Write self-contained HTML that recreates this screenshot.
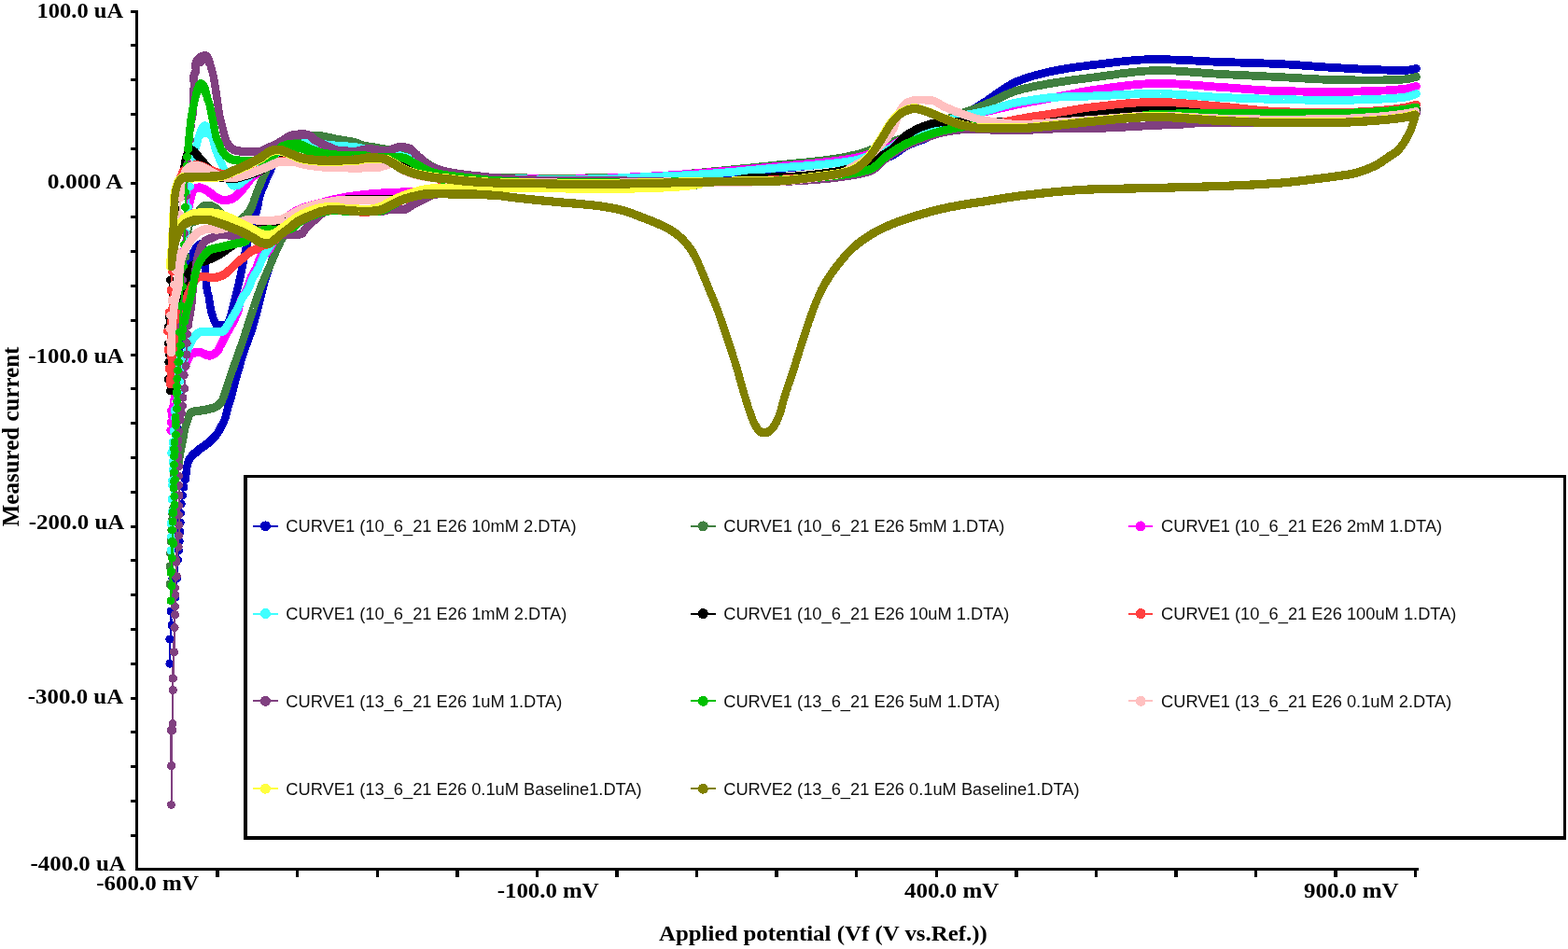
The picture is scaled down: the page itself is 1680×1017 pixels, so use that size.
<!DOCTYPE html>
<html lang="en">
<head>
<meta charset="utf-8">
<title>Cyclic voltammetry overlay</title>
<style>
html,body{margin:0;padding:0;background:#fff;}
body{width:1680px;height:1017px;overflow:hidden;}
svg{display:block;}
.ax{font-family:"Liberation Serif","DejaVu Serif",serif;font-weight:bold;font-size:23.1px;fill:#000;}
.lg{font-family:"Liberation Sans","DejaVu Sans",sans-serif;font-size:18.3px;fill:#111;}
.band{fill:none;stroke-linejoin:round;stroke-linecap:round;}
.thin{fill:none;stroke-width:2;stroke-linejoin:round;}
</style>
</head>
<body>
<svg width="1680" height="1017" viewBox="0 0 1680 1017">
<rect x="0" y="0" width="1680" height="1017" fill="#ffffff"/>

<g shape-rendering="crispEdges">
<g stroke="#0000C0" fill="#0000C0">
<polyline class="band" stroke-width="8.8" points="750,197.5 748.5,197.7 747,198 745.5,198.2 744.1,198.4 742.6,198.6 741.1,198.8 739.6,199 738.1,199.2 736.6,199.3 735.1,199.5 733.6,199.6 732.1,199.7 730.6,199.9 729.1,200 727.6,200.1 726.1,200.2 724.6,200.3 723.1,200.4 721.6,200.5 720.2,200.6 718.7,200.7 717.2,200.8 715.7,200.8 714.2,200.9 712.7,201 711.2,201.1 709.7,201.1 708.2,201.2 706.7,201.3 705.2,201.3 703.7,201.4 702.2,201.4 700.7,201.5 699.2,201.5 697.7,201.6 696.2,201.6 694.7,201.7 693.2,201.7 691.7,201.8 690.2,201.8 688.7,201.8 687.2,201.9 685.7,201.9 684.2,202 682.7,202 681.1,202 679.6,202.1 678.1,202.1 676.6,202.1 675.1,202.2 673.6,202.2 672.1,202.2 670.6,202.3 669.1,202.3 667.6,202.3 666.1,202.3 664.6,202.4 663.1,202.4 661.6,202.4 660.1,202.4 658.6,202.4 657.1,202.4 655.6,202.4 654.1,202.4 652.6,202.4 651.1,202.4 649.6,202.4 648.1,202.4 646.6,202.4 645.1,202.4 643.6,202.4 642.1,202.4 640.6,202.4 639.1,202.3 637.6,202.3 636.1,202.3 634.6,202.3 633.1,202.3 631.6,202.3 630.1,202.3 628.6,202.3 627.1,202.3 625.6,202.2 624.1,202.2 622.6,202.2 621.1,202.2 619.6,202.2 618.1,202.2 616.6,202.2 615.1,202.1 613.6,202.1 612.1,202.1 610.6,202.1 609.1,202.1 607.6,202.1 606.1,202.1 604.6,202 603.1,202 601.6,202 600.1,202 598.6,202 597.1,202 595.6,202 594.1,201.9 592.6,201.9 591.1,201.9 589.6,201.9 588.1,201.9 586.6,201.9 585.1,201.9 583.6,201.8 582.1,201.8 580.6,201.8 579.1,201.8 577.6,201.8 576.1,201.7 574.6,201.7 573.1,201.7 571.6,201.7 570.1,201.7 568.6,201.7 567.1,201.6 565.6,201.6 564.1,201.6 562.6,201.6 561.1,201.6 559.6,201.5 558.1,201.5 556.6,201.5 555.1,201.5 553.6,201.5 552.1,201.4 550.6,201.4 549.1,201.4 547.6,201.4 546.1,201.3 544.6,201.3 543,201.3 541.5,201.3 540,201.2 538.5,201.2 537,201.2 535.5,201.2 534,201.1 532.5,201.1 531,201.1 529.5,201.1 528,201 526.5,201 525,201 523.5,201 522,201 520.5,201 519,201"/>
<polyline class="band" stroke-width="9.2" points="519,201 517.5,201 516,201 514.5,201 513,201 511.5,201 510,201 508.5,201 507,201 505.5,201 504,201 502.5,201 501,201 499.5,201 498,201 496.5,201 495,201 493.5,201 492,201 490.5,201 489,201 487.5,201 486,201.1 484.5,201.1 483,201.1 481.5,201.2 480,201.2 478.5,201.2 477,201.3 475.5,201.3 474,201.4 472.5,201.4 471,201.5 469.5,201.5 468,201.7 466.5,201.9 465.1,202.2 463.6,202.7 462.2,203.2 460.8,203.7 459.4,204.2 458,204.8 456.6,205.4 455.3,206.1 453.9,206.7 452.5,207.3 451.2,207.9 449.8,208.5 448.4,209 447,209.6 445.5,210 444.1,210.4 442.6,210.8 441.2,211.2 439.7,211.5 438.3,211.9 436.8,212.2 435.4,212.6 433.9,213 432.5,213.5 431.1,214 429.7,214.6 428.3,215.2 427,215.8 425.6,216.5 424.3,217.1 422.9,217.8 421.6,218.5 420.2,219.1 418.9,219.8 417.5,220.5 416.2,221.2 414.9,221.9 413.6,222.6 412.2,223.3 410.8,223.9 409.4,224.4 408,224.8 406.5,225.2 405.1,225.6 403.6,225.9 402.1,226.1 400.6,226.2 399.1,226.3 397.6,226.4 396.1,226.5 394.6,226.5 393.1,226.6 391.6,226.6 390.1,226.6 388.6,226.6 387.1,226.6 385.6,226.5 384.1,226.5 382.6,226.4 381.1,226.3 379.6,226.2 378.1,226 376.6,225.9 375.1,225.8 373.7,225.7 372.2,225.5 370.7,225.4 369.2,225.3 367.7,225.2 366.2,225 364.7,224.9 363.2,224.8 361.7,224.6 360.2,224.6 358.7,224.5 357.2,224.5 355.7,224.6 354.2,224.8 352.7,224.9 351.2,225.2 349.8,225.5 348.3,225.8 346.8,226.1 345.4,226.5 343.9,226.8 342.5,227.3 341,227.7 339.6,228.3 338.2,228.8 336.8,229.4 335.5,230 334.1,230.6 332.7,231.1 331.3,231.7 329.9,232.3 328.5,232.9 327.1,233.4 325.8,234.1 324.4,234.7 323.1,235.3 321.7,236 320.4,236.8 319.1,237.5 317.9,238.3 316.6,239.2 315.4,240.1 314.2,241 313.1,241.9 311.9,242.9 310.7,243.8 309.6,244.8"/>
<polyline class="band" stroke-width="8.8" points="309.6,244.8 308.5,245.9 307.5,247 306.5,248.1 305.5,249.3 304.7,250.5 303.9,251.7 303.1,253 302.4,254.3 301.7,255.6 301,257 300.3,258.4"/>
<polyline class="band" stroke-width="8.4" points="300.3,258.4 299.7,259.7 299,261.1 298.4,262.4 297.7,263.8 297.1,265.2 296.5,266.5 295.8,267.9 295.2,269.3 294.6,270.6 294.1,272 293.5,273.4 292.9,274.8 292.4,276.2 291.8,277.6 291.3,279 290.8,280.4 290.3,281.8 289.8,283.3 289.3,284.7 288.8,286.1 288.3,287.5 287.8,288.9 287.3,290.3 286.8,291.8 286.3,293.2 285.9,294.6 285.4,296 284.9,297.5 284.4,298.9 284,300.3 283.5,301.7 283.1,303.2 282.7,304.6 282.3,306.1 282,307.5 281.6,309 281.2,310.4 280.9,311.9 280.6,313.4 280.2,314.8 279.9,316.3 279.5,317.8 279.2,319.2 278.9,320.7 278.5,322.1 278.2,323.6 277.8,325.1 277.4,326.5 277,328 276.6,329.4 276.3,330.9 275.9,332.3 275.5,333.8 275.1,335.2 274.7,336.7 274.3,338.1 273.9,339.6 273.5,341 273.1,342.4 272.7,343.9 272.3,345.3 271.9,346.8 271.4,348.2 271,349.7 270.6,351.1 270.1,352.5 269.7,354 269.2,355.4 268.8,356.8 268.3,358.2 267.7,359.6 267.2,361.1 266.7,362.5 266.2,363.9 265.6,365.3 265.1,366.7 264.6,368.1 264.1,369.5 263.6,370.9 263,372.3 262.5,373.7 262,375.1 261.5,376.6 261,378 260.5,379.4 260.1,380.8 259.6,382.2 259.2,383.7 258.8,385.1 258.4,386.6 258,388 257.6,389.5 257.2,390.9 256.8,392.4 256.4,393.8 256,395.3 255.5,396.7 255.1,398.1 254.7,399.6 254.2,401 253.8,402.4 253.3,403.9 252.9,405.3 252.5,406.8 252.1,408.2 251.7,409.7 251.3,411.1 251,412.6 250.7,414 250.3,415.5 250,417 249.7,418.4 249.3,419.9 249,421.4 248.6,422.8 248.2,424.3 247.8,425.7 247.3,427.1 246.8,428.5 246.3,430 245.9,431.4 245.4,432.8 244.9,434.2 244.5,435.7 244.1,437.1 243.7,438.6 243.4,440 243,441.5 242.6,442.9 242.3,444.4 241.9,445.9 241.5,447.3 241,448.7 240.5,450.1 239.9,451.5 239.2,452.9 238.6,454.2"/>
<polyline class="band" stroke-width="8.8" points="238.6,454.2 237.9,455.6 237.2,456.9 236.6,458.2 235.8,459.6 235.1,460.9 234.3,462.2 233.5,463.5 232.7,464.7 231.8,465.9 230.9,467.1 229.9,468.2 228.9,469.3 227.8,470.4 226.7,471.4 225.6,472.4 224.5,473.4"/>
<polyline class="band" stroke-width="9.2" points="224.5,473.4 223.4,474.4 222.2,475.4 221.1,476.3 219.9,477.2 218.6,478.1 217.4,479 216.1,479.8 214.9,480.7 213.7,481.6 212.5,482.5 211.3,483.4 210.2,484.4 209.1,485.4 207.9,486.4 206.7,487.5"/>
<polyline class="band" stroke-width="8.8" points="206.7,487.5 205.6,488.5 204.6,489.7 203.7,490.8 202.9,492 202.3,493.3"/>
<polyline class="band" stroke-width="8.4" points="202.3,493.3 201.8,494.7 201.3,496.2 200.9,497.6 200.5,499.1 200.3,500.6 200.1,502.1 200,503.6 199.8,505.1 199.6,506.6 199.4,508.1 199.2,509.6 199,511 198.7,512.5 198.5,514"/>
<polyline class="thin" points="198.5,514 197,522 195.5,531 194.3,540 193.6,550 193.2,560 193,570 192.3,580 191.5,590 190.5,600 189.5,620 188,640 183,655 184,670 181.9,685 181.9,711.2"/>
<g stroke="none"><circle cx="198.5" cy="514" r="4.5"/><circle cx="197" cy="522" r="4.5"/><circle cx="195.5" cy="531" r="4.5"/><circle cx="194.3" cy="540" r="4.5"/><circle cx="193.6" cy="550" r="4.5"/><circle cx="193.2" cy="560" r="4.5"/><circle cx="193" cy="570" r="4.5"/><circle cx="192.3" cy="580" r="4.5"/><circle cx="191.5" cy="590" r="4.5"/><circle cx="190.5" cy="600" r="4.5"/><circle cx="189.5" cy="620" r="4.5"/><circle cx="188" cy="640" r="4.5"/><circle cx="183" cy="655" r="4.5"/><circle cx="184" cy="670" r="4.5"/><circle cx="181.9" cy="685" r="4.5"/><circle cx="181.9" cy="711.2" r="4.5"/></g>
<polyline class="thin" points="181.9,711.2 182.6,685 183.6,655 184.8,620 186,570 188,520 190.4,459 192.5,420 195,370 198,330 200.5,302 203,284"/>
<g stroke="none"><circle cx="181.9" cy="711.2" r="4.5"/><circle cx="182.6" cy="685" r="4.5"/><circle cx="183.6" cy="655" r="4.5"/><circle cx="184.8" cy="620" r="4.5"/><circle cx="186" cy="570" r="4.5"/><circle cx="188" cy="520" r="4.5"/><circle cx="190.4" cy="459" r="4.5"/><circle cx="192.5" cy="420" r="4.5"/><circle cx="195" cy="370" r="4.5"/><circle cx="198" cy="330" r="4.5"/><circle cx="200.5" cy="302" r="4.5"/><circle cx="203" cy="284" r="4.5"/></g>
<polyline class="band" stroke-width="8.4" points="203,284 203.3,282.5 203.6,281 204,279.6 204.4,278.1 204.9,276.7 205.3,275.3 205.9,273.9 206.5,272.5 207.1,271.1"/>
<polyline class="band" stroke-width="8.8" points="207.1,271.1 207.8,269.8 208.5,268.5 209.3,267.2 210.1,265.9 211,264.6 211.9,263.6 213.1,262.5"/>
<polyline class="band" stroke-width="9.2" points="213.1,262.5 214.4,261.8 215.6,262.5"/>
<polyline class="band" stroke-width="8.8" points="215.6,262.5 216.5,263.9"/>
<polyline class="band" stroke-width="8.4" points="216.5,263.9 216.9,265.2 217.2,266.7 217.5,268.2 217.7,269.7 217.9,271.3 218.1,272.8 218.3,274.3 218.5,275.7 218.7,277.2 218.9,278.7 219,280.2 219.2,281.7 219.3,283.2 219.5,284.7 219.6,286.2 219.7,287.7 219.8,289.2 220,290.7 220.1,292.2 220.2,293.7 220.3,295.2 220.4,296.7 220.5,298.2 220.6,299.7 220.8,301.2 220.9,302.7 221,304.2 221.2,305.7 221.3,307.2 221.5,308.7 221.7,310.1 221.9,311.6 222.3,313.1 222.7,314.5 223.2,315.9 223.6,317.4 223.9,318.9 224.1,320.3 224.3,321.8 224.5,323.3 224.7,324.8 224.9,326.3 225.1,327.8 225.4,329.3 225.7,330.7 226,332.2 226.3,333.7 226.7,335.1 227.1,336.6 227.6,338 228,339.5 228.5,340.9 229.1,342.3 229.7,343.7 230.3,345.2"/>
<polyline class="band" stroke-width="8.8" points="230.3,345.2 231.1,346.5 232,347.5"/>
<polyline class="band" stroke-width="9.2" points="232,347.5 233.2,348.1 234.7,348.6 236.3,349 237.8,349 239.4,348.8 241,348.4 242.4,347.9 243.3,347.4 244.1,346.6"/>
<polyline class="band" stroke-width="8.8" points="244.1,346.6 244.8,345.5 245.4,344.2"/>
<polyline class="band" stroke-width="8.4" points="245.4,344.2 245.9,342.7 246.4,341.1 246.9,339.5 247.4,337.8 247.8,336.1 248.2,334.5 248.6,333 249,331.6 249.4,330.1 249.8,328.7 250.1,327.2 250.4,325.8 250.8,324.3 251.1,322.8 251.4,321.4 251.8,319.9 252.1,318.4 252.5,317 252.8,315.5 253.2,314.1 253.6,312.6 254,311.1 254.3,309.7 254.7,308.2 255.1,306.8 255.4,305.3 255.8,303.9 256.1,302.4 256.5,300.9 256.8,299.5 257.1,298 257.5,296.6 257.8,295.1 258.1,293.6 258.4,292.2 258.7,290.7 259,289.2 259.3,287.7 259.6,286.3 259.9,284.8 260.2,283.3 260.5,281.9 260.8,280.4 261.1,278.9 261.4,277.4 261.6,276 261.9,274.5 262.2,273 262.5,271.5 262.8,270.1 263.1,268.6 263.4,267.1 263.7,265.7 264,264.2 264.4,262.7 264.7,261.3 265.1,259.8 265.5,258.4 265.9,256.9 266.4,255.5 266.8,254.1 267.2,252.6 267.6,251.2 268.1,249.7 268.5,248.3 269,246.9 269.4,245.4 269.9,244 270.4,242.6 270.8,241.2 271.3,239.7 271.7,238.3 272.1,236.8 272.5,235.4 272.9,233.9 273.3,232.5 273.7,231 274.1,229.6 274.4,228.1 274.8,226.7 275.2,225.2 275.6,223.8 275.9,222.3 276.2,220.9 276.5,219.4 276.8,217.9 277.1,216.4 277.3,214.9 277.6,213.5 277.9,212 278.3,210.5 278.7,209.1 279.1,207.7 279.6,206.3 280.1,204.9 280.7,203.5 281.3,202.1 281.9,200.7 282.5,199.3 283.1,197.9 283.7,196.6 284.3,195.2 284.8,193.8 285.4,192.4 286,191 286.6,189.6 287.2,188.2 287.8,186.9 288.4,185.5 289,184.1 289.7,182.8 290.3,181.4 290.9,180.1 291.6,178.7 292.3,177.3"/>
<polyline class="band" stroke-width="8.8" points="292.3,177.3 292.9,176 293.6,174.7 294.3,173.3 295.1,172 295.8,170.8 296.6,169.5 297.4,168.2 298.3,167 299.2,165.7 300.1,164.5 301,163.3 302,162.1 303,161 304,160 305.1,159 306.2,158"/>
<polyline class="band" stroke-width="9.2" points="306.2,158 307.4,157 308.6,156 309.9,155.1 311.2,154.3 312.5,153.6 313.8,153.1 315.2,152.6 316.6,152.1 318,151.7 319.5,151.3 321,150.9 322.5,150.7 324,150.5 325.5,150.5 327,150.5 328.5,150.5 330,150.6 331.5,150.6 333,150.7 334.5,150.7 336,150.8 337.5,150.9 339,151 340.5,151 342,151.1 343.5,151.3 345,151.4 346.5,151.6 348,151.9 349.4,152.1 350.9,152.4 352.4,152.6 353.9,152.9 355.3,153.2 356.8,153.5 358.3,153.8 359.8,154.1 361.3,154.4 362.7,154.7 364.2,155 365.7,155.3 367.2,155.6 368.7,155.8 370.1,156 371.6,156.2 373.1,156.4 374.6,156.6 376.1,156.8 377.6,157 379.1,157.2 380.6,157.3 382.1,157.5 383.6,157.7 385.1,157.8 386.6,158 388.1,158.2 389.5,158.3 391,158.5 392.5,158.7 394,158.8 395.5,159 397,159.2 398.5,159.3 400,159.5 401.5,159.7 403,159.9 404.4,160.1 405.9,160.4 407.4,160.6 408.9,160.8 410.4,161.1 411.8,161.3 413.3,161.6 414.8,161.9 416.2,162.2 417.7,162.5 419.2,162.8 420.7,163.1 422.1,163.4 423.6,163.8 425.1,164.1 426.5,164.5 428,164.9 429.5,165.3 430.9,165.7 432.4,166.1 433.8,166.5 435.3,166.9 436.7,167.3 438.2,167.8 439.6,168.2 441,168.7 442.4,169.1 443.8,169.6 445.2,170.1 446.6,170.6 448,171.2 449.4,171.8 450.7,172.4 452.1,173.1 453.4,173.8 454.7,174.5 456.1,175.3 457.4,176 458.7,176.7 460.1,177.5 461.4,178.2 462.7,178.9 464.1,179.6 465.4,180.2 466.8,180.8 468.2,181.4 469.6,181.9 471,182.3 472.4,182.8 473.8,183.2 475.3,183.6 476.7,184.1 478.1,184.5 479.6,184.9 481.1,185.2 482.5,185.6 484,186 485.5,186.3 487,186.6 488.4,186.9 489.9,187.2 491.4,187.5 492.9,187.7 494.4,187.9 495.8,188.1 497.3,188.3 498.8,188.5 500.3,188.6 501.8,188.8 503.3,189 504.7,189.1 506.2,189.3 507.7,189.4 509.2,189.6 510.7,189.7 512.2,189.8 513.7,190 515.2,190.1 516.7,190.2 518.2,190.3 519.7,190.4 521.2,190.5"/>
<polyline class="band" stroke-width="8.8" points="521.2,190.5 522.7,190.6 524.2,190.7 525.7,190.8 527.3,190.8 528.8,190.9 530.3,190.9 531.8,191 533.2,191 534.7,191.1 536.2,191.1 537.7,191.1 539.2,191.2 540.7,191.2 542.2,191.3 543.7,191.3 545.2,191.3 546.7,191.4 548.2,191.4 549.7,191.4 551.2,191.5 552.7,191.5 554.2,191.5 555.7,191.5 557.2,191.6 558.8,191.6 560.3,191.6 561.8,191.7 563.3,191.7 564.8,191.7 566.3,191.7 567.8,191.8 569.3,191.8 570.8,191.8 572.3,191.8 573.8,191.8 575.3,191.9 576.8,191.9 578.3,191.9 579.8,191.9 581.3,191.9 582.8,191.9 584.3,191.9 585.8,191.9 587.3,192 588.8,192 590.3,192 591.8,192 593.3,192 594.8,192 596.3,192 597.8,192 599.3,192 600.8,192 602.3,192 603.8,192 605.3,192 606.8,192 608.3,192 609.8,192 611.3,192 612.8,191.9 614.3,191.9 615.8,191.9 617.3,191.9 618.8,191.9 620.3,191.9 621.8,191.9 623.3,191.8 624.8,191.8 626.3,191.8 627.8,191.8 629.3,191.7 630.8,191.7 632.3,191.7 633.8,191.7 635.3,191.6 636.8,191.6 638.3,191.6 639.8,191.5 641.3,191.5 642.8,191.5 644.3,191.4 645.8,191.4 647.3,191.4 648.8,191.3 650.3,191.3 651.8,191.3 653.3,191.2 654.8,191.2 656.3,191.2 657.8,191.1 659.3,191.1 660.8,191 662.3,191 663.8,191 665.3,190.9 666.8,190.9 668.3,190.8 669.8,190.8 671.3,190.7 672.8,190.7 674.3,190.7 675.8,190.6 677.3,190.6 678.8,190.5 680.3,190.5 681.8,190.4 683.3,190.4 684.8,190.3 686.3,190.3 687.8,190.2 689.3,190.2 690.8,190.2 692.3,190.1 693.8,190.1 695.3,190 696.8,190 698.3,189.9 699.8,189.9 701.3,189.8 702.8,189.8 704.3,189.7 705.8,189.7 707.3,189.6 708.8,189.5 710.3,189.5 711.8,189.4 713.3,189.3 714.8,189.3 716.3,189.2 717.8,189.1 719.3,189.1 720.8,189 722.3,188.9 723.8,188.8 725.3,188.8 726.8,188.7 728.3,188.6 729.8,188.5 731.3,188.4 732.8,188.4 734.3,188.3 735.8,188.2 737.3,188.1 738.8,188 740.3,187.9 741.8,187.8 743.3,187.8 744.8,187.7 746.3,187.6 747.8,187.5 749.3,187.4 750.8,187.3 752.3,187.2 753.8,187.1 755.3,187 756.8,187 758.3,186.9 759.8,186.8 761.3,186.7 762.8,186.6 764.3,186.5 765.8,186.4 767.3,186.3 768.8,186.2 770.3,186.1 771.8,186 773.3,185.9 774.8,185.7 776.3,185.6 777.8,185.5 779.3,185.4 780.8,185.3 782.3,185.2 783.8,185.1 785.3,185 786.8,184.8 788.3,184.7 789.8,184.6 791.2,184.5 792.7,184.4 794.2,184.2 795.7,184.1 797.2,184 798.7,183.9 800.2,183.8 801.7,183.6 803.2,183.5 804.7,183.4 806.2,183.3 807.7,183.1 809.2,183 810.7,182.9 812.2,182.7 813.7,182.6 815.2,182.5 816.7,182.3 818.2,182.2 819.7,182.1 821.2,182 822.7,181.8 824.2,181.7 825.7,181.6 827.1,181.4 828.6,181.3 830.1,181.2 831.6,181 833.1,180.9 834.6,180.8 836.1,180.6 837.6,180.5 839.1,180.4 840.6,180.2 842.1,180.1 843.6,179.9 845.1,179.8 846.6,179.6 848.1,179.5 849.6,179.4 851.1,179.2 852.6,179.1 854,178.9 855.5,178.8 857,178.6 858.5,178.5 860,178.3 861.5,178.2 863,178 864.5,177.9 866,177.7 867.5,177.6 869,177.4 870.5,177.2 872,177.1 873.5,176.9 875,176.8 876.4,176.6 877.9,176.5 879.4,176.3 880.9,176.2 882.4,176 883.9,175.8 885.4,175.7 886.9,175.5 888.4,175.4 889.9,175.2 891.4,175.1 892.9,174.9 894.4,174.8 895.9,174.6 897.4,174.4 898.8,174.3 900.3,174.1 901.8,174 903.3,173.8 904.8,173.7 906.3,173.5 907.8,173.3 909.3,173.2 910.8,173 912.3,172.9 913.8,172.7 915.3,172.5 916.8,172.4 918.2,172.2 919.7,172 921.2,171.9 922.7,171.7 924.2,171.5 925.8,171.4 927.3,171.2 928.8,171.1 930.3,171 931.9,170.8 933.4,170.7 934.9,170.5 936.4,170.4 938,170.2 939.5,170 941,169.8 942.4,169.7 943.9,169.5 945.4,169.2 946.8,169 948.3,168.8 949.7,168.5 951.1,168.2 952.5,167.9 953.8,167.5 955.1,166.9 956.5,166.3 957.7,165.6 959,164.8 960.3,163.9 961.5,163 962.8,162.1 964,161.2 965.3,160.3 966.6,159.3 967.8,158.5 969.1,157.6 970.4,156.8 971.7,156.1 973.1,155.5 974.5,154.9 975.8,154.3 977.2,153.8 978.7,153.2 980.1,152.7 981.5,152.2 982.9,151.7 984.3,151.2 985.8,150.7 987.2,150.1 988.6,149.6 989.9,149 991.3,148.4 992.6,147.7 993.9,147 995.2,146.3 996.5,145.5 997.7,144.7 999,143.9 1000.2,143 1001.5,142.2 1002.7,141.3 1003.9,140.4 1005.2,139.5 1006.4,138.7 1007.7,137.8 1008.9,137 1010.2,136.1 1011.4,135.3 1012.7,134.6 1014,133.8 1015.3,133 1016.6,132.3 1017.9,131.6 1019.2,130.8 1020.5,130.1 1021.9,129.4 1023.2,128.7 1024.5,128 1025.8,127.2 1027.1,126.5 1028.5,125.8 1029.8,125.1 1031.1,124.3 1032.4,123.6 1033.7,122.9 1035,122.1 1036.3,121.3 1037.6,120.6 1038.8,119.8 1040.1,119 1041.4,118.2 1042.7,117.4 1043.9,116.6 1045.2,115.8 1046.4,114.9 1047.7,114.1 1049,113.3 1050.2,112.5 1051.5,111.7 1052.8,110.9 1054,110.1 1055.3,109.3 1056.6,108.4 1057.8,107.6 1059.1,106.7 1060.3,105.8 1061.6,105 1062.8,104.1 1064.1,103.2 1065.3,102.3 1066.5,101.4 1067.8,100.5 1069,99.7 1070.3,98.8 1071.5,97.9 1072.8,97.1 1074.1,96.2 1075.3,95.4 1076.6,94.6 1077.8,93.7 1079.1,93 1080.4,92.2 1081.7,91.4 1083,90.7 1084.3,90 1085.6,89.3 1086.9,88.6 1088.2,88 1089.6,87.4 1090.9,86.8 1092.3,86.3 1093.6,85.8 1095,85.3 1096.4,84.8 1097.8,84.3 1099.2,83.8 1100.6,83.3 1102,82.9 1103.5,82.4 1104.9,82 1106.3,81.6 1107.8,81.1 1109.2,80.7 1110.7,80.3 1112.2,79.9 1113.6,79.5 1115.1,79.1 1116.6,78.8 1118.1,78.4 1119.5,78.1 1121,77.7 1122.5,77.4 1124,77.1 1125.5,76.7 1126.9,76.4 1128.4,76.1 1129.9,75.8 1131.3,75.5 1132.8,75.2 1134.3,75 1135.8,74.7 1137.2,74.4 1138.7,74.2 1140.2,73.9 1141.7,73.7 1143.1,73.4 1144.6,73.2 1146.1,72.9 1147.6,72.7 1149.1,72.5 1150.6,72.3 1152.1,72.1 1153.5,71.8 1155,71.6 1156.5,71.4 1158,71.2 1159.5,71 1161,70.9 1162.5,70.7 1164,70.5 1165.5,70.3 1167,70.1 1168.5,69.9 1169.9,69.8 1171.4,69.6 1172.9,69.4 1174.4,69.2 1175.9,69 1177.4,68.9 1178.9,68.7 1180.4,68.5 1181.9,68.3 1183.4,68.1 1184.9,67.9 1186.3,67.7 1187.8,67.6 1189.3,67.4 1190.8,67.2 1192.3,67 1193.8,66.8 1195.3,66.7 1196.8,66.5 1198.3,66.3 1199.8,66.1 1201.3,66 1202.8,65.8 1204.3,65.6 1205.8,65.5 1207.3,65.3 1208.8,65.2 1210.3,65 1211.8,64.9 1213.3,64.8 1214.8,64.6 1216.3,64.5 1217.8,64.4 1219.2,64.3 1220.7,64.2 1222.2,64.1 1223.7,64 1225.2,63.9 1226.7,63.9 1228.2,63.8 1229.7,63.7 1231.2,63.7 1232.7,63.7 1234.2,63.6 1235.7,63.6 1237.2,63.6 1238.7,63.6 1240.2,63.6 1241.7,63.6 1243.2,63.6 1244.7,63.7 1246.2,63.7 1247.7,63.7 1249.2,63.7 1250.7,63.8 1252.2,63.8 1253.7,63.9 1255.2,63.9 1256.7,64 1258.2,64 1259.7,64.1 1261.2,64.1 1262.7,64.2 1264.2,64.3 1265.7,64.3 1267.2,64.4 1268.7,64.5 1270.2,64.5 1271.7,64.6 1273.2,64.7 1274.7,64.8 1276.2,64.8 1277.7,64.9 1279.2,65 1280.7,65.1 1282.2,65.2 1283.7,65.2 1285.2,65.3 1286.7,65.4 1288.2,65.5 1289.7,65.6 1291.2,65.6 1292.7,65.7 1294.2,65.8 1295.7,65.9 1297.2,65.9 1298.7,66 1300.2,66.1 1301.7,66.1 1303.2,66.2 1304.7,66.3 1306.2,66.3 1307.7,66.4 1309.2,66.4 1310.7,66.5 1312.2,66.5 1313.7,66.6 1315.2,66.6 1316.7,66.7 1318.2,66.7 1319.7,66.8 1321.2,66.8 1322.7,66.9 1324.2,66.9 1325.7,67 1327.2,67 1328.7,67.1 1330.2,67.1 1331.7,67.2 1333.2,67.2 1334.7,67.2 1336.2,67.3 1337.7,67.3 1339.2,67.4 1340.7,67.4 1342.2,67.5 1343.7,67.5 1345.2,67.6 1346.7,67.6 1348.2,67.7 1349.7,67.7 1351.2,67.8 1352.7,67.8 1354.2,67.9 1355.7,67.9 1357.2,68 1358.7,68 1360.2,68.1 1361.7,68.1 1363.2,68.2 1364.7,68.3 1366.2,68.3 1367.7,68.4 1369.2,68.5 1370.7,68.5 1372.2,68.6 1373.7,68.7 1375.2,68.8 1376.7,68.9 1378.2,68.9 1379.7,69 1381.2,69.1 1382.7,69.2 1384.2,69.3 1385.7,69.4 1387.2,69.5 1388.7,69.6 1390.2,69.7 1391.7,69.8 1393.2,70 1394.7,70.1 1396.2,70.2 1397.7,70.3 1399.2,70.4 1400.7,70.5 1402.2,70.6 1403.7,70.7 1405.2,70.8 1406.7,71 1408.2,71.1 1409.7,71.2 1411.2,71.3 1412.7,71.4 1414.1,71.5 1415.6,71.6 1417.1,71.7 1418.6,71.8 1420.1,71.9 1421.6,72 1423.1,72.1 1424.6,72.2 1426.1,72.3 1427.6,72.4 1429.1,72.5 1430.6,72.5 1432.1,72.6 1433.6,72.7 1435.1,72.8 1436.6,72.9 1438.1,73 1439.6,73.1 1441.1,73.1 1442.6,73.2 1444.1,73.3 1445.6,73.4 1447.1,73.5 1448.6,73.5 1450.1,73.6 1451.6,73.7 1453.1,73.8 1454.6,73.9 1456.1,73.9 1457.6,74 1459.1,74.1 1460.6,74.1 1462.1,74.2 1463.6,74.3 1465.1,74.3 1466.6,74.4 1468.1,74.4 1469.6,74.5 1471.1,74.5 1472.6,74.6 1474.1,74.6 1475.6,74.7 1477.1,74.8 1478.6,74.8 1480.1,74.9 1481.6,74.9 1483.1,75 1484.6,75 1486.1,75.1 1487.6,75.1 1489.1,75.2 1490.6,75.2 1492.1,75.2 1493.6,75.3 1495.1,75.3 1496.6,75.3 1498.1,75.4 1499.6,75.4 1501.1,75.4 1502.6,75.4 1504.1,75.4 1505.6,75.4 1507.1,75.2 1508.6,75.1 1510.1,74.9 1511.6,74.6 1513.1,74.4 1514.5,74.1 1516,73.8 1517.5,73.5"/>
</g>
<g stroke="#408040" fill="#408040">
<polyline class="band" stroke-width="8.8" points="750,197.5 748.5,197.7 747,198 745.6,198.2 744.1,198.4 742.6,198.6 741.1,198.8 739.6,199 738.1,199.2 736.6,199.3 735.1,199.5 733.6,199.6 732.1,199.7 730.7,199.9 729.2,200 727.7,200.1 726.2,200.2 724.7,200.3 723.2,200.4 721.7,200.5 720.2,200.6 718.7,200.7 717.2,200.8 715.7,200.8 714.2,200.9 712.7,201 711.2,201.1 709.7,201.1 708.2,201.2 706.7,201.3 705.2,201.3 703.7,201.4 702.2,201.4 700.7,201.5 699.2,201.5 697.7,201.6 696.2,201.6 694.7,201.7 693.2,201.7 691.7,201.8 690.2,201.8 688.7,201.8 687.2,201.9 685.7,201.9 684.2,202 682.7,202 681.2,202 679.7,202.1 678.2,202.1 676.7,202.1 675.2,202.2 673.7,202.2 672.2,202.2 670.7,202.3 669.2,202.3 667.7,202.3 666.2,202.3 664.7,202.4 663.2,202.4 661.7,202.4 660.2,202.4 658.7,202.4 657.2,202.4 655.7,202.4 654.2,202.4 652.7,202.4 651.2,202.4 649.7,202.4 648.2,202.4 646.7,202.4 645.2,202.4 643.7,202.4 642.2,202.4 640.7,202.4 639.2,202.3 637.7,202.3 636.2,202.3 634.7,202.3 633.2,202.3 631.7,202.3 630.2,202.3 628.7,202.3 627.2,202.3 625.7,202.2 624.2,202.2 622.7,202.2 621.2,202.2 619.7,202.2 618.2,202.2 616.7,202.2 615.2,202.1 613.7,202.1 612.2,202.1 610.7,202.1 609.2,202.1 607.7,202.1 606.2,202.1 604.7,202 603.2,202 601.7,202 600.2,202 598.7,202 597.2,202 595.7,202 594.2,201.9 592.7,201.9 591.2,201.9 589.7,201.9 588.2,201.9 586.7,201.9 585.2,201.9 583.7,201.8 582.2,201.8 580.7,201.8 579.2,201.8 577.7,201.8 576.2,201.7 574.7,201.7 573.2,201.7 571.7,201.7 570.2,201.7 568.7,201.7 567.2,201.6 565.7,201.6 564.2,201.6 562.7,201.6 561.2,201.6 559.7,201.5 558.2,201.5 556.7,201.5 555.2,201.5 553.7,201.5 552.2,201.4 550.7,201.4 549.2,201.4 547.7,201.4 546.2,201.3 544.7,201.3 543.2,201.3 541.7,201.3 540.2,201.2 538.7,201.2 537.2,201.2 535.7,201.2 534.2,201.1 532.7,201.1 531.2,201.1 529.7,201.1 528.2,201 526.7,201 525.2,201 523.7,201 522.2,201 520.7,201 519.2,201"/>
<polyline class="band" stroke-width="9.2" points="519.2,201 517.7,201 516.2,201 514.7,201 513.2,201 511.7,201 510.2,201 508.7,201 507.2,201 505.7,201 504.2,201 502.7,201 501.2,201 499.7,201 498.2,201 496.7,201 495.2,201 493.7,201 492.2,201 490.7,201 489.2,201 487.7,201 486.2,201.1 484.7,201.1 483.2,201.1 481.7,201.1 480.2,201.2 478.7,201.2 477.2,201.3 475.7,201.3 474.2,201.4 472.7,201.4 471.2,201.4 469.7,201.5 468.2,201.7 466.7,201.9 465.3,202.2 463.8,202.6 462.4,203.1 461,203.6 459.6,204.2 458.2,204.7 456.9,205.3 455.5,206 454.1,206.6 452.8,207.2 451.4,207.8 450,208.4 448.6,209 447.2,209.5 445.8,209.9 444.3,210.4 442.9,210.7 441.4,211.1 440,211.5 438.5,211.8 437.1,212.2 435.6,212.6 434.2,213 432.7,213.4 431.3,213.9 429.9,214.5 428.5,215.1 427.2,215.7 425.8,216.4 424.5,217 423.1,217.7 421.8,218.3 420.4,219 419.1,219.7 417.8,220.3 416.4,221 415.1,221.8 413.8,222.5 412.4,223.1 411.1,223.8 409.7,224.3 408.3,224.8 406.8,225.2 405.4,225.5 403.9,225.8 402.4,226.1 400.9,226.2 399.4,226.3 397.9,226.4 396.4,226.5 394.9,226.5 393.4,226.5 391.9,226.6 390.4,226.6 388.9,226.6 387.4,226.6 385.9,226.5 384.4,226.5 382.9,226.4 381.4,226.3 379.9,226.2 378.4,226.1 376.9,225.9 375.4,225.8 374,225.7 372.5,225.6 371,225.5 369.5,225.3 368,225.2 366.5,225.1 365,224.9 363.5,224.8 362,224.7 360.5,224.6 359,224.5 357.5,224.5 356,224.6 354.5,224.7 353,224.9 351.5,225.2 350.1,225.4 348.6,225.7 347.1,226.1 345.7,226.4 344.2,226.8 342.8,227.2 341.3,227.6 339.9,228.1 338.5,228.7 337.1,229.3 335.8,229.8 334.4,230.4 333,231 331.6,231.6 330.2,232.1 328.8,232.7 327.5,233.3 326.1,233.9 324.7,234.5 323.4,235.2 322,235.9 320.7,236.6 319.4,237.4 318.2,238.2 316.9,239 315.7,239.9 314.5,240.8 313.3,241.7 312.1,242.6 311,243.6 309.9,244.6"/>
<polyline class="band" stroke-width="8.8" points="309.9,244.6 308.8,245.7 307.8,246.8 306.8,247.9 305.9,249.1 305.1,250.4 304.3,251.6 303.5,252.9 302.8,254.2 302.1,255.6 301.5,256.9"/>
<polyline class="band" stroke-width="8.4" points="301.5,256.9 300.8,258.3 300.2,259.7 299.6,261 298.9,262.4 298.3,263.7 297.7,265.1 297,266.5 296.4,267.8 295.8,269.2 295.2,270.6 294.6,272 294,273.3 293.4,274.7 292.9,276.1 292.3,277.5 291.7,278.9 291.1,280.2 290.5,281.6 289.9,283 289.3,284.4 288.7,285.8 288.1,287.1 287.5,288.5 286.9,289.9 286.3,291.3 285.7,292.6 285.1,294 284.5,295.4 283.9,296.7 283.3,298.1 282.7,299.5 282.1,300.9 281.5,302.3 281,303.6 280.4,305 279.9,306.4 279.4,307.8 278.8,309.3 278.3,310.7 277.8,312.1 277.3,313.5 276.8,314.9 276.3,316.3 275.8,317.7 275.3,319.2 274.9,320.6 274.4,322 273.9,323.4 273.4,324.8 272.9,326.2 272.4,327.7 271.9,329.1 271.5,330.5 271,331.9 270.5,333.4 270,334.8 269.6,336.2 269.1,337.6 268.6,339.1 268.2,340.5 267.7,341.9 267.2,343.3 266.8,344.8 266.3,346.2 265.9,347.6 265.4,349 264.9,350.5 264.5,351.9 264,353.3 263.5,354.8 263.1,356.2 262.6,357.6 262.1,359 261.7,360.5 261.2,361.9 260.7,363.3 260.3,364.7 259.8,366.1 259.3,367.6 258.8,369 258.3,370.4 257.8,371.8 257.3,373.2 256.8,374.7 256.3,376.1 255.8,377.5 255.3,378.9 254.8,380.3 254.3,381.7 253.8,383.1 253.3,384.6 252.8,386 252.3,387.4 251.8,388.8 251.3,390.2 250.8,391.6 250.3,393 249.8,394.4 249.3,395.9 248.8,397.3 248.3,398.7 247.8,400.1 247.4,401.5 246.9,402.9 246.4,404.4 245.9,405.8 245.4,407.2 245,408.6 244.5,410.1 244.1,411.5 243.6,412.9 243.2,414.4 242.7,415.8 242.2,417.2 241.8,418.6 241.3,420.1 240.8,421.5 240.3,423 239.9,424.5 239.4,425.9 238.8,427.3 238.2,428.7 237.6,429.9"/>
<polyline class="band" stroke-width="8.8" points="237.6,429.9 236.8,431.2 235.9,432.3 234.8,433.4 233.6,434.4"/>
<polyline class="band" stroke-width="9.2" points="233.6,434.4 232.4,435.2 231.1,436 229.7,436.7 228.4,437.2 226.9,437.6 225.5,438 224,438.4 222.5,438.7 221.1,439 219.6,439.3 218.1,439.5 216.6,439.7 215.1,439.9 213.7,440.2 212.1,440.4 210.5,440.6 208.8,440.9 207.2,441.2 205.9,441.5 204.8,442 204,442.7"/>
<polyline class="band" stroke-width="8.8" points="204,442.7 203.3,443.9"/>
<polyline class="band" stroke-width="8.4" points="203.3,443.9 202.7,445.5 202.2,447.1 201.6,448.7 201.1,450.1 200.5,451.5 200,452.9 199.5,454.3 199.1,455.7 198.7,457.2 198.4,458.6 198.1,460.1 197.8,461.6 197.5,463.1 197.2,464.5 196.9,466 196.6,467.5 196.4,469 196.1,470.4 195.8,471.9 195.5,473.4 195.2,474.9 194.9,476.3 194.7,477.8 194.4,479.3 194.1,480.8 193.8,482.2 193.5,483.7 193.3,485.2 193,486.7 192.8,488.1 192.5,489.6 192.3,491.1 192.1,492.6 191.8,494.1 191.6,495.5 191.4,497 191.2,498.5 191,500"/>
<polyline class="thin" points="191,500 189.5,510 188,521 186.8,532 185.8,544 184.8,556 183.8,568 183,580 182.4,593 182,607 182,626"/>
<g stroke="none"><circle cx="191" cy="500" r="4.5"/><circle cx="189.5" cy="510" r="4.5"/><circle cx="188" cy="521" r="4.5"/><circle cx="186.8" cy="532" r="4.5"/><circle cx="185.8" cy="544" r="4.5"/><circle cx="184.8" cy="556" r="4.5"/><circle cx="183.8" cy="568" r="4.5"/><circle cx="183" cy="580" r="4.5"/><circle cx="182.4" cy="593" r="4.5"/><circle cx="182" cy="607" r="4.5"/><circle cx="182" cy="626" r="4.5"/></g>
<polyline class="thin" points="182,626 183,590 184.5,550 186,510 188,470 190,430 192,390 194,350 196.5,310 199,275 203,252 207,238"/>
<g stroke="none"><circle cx="182" cy="626" r="4.5"/><circle cx="183" cy="590" r="4.5"/><circle cx="184.5" cy="550" r="4.5"/><circle cx="186" cy="510" r="4.5"/><circle cx="188" cy="470" r="4.5"/><circle cx="190" cy="430" r="4.5"/><circle cx="192" cy="390" r="4.5"/><circle cx="194" cy="350" r="4.5"/><circle cx="196.5" cy="310" r="4.5"/><circle cx="199" cy="275" r="4.5"/><circle cx="203" cy="252" r="4.5"/><circle cx="207" cy="238" r="4.5"/></g>
<polyline class="band" stroke-width="8.4" points="207,238 207.6,236.6"/>
<polyline class="band" stroke-width="8.8" points="207.6,236.6 208.3,235.3 209,234 209.7,232.6 210.4,231.3 211.1,230 211.9,228.7 212.6,227.4 213.4,226 214.2,224.8 215.1,223.6 216.2,222.5"/>
<polyline class="band" stroke-width="9.2" points="216.2,222.5 217.4,221.6 218.7,220.9 220.1,220.5 221.6,220.2 223.1,220.3 224.6,220.5 226.1,220.8 227.5,221.2 228.8,221.8 230.1,222.6 231.4,223.5 232.6,224.4 233.8,225.4 234.9,226.4"/>
<polyline class="band" stroke-width="8.8" points="234.9,226.4 235.9,227.4 236.9,228.6 237.9,229.8 238.8,231 239.7,232.1 240.7,233.3 241.7,234.6 242.7,235.8 243.8,236.9"/>
<polyline class="band" stroke-width="9.2" points="243.8,236.9 245,237.5 246.3,237.8 247.8,238.1 249.4,238.3 250.9,238.5 252.4,238.5 253.8,238.2 255.1,237.6 256.4,236.7 257.7,235.8 259,234.8 260.2,233.9 261.3,232.9 262.4,231.9"/>
<polyline class="band" stroke-width="8.8" points="262.4,231.9 263.5,230.8 264.5,229.7 265.5,228.5 266.4,227.4 267.3,226.1 268.1,224.8 268.8,223.5 269.5,222.2"/>
<polyline class="band" stroke-width="8.4" points="269.5,222.2 270.1,220.8 270.6,219.5 271.1,218 271.6,216.6 272.1,215.2 272.5,213.7 273,212.3 273.5,210.9 274,209.5 274.5,208.1 275.1,206.7 275.6,205.3 276.2,203.9 276.7,202.5 277.3,201.1 277.9,199.7 278.5,198.3 279,196.9 279.6,195.5 280.2,194.1 280.8,192.8 281.4,191.4 281.9,190 282.5,188.6 283.1,187.2 283.8,185.9 284.4,184.5 285,183.1 285.6,181.8 286.3,180.4 286.9,179.1 287.6,177.7 288.2,176.3"/>
<polyline class="band" stroke-width="8.8" points="288.2,176.3 288.9,175 289.6,173.7 290.3,172.3 291,171 291.7,169.7 292.5,168.4 293.2,167.1 294,165.8 294.8,164.5 295.6,163.3 296.5,162 297.4,160.8 298.3,159.7 299.2,158.5 300.2,157.3 301.2,156.2 302.3,155.1 303.4,154.1"/>
<polyline class="band" stroke-width="9.2" points="303.4,154.1 304.5,153.1 305.7,152.2 306.9,151.4 308.2,150.6 309.5,149.9 310.9,149.2 312.3,148.6 313.7,148 315.1,147.5 316.5,147 317.9,146.5 319.4,146 320.8,145.6 322.3,145.3 323.8,145.1 325.3,145 326.8,145 328.3,145 329.8,145.1 331.3,145.1 332.8,145.1 334.3,145.2 335.8,145.2 337.3,145.3 338.8,145.4 340.3,145.5 341.8,145.6 343.3,145.7 344.8,146 346.2,146.3 347.7,146.6 349.2,146.9 350.7,147.2 352.1,147.5 353.6,147.7 355.1,148 356.5,148.4 358,148.7 359.5,149 361,149.3 362.4,149.5 363.9,149.8 365.4,150.1 366.9,150.3 368.4,150.6 369.9,150.8 371.4,151 372.8,151.3 374.3,151.5 375.8,151.8 377.3,152.1 378.7,152.4 380.2,152.7 381.6,153.2 383,153.8 384.4,154.4 385.8,155 387.2,155.5 388.6,155.9 390,156.3 391.5,156.5 393,156.8 394.5,157 396,157.3 397.4,157.5 398.9,157.7 400.4,157.9 401.9,158.2 403.4,158.4 404.9,158.7 406.3,159 407.8,159.2 409.3,159.5 410.8,159.7 412.3,160 413.8,160.2 415.2,160.4 416.7,160.7 418.2,160.9 419.7,161.1 421.2,161.4 422.7,161.6 424.2,161.8 425.6,162.1 427.1,162.4 428.6,162.7 430,163 431.5,163.4 432.9,163.7 434.4,164.2 435.8,164.6 437.3,165.1 438.7,165.6 440.1,166.1 441.5,166.6 442.9,167.2 444.3,167.7 445.7,168.3 447,168.9 448.3,169.6 449.7,170.3 451,171.1 452.3,171.8 453.6,172.7 454.8,173.5 456.1,174.3 457.4,175.2 458.7,176 460,176.8 461.2,177.6 462.5,178.4 463.8,179.2 465.1,179.9 466.5,180.6 467.8,181.2 469.2,181.7 470.6,182.2 472,182.7 473.4,183.1 474.8,183.6 476.2,184 477.7,184.4 479.1,184.8 480.6,185.2 482.1,185.6 483.5,186 485,186.3 486.5,186.6 488,186.9 489.5,187.2 491,187.5 492.4,187.7 493.9,187.9 495.4,188 496.9,188.2 498.4,188.4 499.9,188.5 501.3,188.7 502.8,188.8 504.3,188.9 505.8,189.1 507.3,189.2 508.8,189.3 510.3,189.5 511.8,189.6 513.3,189.7 514.8,189.8 516.3,189.9 517.8,190 519.3,190.1 520.8,190.1"/>
<polyline class="band" stroke-width="8.8" points="520.8,190.1 522.3,190.2 523.9,190.3 525.4,190.3 526.9,190.4 528.4,190.4 529.9,190.5 531.4,190.5 532.9,190.5 534.4,190.5 535.9,190.6 537.4,190.6 538.9,190.6 540.4,190.6 541.9,190.6 543.4,190.7 544.9,190.7 546.4,190.7 547.9,190.7 549.4,190.7 550.9,190.7 552.4,190.8 553.9,190.8 555.4,190.8 556.9,190.8 558.4,190.8 559.9,190.8 561.4,190.8 562.9,190.8 564.4,190.9 565.9,190.9 567.4,190.9 568.9,190.9 570.4,190.9 571.9,190.9 573.4,190.9 574.9,190.9 576.4,190.9 577.9,190.9 579.4,191 580.9,191 582.4,191 583.9,191 585.4,191 586.9,191 588.4,191 589.9,191 591.4,191 592.9,191 594.4,191 595.9,191 597.4,191 598.9,191 600.4,191 601.9,191 603.4,191 604.9,191 606.4,191 607.9,191 609.4,191 610.9,191 612.4,191 613.9,191 615.4,191 616.9,190.9 618.4,190.9 619.9,190.9 621.5,190.9 623,190.9 624.5,190.9 626,190.9 627.5,190.9 629,190.8 630.5,190.8 632,190.8 633.5,190.8 635,190.8 636.5,190.8 638,190.7 639.5,190.7 641,190.7 642.5,190.7 644,190.6 645.5,190.6 647,190.6 648.5,190.6 650,190.5 651.5,190.5 653,190.5 654.5,190.5 656,190.4 657.5,190.4 659,190.4 660.5,190.4 662,190.3 663.5,190.3 665,190.3 666.5,190.2 668,190.2 669.5,190.2 671,190.1 672.5,190.1 674,190.1 675.5,190 677,190 678.5,190 680,189.9 681.5,189.9 683,189.8 684.5,189.8 686,189.8 687.5,189.7 689,189.7 690.5,189.6 692,189.6 693.5,189.6 695,189.5 696.5,189.5 698,189.4 699.5,189.4 701,189.3 702.5,189.2 704,189.2 705.5,189.1 707,189 708.5,188.9 710,188.8 711.5,188.7 713,188.6 714.5,188.5 716,188.4 717.5,188.2 719,188.1 720.5,188 722,187.8 723.5,187.7 724.9,187.6 726.4,187.4 727.9,187.3 729.4,187.1 730.9,187 732.4,186.8 733.9,186.7 735.4,186.5 736.9,186.4 738.4,186.2 739.9,186.1 741.4,185.9 742.9,185.8 744.4,185.6 745.9,185.5 747.4,185.3 748.9,185.2 750.4,185 751.9,184.9 753.4,184.7 754.9,184.6 756.4,184.5 757.8,184.3 759.3,184.2 760.8,184.1 762.3,183.9 763.8,183.8 765.3,183.6 766.8,183.5 768.3,183.4 769.8,183.2 771.3,183.1 772.8,182.9 774.3,182.8 775.8,182.7 777.3,182.5 778.8,182.4 780.3,182.2 781.8,182.1 783.3,181.9 784.8,181.8 786.2,181.6 787.7,181.5 789.2,181.4 790.7,181.2 792.2,181.1 793.7,180.9 795.2,180.8 796.7,180.6 798.2,180.5 799.7,180.3 801.2,180.2 802.7,180 804.2,179.9 805.7,179.7 807.2,179.6 808.7,179.4 810.1,179.2 811.6,179.1 813.1,178.9 814.6,178.8 816.1,178.6 817.6,178.5 819.1,178.3 820.6,178.2 822.1,178 823.6,177.9 825.1,177.7 826.6,177.6 828.1,177.4 829.6,177.3 831.1,177.1 832.6,176.9 834,176.8 835.5,176.6 837,176.5 838.5,176.3 840,176.2 841.5,176 843,175.9 844.5,175.8 846,175.6 847.5,175.5 849,175.3 850.5,175.2 852,175 853.5,174.9 855,174.7 856.5,174.6 858,174.5 859.5,174.3 861,174.2 862.5,174 864,173.9 865.5,173.7 866.9,173.6 868.4,173.4 869.9,173.2 871.4,173.1 872.9,172.9 874.4,172.7 875.9,172.6 877.4,172.4 878.9,172.2 880.4,172 881.9,171.9 883.3,171.7 884.8,171.5 886.3,171.3 887.8,171.1 889.3,170.9 890.8,170.7 892.3,170.5 893.7,170.2 895.2,170 896.7,169.8 898.2,169.5 899.7,169.3 901.2,169 902.6,168.8 904.1,168.5 905.6,168.2 907.1,167.9 908.6,167.6 910,167.3 911.5,167 913,166.7 914.4,166.4 915.9,166 917.3,165.7 918.8,165.3 920.2,164.9 921.7,164.5 923.1,164.1 924.5,163.7 926,163.2 927.4,162.7 928.8,162.2 930.2,161.7 931.6,161.2 933,160.6 934.4,160.1 935.8,159.5 937.2,159 938.6,158.4 940,157.9 941.4,157.3 942.8,156.8 944.3,156.3 945.7,155.8 947.1,155.2 948.5,154.7 949.9,154.2 951.3,153.7 952.7,153.2 954.1,152.7 955.6,152.2 957,151.7 958.4,151.2 959.8,150.7 961.2,150.2 962.6,149.6 964,149.1 965.4,148.6 966.8,148 968.2,147.5 969.6,147 971,146.4 972.4,145.8 973.8,145.3 975.2,144.7 976.5,144.1 977.9,143.4 979.3,142.8 980.6,142.2 982,141.5 983.4,140.9 984.7,140.3 986.1,139.6 987.4,139 988.8,138.4 990.2,137.8 991.6,137.2 992.9,136.6 994.3,136 995.7,135.5 997.1,134.9 998.5,134.3 999.9,133.8 1001.3,133.2 1002.7,132.7 1004.1,132.1 1005.5,131.6 1006.9,131 1008.3,130.5 1009.7,129.9 1011.1,129.4 1012.5,128.8 1013.9,128.3 1015.3,127.7 1016.6,127.1 1018,126.6 1019.4,126 1020.8,125.4 1022.2,124.9 1023.6,124.3 1025,123.8 1026.4,123.2 1027.8,122.6 1029.2,122.1 1030.6,121.5 1032,121 1033.4,120.5 1034.8,119.9 1036.2,119.4 1037.6,118.9 1039,118.4 1040.4,117.9 1041.9,117.4 1043.3,116.9 1044.7,116.4 1046.1,115.8 1047.5,115.3 1048.9,114.8 1050.3,114.3 1051.7,113.7 1053.1,113.2 1054.5,112.6 1055.9,112 1057.2,111.4 1058.6,110.8 1060,110.1 1061.4,109.5 1062.7,108.9 1064.1,108.2 1065.5,107.5 1066.8,106.9 1068.2,106.2 1069.6,105.6 1070.9,104.9 1072.3,104.2 1073.6,103.6 1075,102.9 1076.4,102.3 1077.8,101.7 1079.1,101.1 1080.5,100.5 1081.9,99.9 1083.3,99.4 1084.7,98.8 1086.1,98.3 1087.5,97.8 1088.9,97.3 1090.3,96.9 1091.7,96.5 1093.1,96.1 1094.6,95.7 1096,95.3 1097.4,95 1098.9,94.6 1100.3,94.3 1101.8,94 1103.3,93.6 1104.7,93.3 1106.2,93 1107.7,92.7 1109.2,92.4 1110.6,92.1 1112.1,91.8 1113.6,91.6 1115.1,91.3 1116.6,91 1118.1,90.7 1119.5,90.5 1121,90.2 1122.5,90 1124,89.7 1125.5,89.5 1127,89.2 1128.5,89 1129.9,88.7 1131.4,88.5 1132.9,88.3 1134.4,88 1135.9,87.8 1137.4,87.5 1138.8,87.3 1140.3,87.1 1141.8,86.9 1143.3,86.7 1144.8,86.4 1146.3,86.2 1147.8,86 1149.2,85.8 1150.7,85.6 1152.2,85.4 1153.7,85.2 1155.2,85 1156.7,84.8 1158.2,84.6 1159.7,84.4 1161.2,84.2 1162.6,84.1 1164.1,83.9 1165.6,83.7 1167.1,83.5 1168.6,83.3 1170.1,83.1 1171.6,83 1173.1,82.8 1174.6,82.6 1176.1,82.4 1177.5,82.2 1179,82 1180.5,81.8 1182,81.5 1183.5,81.3 1185,81.1 1186.5,80.9 1188,80.7 1189.5,80.5 1191,80.3 1192.5,80.1 1194,79.9 1195.4,79.7 1196.9,79.4 1198.4,79.2 1199.9,79 1201.4,78.8 1202.9,78.6 1204.4,78.4 1205.9,78.3 1207.4,78.1 1208.9,77.9 1210.4,77.7 1211.9,77.5 1213.4,77.4 1214.9,77.2 1216.4,77.1 1217.8,76.9 1219.3,76.8 1220.8,76.6 1222.3,76.5 1223.8,76.4 1225.3,76.3 1226.8,76.1 1228.3,76 1229.8,76 1231.3,75.9 1232.8,75.8 1234.3,75.7 1235.8,75.7 1237.3,75.7 1238.8,75.6 1240.3,75.6 1241.8,75.6 1243.3,75.6 1244.8,75.6 1246.3,75.6 1247.8,75.7 1249.3,75.7 1250.8,75.7 1252.2,75.8 1253.7,75.8 1255.2,75.9 1256.7,75.9 1258.2,76 1259.7,76.1 1261.2,76.2 1262.7,76.3 1264.2,76.3 1265.7,76.4 1267.2,76.5 1268.7,76.6 1270.2,76.7 1271.7,76.8 1273.2,76.9 1274.7,77 1276.2,77.2 1277.7,77.3 1279.2,77.4 1280.7,77.5 1282.2,77.6 1283.7,77.7 1285.2,77.8 1286.7,77.9 1288.2,78.1 1289.7,78.2 1291.2,78.3 1292.7,78.4 1294.2,78.5 1295.7,78.6 1297.2,78.7 1298.7,78.8 1300.2,78.9 1301.7,79 1303.2,79.1 1304.7,79.2 1306.2,79.3 1307.7,79.4 1309.2,79.5 1310.7,79.5 1312.2,79.6 1313.7,79.7 1315.2,79.8 1316.7,79.9 1318.2,79.9 1319.7,80 1321.2,80.1 1322.7,80.2 1324.2,80.2 1325.7,80.3 1327.2,80.4 1328.7,80.5 1330.2,80.5 1331.7,80.6 1333.2,80.7 1334.7,80.8 1336.2,80.8 1337.7,80.9 1339.2,81 1340.7,81.1 1342.2,81.1 1343.7,81.2 1345.2,81.3 1346.7,81.4 1348.2,81.4 1349.7,81.5 1351.2,81.6 1352.7,81.6 1354.2,81.7 1355.7,81.8 1357.2,81.9 1358.7,81.9 1360.2,82 1361.7,82.1 1363.2,82.2 1364.7,82.2 1366.2,82.3 1367.7,82.4 1369.2,82.5 1370.7,82.5 1372.2,82.6 1373.7,82.7 1375.2,82.8 1376.7,82.9 1378.2,83 1379.7,83 1381.2,83.1 1382.7,83.2 1384.2,83.3 1385.7,83.4 1387.2,83.5 1388.7,83.6 1390.2,83.7 1391.7,83.7 1393.2,83.8 1394.7,83.9 1396.2,84 1397.7,84.1 1399.2,84.2 1400.7,84.3 1402.2,84.3 1403.7,84.4 1405.2,84.5 1406.7,84.6 1408.2,84.7 1409.7,84.7 1411.2,84.8 1412.7,84.9 1414.2,84.9 1415.7,85 1417.2,85.1 1418.7,85.1 1420.2,85.2 1421.7,85.2 1423.2,85.3 1424.7,85.3 1426.2,85.4 1427.7,85.4 1429.2,85.4 1430.7,85.5 1432.2,85.5 1433.7,85.5 1435.2,85.6 1436.7,85.6 1438.2,85.6 1439.7,85.6 1441.2,85.7 1442.7,85.7 1444.2,85.7 1445.7,85.8 1447.2,85.8 1448.7,85.8 1450.2,85.8 1451.7,85.9 1453.2,85.9 1454.7,85.9 1456.2,85.9 1457.7,85.9 1459.2,85.9 1460.7,86 1462.2,86 1463.7,86 1465.2,86 1466.7,86 1468.2,86 1469.7,86 1471.2,86 1472.7,86 1474.2,86 1475.7,86 1477.2,86 1478.7,85.9 1480.2,85.9 1481.8,85.9 1483.3,85.8 1484.8,85.8 1486.3,85.8 1487.8,85.7 1489.3,85.7 1490.8,85.6 1492.3,85.6 1493.8,85.5 1495.3,85.4 1496.8,85.4 1498.3,85.3 1499.8,85.2 1501.3,85.2 1502.7,85.1 1504.2,85 1505.7,84.9 1507.2,84.7 1508.7,84.4 1510.2,84.1 1511.6,83.8 1513.1,83.5 1514.6,83.1 1516,82.8 1517.5,82.4"/>
</g>
<g stroke="#FF00FF" fill="#FF00FF">
<polyline class="band" stroke-width="8.8" points="750,197.1 748.5,197.3 747,197.6 745.5,197.8 744.1,198 742.6,198.2 741.1,198.4 739.6,198.6 738.1,198.8 736.6,198.9 735.1,199.1 733.6,199.2 732.1,199.3 730.6,199.5 729.1,199.6 727.6,199.7 726.1,199.8 724.6,199.9 723.1,200 721.6,200.1 720.1,200.2 718.6,200.3 717.1,200.4 715.6,200.4 714.1,200.5 712.6,200.6 711.1,200.7 709.6,200.7 708.1,200.8 706.6,200.9 705.1,200.9 703.6,201 702.1,201 700.6,201.1 699.1,201.1 697.6,201.2 696.1,201.2 694.6,201.3 693.1,201.3 691.6,201.4 690.1,201.4 688.6,201.4 687.1,201.5 685.6,201.5 684.1,201.6 682.6,201.6 681.1,201.6 679.6,201.7 678.1,201.7 676.6,201.8 675.1,201.8 673.6,201.8 672.1,201.8 670.6,201.9 669.1,201.9 667.6,201.9 666.1,201.9 664.6,202 663.1,202 661.6,202 660.1,202 658.6,202 657.1,202 655.6,202 654.1,202 652.6,202 651.1,202 649.6,202 648.1,202 646.6,202 645.1,202 643.6,202 642.1,202 640.6,202 639.1,201.9 637.5,201.9 636,201.9 634.5,201.9 633,201.9 631.5,201.9 630,201.9 628.5,201.9 627,201.9 625.5,201.8 624,201.8 622.5,201.8 621,201.8 619.5,201.8 618,201.8 616.5,201.8 615,201.7 613.5,201.7 612,201.7 610.5,201.7 609,201.7 607.5,201.7 606,201.7 604.5,201.6 603,201.6 601.5,201.6 600,201.6 598.5,201.6 597,201.6 595.5,201.6 594,201.5 592.5,201.5 591,201.5 589.5,201.5 588,201.5 586.5,201.5 585,201.4 583.5,201.4 582,201.4 580.5,201.4 579,201.4 577.5,201.4 576,201.3 574.5,201.3 573,201.3 571.5,201.3 570,201.3 568.5,201.3 567,201.2 565.5,201.2 563.9,201.2 562.4,201.2 560.9,201.2 559.4,201.1 557.9,201.1 556.4,201.1 554.9,201.1 553.4,201.1 551.9,201 550.4,201 548.9,201 547.4,201 545.9,200.9 544.4,200.9 542.9,200.9 541.4,200.9 539.9,200.8 538.4,200.8 536.9,200.8 535.4,200.7 533.9,200.7 532.4,200.7 530.9,200.7 529.4,200.7 527.9,200.6 526.4,200.6 524.9,200.6 523.4,200.6 521.9,200.6 520.4,200.6 518.9,200.6"/>
<polyline class="band" stroke-width="9.2" points="518.9,200.6 517.4,200.6 515.9,200.6 514.4,200.6 512.9,200.6 511.4,200.6 509.9,200.6 508.4,200.6 506.9,200.6 505.4,200.6 503.9,200.6 502.4,200.6 500.9,200.6 499.4,200.6 497.9,200.6 496.4,200.6 494.9,200.6 493.4,200.6 491.9,200.6 490.3,200.6 488.8,200.6 487.3,200.6 485.8,200.7 484.3,200.7 482.8,200.7 481.3,200.8 479.8,200.8 478.4,200.9 476.9,201.1 475.4,201.4 473.9,201.7 472.5,202.1 471,202.5 469.5,203 468.1,203.4 466.6,203.8 465.2,204.2 463.7,204.5 462.2,204.8 460.7,204.9 459.3,205 457.8,205.1 456.3,205.2 454.8,205.2 453.3,205.3 451.8,205.3 450.2,205.4 448.7,205.4 447.2,205.4 445.7,205.5 444.2,205.5 442.7,205.6 441.2,205.7 439.7,205.7 438.2,205.8 436.7,205.8 435.2,205.9 433.7,205.9 432.2,206 430.7,206 429.2,206.1 427.7,206.2 426.2,206.2 424.7,206.3 423.2,206.4 421.7,206.4 420.2,206.5 418.7,206.6 417.2,206.6 415.7,206.7 414.2,206.8 412.7,206.9 411.2,207 409.7,207 408.2,207.1 406.7,207.2 405.2,207.3 403.7,207.4 402.2,207.5 400.7,207.6 399.2,207.8 397.7,207.9 396.2,208 394.7,208.2 393.2,208.3 391.8,208.5 390.3,208.6 388.8,208.8 387.3,209 385.8,209.2 384.3,209.3 382.8,209.5 381.3,209.7 379.8,209.9 378.3,210.1 376.8,210.4 375.3,210.6 373.9,210.8 372.4,211 370.9,211.3 369.4,211.5 367.9,211.7 366.5,212 365,212.3 363.5,212.6 362,212.9 360.6,213.3 359.1,213.6 357.6,213.9 356.2,214.3 354.7,214.6 353.3,215 351.8,215.3 350.4,215.7 348.9,216.1 347.5,216.5 346,216.9 344.6,217.3 343.1,217.7 341.6,218.1 340.2,218.4 338.7,218.8 337.2,219.2 335.8,219.6 334.3,220 332.8,220.4 331.4,220.8 329.9,221.2 328.5,221.7 327.1,222.1 325.7,222.6 324.3,223.1 322.9,223.6 321.5,224.2 320.2,224.8 318.8,225.4 317.5,226.1 316.1,226.8 314.8,227.6 313.5,228.4 312.2,229.3 311,230.1 309.8,231.1 308.7,232 307.6,233"/>
<polyline class="band" stroke-width="8.8" points="307.6,233 306.6,234.1 305.6,235.2 304.6,236.4 303.7,237.6 302.8,238.8 302,240.1 301.2,241.3 300.5,242.6 299.8,244 299.2,245.3"/>
<polyline class="band" stroke-width="8.4" points="299.2,245.3 298.5,246.7 297.9,248.1 297.3,249.5 296.6,250.8 296,252.2 295.4,253.6 294.8,254.9 294.2,256.3 293.6,257.7 292.9,259.1 292.3,260.4"/>
<polyline class="band" stroke-width="8.8" points="292.3,260.4 291.6,261.8 290.9,263.1 290.2,264.5 289.5,265.9 288.8,267.3 288,268.6 287.1,269.7 286.2,270.8 285.1,271.7"/>
<polyline class="band" stroke-width="9.2" points="285.1,271.7 283.7,272.4 282.2,273.1 280.8,273.8 279.8,274.6"/>
<polyline class="band" stroke-width="8.8" points="279.8,274.6 279,275.7 278.3,276.9 277.7,278.2"/>
<polyline class="band" stroke-width="8.4" points="277.7,278.2 277.2,279.7 276.7,281.2 276.2,282.7 275.7,284.2 275.2,285.7 274.6,287.1 273.9,288.4"/>
<polyline class="band" stroke-width="8.8" points="273.9,288.4 273.2,289.8 272.4,291.1 271.7,292.4 270.9,293.7 270.2,295 269.5,296.3 268.8,297.7"/>
<polyline class="band" stroke-width="8.4" points="268.8,297.7 268.2,299 267.7,300.4 267.2,301.8 266.7,303.3 266.2,304.7 265.7,306.1 265.3,307.6 264.7,309 264.2,310.4 263.6,311.7"/>
<polyline class="band" stroke-width="8.8" points="263.6,311.7 262.9,313.1 262.1,314.4 261.3,315.7 260.5,316.9 259.7,318.2 258.9,319.6 258.3,320.9"/>
<polyline class="band" stroke-width="8.4" points="258.3,320.9 257.7,322.2 257.3,323.7 256.9,325.1 256.6,326.6 256.4,328.1 256.1,329.6 255.8,331.1 255.5,332.5 255.1,333.9 254.6,335.4 254,336.7 253.4,338.1 252.8,339.5 252.1,340.8"/>
<polyline class="band" stroke-width="8.8" points="252.1,340.8 251.4,342.2 250.7,343.5 250.1,344.9 249.4,346.2 248.6,347.5 247.9,348.8 247.1,350.1 246.4,351.4 245.6,352.7 244.9,354 244.1,355.3 243.4,356.7 242.7,358 242,359.3 241.3,360.6 240.6,362 239.9,363.3 239.2,364.6 238.5,365.9 237.8,367.3 237.1,368.6 236.4,370"/>
<polyline class="band" stroke-width="8.4" points="236.4,370 235.7,371.5 235.1,372.9"/>
<polyline class="band" stroke-width="8.8" points="235.1,372.9 234.4,374.3 233.6,375.5 232.7,376.6 231.7,377.5"/>
<polyline class="band" stroke-width="9.2" points="231.7,377.5 230.5,378.5 229.2,379.4 227.8,380.1 226.3,380.7 224.9,381 223.5,380.9 222.1,380.6 220.7,380.1 219.2,379.4 217.8,378.8 216.3,378.2 214.8,377.8 213.4,377.6 211.9,377.6 210.2,377.8 208.6,378 207.2,378.2 206,378.5 204.9,379.1 204,380.2"/>
<polyline class="band" stroke-width="8.8" points="204,380.2 203.2,381.6 202.4,383.1 201.7,384.6 201,386.1 200.3,387.4 199.6,388.7 198.9,390"/>
<polyline class="band" stroke-width="8.4" points="198.9,390 198.3,391.4 197.7,392.8 197.1,394.2 196.5,395.6 196,397"/>
<polyline class="thin" points="196,397 193,406 190,416 187.5,426 185.5,436 184,445 183.2,452.7 182.8,461.3"/>
<g stroke="none"><circle cx="196" cy="397" r="4.5"/><circle cx="193" cy="406" r="4.5"/><circle cx="190" cy="416" r="4.5"/><circle cx="187.5" cy="426" r="4.5"/><circle cx="185.5" cy="436" r="4.5"/><circle cx="184" cy="445" r="4.5"/><circle cx="183.2" cy="452.7" r="4.5"/><circle cx="182.8" cy="461.3" r="4.5"/></g>
<polyline class="thin" points="182.8,461.3 183.3,440 183.8,410 185.8,375 188.3,340 191.3,305 194.8,270 198.8,240 202.3,222"/>
<g stroke="none"><circle cx="182.8" cy="461.3" r="4.5"/><circle cx="183.3" cy="440" r="4.5"/><circle cx="183.8" cy="410" r="4.5"/><circle cx="185.8" cy="375" r="4.5"/><circle cx="188.3" cy="340" r="4.5"/><circle cx="191.3" cy="305" r="4.5"/><circle cx="194.8" cy="270" r="4.5"/><circle cx="198.8" cy="240" r="4.5"/><circle cx="202.3" cy="222" r="4.5"/></g>
<polyline class="band" stroke-width="8.4" points="202.3,222 202.6,220.5 202.9,219.1 203.3,217.6 203.6,216.1 204,214.7 204.4,213.2 204.7,211.8 205.1,210.3 205.5,208.8 205.9,207.3 206.4,205.9 207,204.6"/>
<polyline class="band" stroke-width="8.8" points="207,204.6 207.8,203.2 208.8,202"/>
<polyline class="band" stroke-width="9.2" points="208.8,202 210,201.5 211.5,201.2 213,201 214.5,201.1 216,201.5 217.4,202.1 218.8,202.6 220.1,203.3 221.4,204.1 222.7,205 223.9,205.8 225.1,206.7 226.3,207.6 227.5,208.6 228.6,209.6 229.8,210.5 231.1,211.3 232.4,212 233.7,212.7 235.1,213.4 236.5,213.9 238,214.2 239.4,214.3 241,214.4 242.5,214.4 244,214.3 245.5,214 246.9,213.6 248.3,213.1 249.6,212.5 250.9,211.7 252.1,210.7 253.2,209.7 254.4,208.7 255.5,207.7"/>
<polyline class="band" stroke-width="8.8" points="255.5,207.7 256.6,206.6 257.6,205.6 258.7,204.5 259.7,203.4 260.7,202.2 261.6,201.1 262.5,199.9 263.5,198.7 264.4,197.5 265.3,196.3 266.2,195.1 267.1,193.9 268.1,192.7 269,191.6 270,190.4 271,189.4 272.1,188.4"/>
<polyline class="band" stroke-width="9.2" points="272.1,188.4 273.3,187.4 274.4,186.4 275.6,185.5 276.8,184.6 278.1,183.7 279.3,182.9 280.6,182.1 281.8,181.3 283.1,180.5 284.4,179.7 285.6,178.8 286.8,177.9 288,177 289.1,176 290.3,175 291.4,174.1 292.5,173.1 293.7,172.1 294.8,171.1 295.9,170.1 297,169.1"/>
<polyline class="band" stroke-width="8.8" points="297,169.1 298.1,168 299.2,166.9 300.3,165.9 301.4,164.8 302.5,163.8 303.6,162.8"/>
<polyline class="band" stroke-width="9.2" points="303.6,162.8 304.8,161.9 306,161 307.2,160.3 308.5,159.5 309.8,158.7 311.2,158 312.6,157.3 314,156.7 315.4,156.2 316.8,155.8 318.2,155.5 319.7,155.2 321.2,154.9 322.6,154.7 324.1,154.4 325.7,154.3 327.2,154.1 328.7,154 330.2,154 331.7,154 333.2,154 334.7,154 336.2,154 337.7,154 339.2,154 340.7,154 342.2,154.1 343.6,154.3 345.1,154.6 346.6,154.9 348.1,155.3 349.5,155.6 351,155.8 352.5,156 354,156.1 355.5,156.3 357,156.4 358.5,156.6 360,156.7 361.5,156.8 363,156.9 364.5,157.1 366,157.2 367.5,157.3 369,157.4 370.5,157.5 372,157.6 373.5,157.7 375,157.8 376.5,157.9 378,158 379.5,158.1 380.9,158.3 382.4,158.6 383.9,158.8 385.4,159.2 386.8,159.5 388.3,159.9 389.7,160.3 391.2,160.7 392.7,161 394.1,161.3 395.6,161.6 397.1,161.9 398.6,162.1 400,162.4 401.5,162.6 403,162.8 404.5,163 406,163.3 407.5,163.5 409,163.7 410.5,163.9 411.9,164.1 413.4,164.3 414.9,164.6 416.4,164.8 417.9,165.1 419.3,165.4 420.8,165.7 422.3,166 423.7,166.3 425.2,166.6 426.7,166.9 428.1,167.3 429.6,167.6 431.1,168 432.5,168.4 434,168.8 435.4,169.2 436.9,169.6 438.3,170 439.8,170.4 441.2,170.8 442.6,171.3 444.1,171.7 445.5,172.2 446.9,172.6 448.3,173.1 449.7,173.7 451.1,174.3 452.5,174.8 453.9,175.4 455.2,176 456.6,176.7 458,177.3 459.4,177.9 460.8,178.5 462.1,179.1 463.5,179.7 464.9,180.2 466.3,180.8 467.7,181.3 469.2,181.7 470.6,182.2 472,182.6 473.4,183 474.9,183.5 476.3,183.9 477.8,184.3 479.2,184.7 480.7,185.1 482.2,185.5 483.6,185.8 485.1,186.2 486.6,186.5 488,186.8 489.5,187.1 491,187.4 492.5,187.6 493.9,187.9 495.4,188.1 496.9,188.2 498.4,188.4 499.9,188.6 501.3,188.8 502.8,188.9 504.3,189.1 505.8,189.2 507.3,189.4 508.8,189.5 510.3,189.7 511.8,189.8 513.3,189.9 514.8,190.1 516.3,190.2 517.8,190.3 519.3,190.4 520.8,190.5"/>
<polyline class="band" stroke-width="8.8" points="520.8,190.5 522.3,190.6 523.8,190.7 525.3,190.7 526.8,190.8 528.3,190.9 529.8,190.9 531.3,191 532.8,191 534.3,191.1 535.8,191.1 537.3,191.1 538.8,191.2 540.3,191.2 541.8,191.2 543.3,191.3 544.8,191.3 546.3,191.4 547.8,191.4 549.3,191.4 550.8,191.5 552.3,191.5 553.8,191.5 555.3,191.5 556.8,191.6 558.3,191.6 559.8,191.6 561.3,191.7 562.8,191.7 564.3,191.7 565.8,191.7 567.3,191.7 568.8,191.8 570.3,191.8 571.9,191.8 573.4,191.8 574.9,191.8 576.4,191.9 577.9,191.9 579.4,191.9 580.9,191.9 582.4,191.9 583.9,191.9 585.4,191.9 586.9,192 588.4,192 589.9,192 591.4,192 592.9,192 594.4,192 595.9,192 597.4,192 598.9,192 600.4,192 601.9,192 603.4,192 604.9,192 606.4,192 607.9,192 609.4,192 610.9,191.9 612.4,191.9 613.9,191.9 615.4,191.9 616.9,191.9 618.4,191.8 619.9,191.8 621.4,191.8 622.9,191.8 624.4,191.7 625.9,191.7 627.4,191.7 628.9,191.6 630.4,191.6 631.9,191.5 633.4,191.5 634.9,191.5 636.4,191.4 637.9,191.4 639.4,191.3 640.9,191.3 642.4,191.2 643.9,191.2 645.4,191.1 646.9,191.1 648.4,191 649.9,191 651.4,190.9 652.9,190.8 654.4,190.8 655.9,190.7 657.4,190.7 658.9,190.6 660.4,190.5 661.9,190.5 663.4,190.4 664.9,190.4 666.4,190.3 667.9,190.2 669.4,190.2 670.9,190.1 672.4,190 673.9,190 675.4,189.9 676.9,189.8 678.4,189.8 679.9,189.7 681.4,189.6 682.9,189.6 684.4,189.5 685.9,189.4 687.4,189.4 688.9,189.3 690.4,189.2 691.9,189.2 693.4,189.1 694.9,189 696.4,189 697.9,188.9 699.4,188.8 700.9,188.8 702.4,188.7 703.9,188.6 705.4,188.5 706.9,188.5 708.4,188.4 709.9,188.3 711.4,188.2 712.9,188.1 714.4,188 715.9,187.9 717.4,187.8 718.9,187.7 720.4,187.6 721.9,187.5 723.4,187.4 724.9,187.3 726.4,187.2 727.9,187.1 729.4,187 730.9,186.9 732.4,186.8 733.9,186.7 735.4,186.6 736.9,186.4 738.4,186.3 739.9,186.2 741.4,186.1 742.9,186 744.4,185.9 745.9,185.8 747.4,185.7 748.9,185.5 750.4,185.4 751.9,185.3 753.3,185.2 754.8,185.1 756.3,185 757.8,184.9 759.3,184.7 760.8,184.6 762.3,184.5 763.8,184.4 765.3,184.3 766.8,184.2 768.3,184 769.8,183.9 771.3,183.8 772.8,183.7 774.3,183.6 775.8,183.4 777.3,183.3 778.8,183.2 780.3,183.1 781.8,182.9 783.3,182.8 784.8,182.7 786.3,182.5 787.8,182.4 789.3,182.3 790.8,182.1 792.3,182 793.7,181.9 795.2,181.8 796.7,181.6 798.2,181.5 799.7,181.4 801.2,181.2 802.7,181.1 804.2,181 805.7,180.8 807.2,180.7 808.7,180.6 810.2,180.4 811.7,180.3 813.2,180.2 814.7,180 816.2,179.9 817.7,179.8 819.2,179.6 820.7,179.5 822.2,179.4 823.7,179.2 825.2,179.1 826.6,179 828.1,178.8 829.6,178.7 831.1,178.6 832.6,178.4 834.1,178.3 835.6,178.2 837.1,178.1 838.6,177.9 840.1,177.8 841.6,177.7 843.1,177.6 844.6,177.4 846.1,177.3 847.6,177.2 849.1,177.1 850.6,176.9 852.1,176.8 853.6,176.7 855.1,176.6 856.6,176.4 858.1,176.3 859.6,176.2 861.1,176 862.6,175.9 864.1,175.8 865.5,175.6 867,175.5 868.5,175.3 870,175.2 871.5,175 873,174.9 874.5,174.7 876,174.6 877.5,174.4 879,174.3 880.5,174.1 882,174 883.5,173.8 885,173.6 886.5,173.5 888,173.3 889.5,173.1 891,173 892.5,172.8 893.9,172.6 895.4,172.4 896.9,172.2 898.4,172 899.9,171.9 901.4,171.6 902.9,171.4 904.4,171.2 905.8,171 907.3,170.8 908.8,170.5 910.3,170.3 911.7,170 913.2,169.8 914.7,169.5 916.2,169.2 917.6,168.9 919.1,168.5 920.5,168.2 922,167.8 923.5,167.4 924.9,167 926.4,166.6 927.8,166.2 929.3,165.8 930.7,165.4 932.1,165 933.6,164.5 935,164.1 936.5,163.7 937.9,163.2 939.3,162.8 940.8,162.3 942.2,161.8 943.6,161.3 945.1,160.8 946.5,160.3 947.9,159.7 949.2,159.2 950.6,158.6 952,158 953.3,157.4 954.6,156.7 955.9,156 957.2,155.2 958.5,154.4 959.8,153.6 961.1,152.8 962.3,152 963.6,151.1 964.8,150.3 966.1,149.5 967.4,148.7 968.7,147.9 970,147.1 971.3,146.4 972.6,145.7 973.9,145 975.3,144.4 976.6,143.7 978,143 979.3,142.4 980.7,141.8 982.1,141.2 983.5,140.6 984.8,140 986.2,139.4 987.6,138.8 989,138.2 990.4,137.6 991.8,137.1 993.2,136.5 994.6,136 996,135.5 997.4,134.9 998.8,134.4 1000.2,133.9 1001.6,133.4 1003,132.9 1004.5,132.4 1005.9,132 1007.3,131.5 1008.7,131 1010.2,130.6 1011.6,130.1 1013,129.7 1014.5,129.2 1015.9,128.8 1017.4,128.4 1018.8,128 1020.2,127.5 1021.7,127.1 1023.1,126.7 1024.6,126.3 1026,126 1027.5,125.6 1029,125.2 1030.4,124.9 1031.9,124.5 1033.3,124.2 1034.8,123.9 1036.3,123.6 1037.7,123.3 1039.2,123 1040.7,122.7 1042.2,122.5 1043.6,122.2 1045.1,121.9 1046.6,121.7 1048.1,121.4 1049.6,121.1 1051,120.8 1052.5,120.5 1054,120.2 1055.4,119.9 1056.9,119.6 1058.4,119.2 1059.8,118.9 1061.3,118.6 1062.8,118.2 1064.2,117.9 1065.7,117.6 1067.1,117.2 1068.6,116.9 1070.1,116.5 1071.5,116.2 1073,115.9 1074.5,115.5 1075.9,115.2 1077.4,114.8 1078.8,114.5 1080.3,114.2 1081.8,113.8 1083.2,113.5 1084.7,113.2 1086.2,112.8 1087.6,112.5 1089.1,112.2 1090.6,111.9 1092,111.6 1093.5,111.3 1095,111 1096.5,110.7 1097.9,110.4 1099.4,110.1 1100.9,109.8 1102.3,109.5 1103.8,109.3 1105.3,109 1106.8,108.7 1108.2,108.4 1109.7,108.2 1111.2,107.9 1112.7,107.6 1114.2,107.3 1115.6,107.1 1117.1,106.8 1118.6,106.5 1120.1,106.2 1121.5,106 1123,105.7 1124.5,105.4 1126,105.1 1127.4,104.9 1128.9,104.6 1130.4,104.3 1131.9,104 1133.3,103.7 1134.8,103.4 1136.3,103.1 1137.8,102.8 1139.2,102.5 1140.7,102.2 1142.2,101.9 1143.6,101.6 1145.1,101.3 1146.6,101 1148.1,100.7 1149.5,100.4 1151,100.1 1152.5,99.8 1153.9,99.5 1155.4,99.2 1156.9,98.9 1158.4,98.6 1159.8,98.3 1161.3,98.1 1162.8,97.8 1164.3,97.6 1165.7,97.3 1167.2,97.1 1168.7,96.9 1170.2,96.7 1171.7,96.5 1173.2,96.3 1174.7,96.1 1176.1,95.8 1177.6,95.6 1179.1,95.4 1180.6,95.2 1182.1,95 1183.6,94.8 1185.1,94.6 1186.6,94.4 1188,94.1 1189.5,93.9 1191,93.7 1192.5,93.5 1194,93.3 1195.5,93.1 1197,92.9 1198.5,92.7 1200,92.5 1201.5,92.3 1203,92.2 1204.5,92 1206,91.8 1207.5,91.6 1209,91.5 1210.5,91.3 1212,91.1 1213.5,91 1215,90.8 1216.4,90.7 1217.9,90.6 1219.4,90.4 1220.9,90.3 1222.4,90.2 1223.9,90.1 1225.4,90 1226.9,89.9 1228.4,89.8 1229.9,89.7 1231.4,89.6 1232.9,89.6 1234.4,89.5 1235.9,89.5 1237.4,89.4 1238.9,89.4 1240.4,89.4 1241.9,89.4 1243.4,89.4 1244.9,89.4 1246.4,89.4 1247.9,89.5 1249.4,89.5 1250.9,89.5 1252.4,89.6 1253.9,89.6 1255.4,89.7 1256.9,89.8 1258.4,89.8 1259.9,89.9 1261.4,90 1262.9,90.1 1264.4,90.1 1265.9,90.2 1267.4,90.3 1268.9,90.4 1270.4,90.5 1271.9,90.6 1273.4,90.8 1274.9,90.9 1276.4,91 1277.9,91.1 1279.4,91.2 1280.9,91.3 1282.4,91.4 1283.9,91.6 1285.4,91.7 1286.9,91.8 1288.3,91.9 1289.8,92.1 1291.3,92.2 1292.8,92.3 1294.3,92.4 1295.8,92.5 1297.3,92.6 1298.8,92.8 1300.3,92.9 1301.8,93 1303.3,93.1 1304.8,93.2 1306.3,93.3 1307.8,93.4 1309.3,93.5 1310.8,93.6 1312.3,93.7 1313.8,93.8 1315.3,93.9 1316.8,94 1318.3,94.1 1319.8,94.2 1321.3,94.4 1322.8,94.5 1324.3,94.6 1325.8,94.7 1327.3,94.8 1328.8,94.9 1330.3,95.1 1331.8,95.2 1333.3,95.3 1334.8,95.4 1336.3,95.5 1337.8,95.7 1339.3,95.8 1340.8,95.9 1342.3,96 1343.8,96.1 1345.3,96.2 1346.8,96.3 1348.3,96.4 1349.8,96.5 1351.3,96.6 1352.8,96.7 1354.3,96.8 1355.8,96.9 1357.3,97 1358.8,97 1360.3,97.1 1361.8,97.2 1363.3,97.2 1364.8,97.3 1366.3,97.3 1367.8,97.4 1369.3,97.4 1370.8,97.5 1372.3,97.5 1373.8,97.6 1375.3,97.6 1376.8,97.6 1378.3,97.7 1379.8,97.7 1381.3,97.7 1382.8,97.8 1384.3,97.8 1385.8,97.8 1387.3,97.9 1388.8,97.9 1390.3,97.9 1391.8,98 1393.3,98 1394.8,98 1396.3,98.1 1397.8,98.1 1399.3,98.1 1400.8,98.1 1402.3,98.2 1403.8,98.2 1405.3,98.2 1406.8,98.2 1408.3,98.3 1409.8,98.3 1411.3,98.3 1412.8,98.3 1414.3,98.3 1415.8,98.3 1417.3,98.4 1418.8,98.4 1420.3,98.4 1421.8,98.4 1423.3,98.4 1424.8,98.4 1426.3,98.4 1427.8,98.4 1429.3,98.4 1430.8,98.4 1432.3,98.4 1433.8,98.4 1435.3,98.4 1436.8,98.3 1438.3,98.3 1439.8,98.3 1441.3,98.3 1442.8,98.3 1444.3,98.2 1445.8,98.2 1447.3,98.2 1448.8,98.1 1450.3,98.1 1451.8,98 1453.3,98 1454.8,98 1456.3,97.9 1457.8,97.9 1459.3,97.8 1460.8,97.8 1462.3,97.7 1463.8,97.7 1465.3,97.7 1466.8,97.6 1468.3,97.6 1469.8,97.5 1471.3,97.5 1472.8,97.4 1474.3,97.3 1475.8,97.3 1477.3,97.2 1478.8,97.2 1480.3,97.1 1481.9,97 1483.4,97 1484.9,96.9 1486.4,96.8 1487.9,96.7 1489.4,96.6 1490.9,96.5 1492.4,96.4 1493.9,96.3 1495.4,96.2 1496.9,96.1 1498.3,95.9 1499.8,95.8 1501.3,95.7 1502.8,95.5 1504.3,95.4 1505.8,95.2 1507.2,94.9 1508.7,94.7 1510.2,94.3 1511.7,94 1513.1,93.6 1514.6,93.3 1516,92.9 1517.5,92.5"/>
</g>
<g stroke="#40FFFF" fill="#40FFFF">
<polyline class="band" stroke-width="8.4" points="216.2,144 216.6,142.3 217.3,140.8"/>
<polyline class="band" stroke-width="8.8" points="217.3,140.8 218.1,139.3 219.3,138"/>
<polyline class="band" stroke-width="9.2" points="219.3,138 220.5,138.9"/>
<polyline class="band" stroke-width="8.8" points="220.5,138.9 221.5,140.3 222.3,141.8"/>
<polyline class="band" stroke-width="8.4" points="222.3,141.8 222.8,143.5"/>
<polyline class="band" stroke-width="8.8" points="750,197.5 748.5,197.7 747,198 745.5,198.2 744.1,198.4 742.6,198.6 741.1,198.8 739.6,199 738.1,199.2 736.6,199.3 735.1,199.5 733.6,199.6 732.1,199.7 730.6,199.9 729.1,200 727.6,200.1 726.1,200.2 724.6,200.3 723.1,200.4 721.6,200.5 720.1,200.6 718.6,200.7 717.2,200.8 715.7,200.8 714.2,200.9 712.7,201 711.2,201.1 709.7,201.1 708.2,201.2 706.7,201.3 705.2,201.3 703.7,201.4 702.2,201.4 700.7,201.5 699.2,201.5 697.7,201.6 696.1,201.6 694.6,201.7 693.1,201.7 691.6,201.8 690.1,201.8 688.6,201.8 687.1,201.9 685.6,201.9 684.1,202 682.6,202 681.1,202 679.6,202.1 678.1,202.1 676.6,202.1 675.1,202.2 673.6,202.2 672.1,202.2 670.6,202.3 669.1,202.3 667.6,202.3 666.1,202.3 664.6,202.4 663.1,202.4 661.6,202.4 660.1,202.4 658.6,202.4 657.1,202.4 655.6,202.4 654.1,202.4 652.6,202.4 651.1,202.4 649.6,202.4 648.1,202.4 646.6,202.4 645.1,202.4 643.6,202.4 642.1,202.4 640.6,202.4 639.1,202.3 637.6,202.3 636.1,202.3 634.6,202.3 633.1,202.3 631.6,202.3 630.1,202.3 628.6,202.3 627.1,202.3 625.6,202.2 624.1,202.2 622.6,202.2 621.1,202.2 619.6,202.2 618.1,202.2 616.6,202.2 615.1,202.1 613.6,202.1 612.1,202.1 610.6,202.1 609.1,202.1 607.6,202.1 606.1,202.1 604.6,202 603.1,202 601.6,202 600.1,202 598.6,202 597.1,202 595.6,202 594.1,201.9 592.6,201.9 591.1,201.9 589.6,201.9 588.1,201.9 586.6,201.9 585.1,201.9 583.6,201.8 582.1,201.8 580.6,201.8 579.1,201.8 577.6,201.8 576.1,201.7 574.6,201.7 573.1,201.7 571.5,201.7 570,201.7 568.5,201.7 567,201.6 565.5,201.6 564,201.6 562.5,201.6 561,201.6 559.5,201.5 558,201.5 556.5,201.5 555,201.5 553.5,201.5 552,201.4 550.5,201.4 549,201.4 547.5,201.4 546,201.3 544.5,201.3 543,201.3 541.5,201.3 540,201.2 538.5,201.2 537,201.2 535.5,201.2 534,201.1 532.5,201.1 531,201.1 529.5,201.1 528,201 526.5,201 525,201 523.5,201 522,201 520.5,201 519,201"/>
<polyline class="band" stroke-width="9.2" points="519,201 517.5,201 516,201 514.5,201 513,201 511.5,201 510,201 508.5,201 507,201 505.5,201 504,201 502.5,201 501,201 499.5,201 498,201 496.5,201 495,201 493.5,201 492,201 490.5,201 489,201 487.5,201 486,201.1 484.5,201.1 483,201.1 481.5,201.2 480,201.2 478.5,201.2 477,201.3 475.5,201.3 474,201.4 472.5,201.4 471,201.5 469.5,201.5 468,201.7 466.5,201.9 465,202.3 463.6,202.7 462.2,203.2 460.8,203.7 459.4,204.2 458,204.8 456.6,205.5 455.2,206.1 453.9,206.7 452.5,207.3 451.1,207.9 449.8,208.5 448.4,209.1 446.9,209.6 445.5,210 444.1,210.4 442.6,210.8 441.2,211.2 439.7,211.5 438.2,211.9 436.8,212.2 435.3,212.6 433.9,213.1 432.5,213.5 431.1,214 429.7,214.6 428.3,215.2 426.9,215.8 425.6,216.5 424.2,217.2 422.9,217.8 421.5,218.4 420.2,219.1 418.8,219.8 417.5,220.5 416.2,221.2 414.8,221.9 413.5,222.6 412.2,223.3 410.8,223.9 409.4,224.4 408,224.9 406.5,225.3 405,225.6 403.6,225.9 402.1,226.1 400.6,226.3 399.1,226.4 397.6,226.4 396.1,226.5 394.6,226.5 393.1,226.6 391.6,226.6 390.1,226.6 388.6,226.6 387.1,226.6 385.6,226.5 384.1,226.5 382.6,226.4 381.1,226.3 379.6,226.2 378.1,226 376.6,225.9 375.1,225.8 373.6,225.7 372.1,225.5 370.6,225.4 369.1,225.3 367.6,225.2 366.1,225 364.6,224.9 363.1,224.7 361.6,224.6 360.1,224.6 358.6,224.6 357.1,224.6 355.6,224.6 354.2,224.7 352.7,225 351.2,225.2 349.7,225.5 348.2,225.8 346.8,226.1 345.3,226.5 343.9,226.8 342.4,227.3 341,227.8 339.6,228.3 338.2,228.8 336.8,229.4 335.4,230 334,230.6 332.6,231.1 331.3,231.7 329.9,232.3 328.5,232.9 327.1,233.5 325.7,234.1 324.4,234.7 323,235.4 321.7,236.1 320.4,236.8 319.1,237.6 317.8,238.4 316.6,239.2 315.4,240.1 314.2,241.1 313,242 311.9,242.9 310.7,243.9 309.5,244.8 308.3,245.7 307.1,246.6 305.9,247.5 304.7,248.4 303.5,249.3 302.3,250.2 301.1,251.1 299.9,252 298.7,253 297.5,253.9 296.4,254.8 295.2,255.8"/>
<polyline class="band" stroke-width="8.8" points="295.2,255.8 294.2,256.8 293.2,257.9 292.3,259.1 291.4,260.4 290.6,261.6 289.7,262.9 288.9,264.1 288.1,265.4 287.2,266.6 286.4,267.9 285.5,269.1 284.7,270.4 283.9,271.7 283.2,273 282.5,274.3 281.8,275.6"/>
<polyline class="band" stroke-width="8.4" points="281.8,275.6 281.2,277 280.6,278.4 280.1,279.8 279.5,281.2 279,282.6 278.4,284 277.8,285.4 277.2,286.7 276.5,288.1"/>
<polyline class="band" stroke-width="8.8" points="276.5,288.1 275.8,289.4 275,290.7 274.2,292 273.4,293.2 272.7,294.5 271.9,295.8 271.1,297.1 270.5,298.5"/>
<polyline class="band" stroke-width="8.4" points="270.5,298.5 269.9,299.8 269.3,301.2 268.8,302.6 268.3,304.1 267.8,305.5 267.2,306.9 266.7,308.3 266.1,309.7 265.4,311"/>
<polyline class="band" stroke-width="8.8" points="265.4,311 264.6,312.2 263.7,313.4 262.8,314.6 261.8,315.8 260.9,317 260.1,318.3 259.5,319.6 258.8,320.9"/>
<polyline class="band" stroke-width="8.4" points="258.8,320.9 258.2,322.3 257.6,323.7 257.1,325.1 256.5,326.5 255.9,327.9 255.3,329.3 254.6,330.6"/>
<polyline class="band" stroke-width="8.8" points="254.6,330.6 253.9,331.9 253.2,333.2 252.4,334.5 251.6,335.8 250.8,337.1 250,338.4 249.2,339.6 248.4,340.9 247.7,342.2 246.9,343.5 246.1,344.8 245.4,346.1 244.7,347.4 243.9,348.7 243,349.9 242.1,351.3 241.2,352.7 240.2,354.1 239.1,355.1"/>
<polyline class="band" stroke-width="9.2" points="239.1,355.1 238,355.5 236.7,355.6 235.4,355.6 233.9,355.7 232.3,355.7 230.7,355.8 229.1,355.8 227.5,355.8 226,355.8 224.5,355.8 223,355.7 221.4,355.6 219.9,355.4 218.4,355.3 217,355.2 215.6,355.3 214.2,355.8 212.8,356.6 211.5,357.6 210.4,358.6 209.3,359.6"/>
<polyline class="band" stroke-width="8.8" points="209.3,359.6 208.3,360.7 207.4,361.9 206.6,363.2 205.8,364.5 205,365.8 204.4,367.1 203.7,368.5"/>
<polyline class="band" stroke-width="8.4" points="203.7,368.5 203.1,369.9 202.6,371.3 202,372.7 201.5,374.1 200.9,375.5 200.4,376.9 199.9,378.3 199.4,379.7 198.9,381.1 198.4,382.6 198,384"/>
<polyline class="thin" points="198,384 196.5,392 195,400 193.5,408 192,418 190.5,428 189,438 187.5,448 186,462 185,474 183.8,485.5 185,495 185.4,503.5 184.5,515 184,535 184.5,548 183.5,562 183.5,575 183,590"/>
<g stroke="none"><circle cx="198" cy="384" r="4.5"/><circle cx="196.5" cy="392" r="4.5"/><circle cx="195" cy="400" r="4.5"/><circle cx="193.5" cy="408" r="4.5"/><circle cx="192" cy="418" r="4.5"/><circle cx="190.5" cy="428" r="4.5"/><circle cx="189" cy="438" r="4.5"/><circle cx="187.5" cy="448" r="4.5"/><circle cx="186" cy="462" r="4.5"/><circle cx="185" cy="474" r="4.5"/><circle cx="183.8" cy="485.5" r="4.5"/><circle cx="185" cy="495" r="4.5"/><circle cx="185.4" cy="503.5" r="4.5"/><circle cx="184.5" cy="515" r="4.5"/><circle cx="184" cy="535" r="4.5"/><circle cx="184.5" cy="548" r="4.5"/><circle cx="183.5" cy="562" r="4.5"/><circle cx="183.5" cy="575" r="4.5"/><circle cx="183" cy="590" r="4.5"/></g>
<polyline class="thin" points="183,590 183.5,560 184.5,520 185.5,480 187,440 189,400 191.5,360 194,320 196.5,285 199,250 201.5,222 203.5,200 205.5,182 207.5,168 210.1,156.9"/>
<g stroke="none"><circle cx="183" cy="590" r="4.5"/><circle cx="183.5" cy="560" r="4.5"/><circle cx="184.5" cy="520" r="4.5"/><circle cx="185.5" cy="480" r="4.5"/><circle cx="187" cy="440" r="4.5"/><circle cx="189" cy="400" r="4.5"/><circle cx="191.5" cy="360" r="4.5"/><circle cx="194" cy="320" r="4.5"/><circle cx="196.5" cy="285" r="4.5"/><circle cx="199" cy="250" r="4.5"/><circle cx="201.5" cy="222" r="4.5"/><circle cx="203.5" cy="200" r="4.5"/><circle cx="205.5" cy="182" r="4.5"/><circle cx="207.5" cy="168" r="4.5"/><circle cx="210.1" cy="156.9" r="4.5"/></g>
<polyline class="band" stroke-width="8.4" points="210.1,156.9 210.5,155.4 210.8,154 211.2,152.5 211.6,151.1 212.1,149.6 212.5,148.2 213,146.8 213.4,145.3 213.9,143.9 214.4,142.5 215,141.1 215.6,139.8"/>
<polyline class="band" stroke-width="8.8" points="215.6,139.8 216.4,138.3 217.2,136.7 218.2,135.4 219.2,134.8"/>
<polyline class="band" stroke-width="9.2" points="219.2,134.8 220.4,135.2 221.8,136.2"/>
<polyline class="band" stroke-width="8.8" points="221.8,136.2 222.8,137.3 223.5,138.6 224.2,140"/>
<polyline class="band" stroke-width="8.4" points="224.2,140 224.8,141.4 225.4,142.8 225.9,144.2 226.5,145.6 227.1,147 227.6,148.4 228.1,149.8 228.6,151.2 229,152.7 229.4,154.1 229.8,155.6 230.1,157 230.5,158.5 231,159.9 231.5,161.3 232,162.7 232.5,164.1 233.1,165.5 233.6,166.9 234.2,168.3 234.8,169.7 235.4,171.1 236,172.4 236.6,173.8 237.3,175.2 237.9,176.5 238.5,177.9 239.1,179.3 239.7,180.7 240.3,182 240.9,183.4 241.5,184.8 242.1,186.2 242.8,187.5 243.4,188.9 244,190.3 244.6,191.7 245.3,193"/>
<polyline class="band" stroke-width="8.8" points="245.3,193 246,194.3 246.9,195.5 247.8,196.9 248.9,198.2"/>
<polyline class="band" stroke-width="9.2" points="248.9,198.2 250.1,198.9 251.4,199 253,198.8 254.4,198.5 255.7,197.8 256.9,196.8 258.1,195.8 259.3,194.8 260.5,193.9 261.7,193 262.9,192.1 264.1,191.2 265.3,190.3 266.5,189.4 267.7,188.5 268.9,187.7 270.1,186.8 271.3,185.9 272.6,185 273.8,184.1 275,183.3 276.3,182.5 277.5,181.7 278.8,180.8 280.1,180 281.3,179.2 282.5,178.3 283.7,177.4 284.9,176.5 286.1,175.6 287.2,174.6 288.4,173.6 289.6,172.7 290.7,171.7 291.9,170.8 293.1,169.9 294.2,168.9 295.4,168 296.6,167.1 297.8,166.2 299,165.2 300.2,164.3 301.3,163.3 302.5,162.4 303.7,161.5 304.9,160.6 306.2,159.9 307.5,159.2 308.9,158.5 310.2,157.8 311.6,157.1 313,156.5 314.4,156 315.9,155.5 317.3,155.1 318.7,154.9 320.2,154.6 321.7,154.3 323.2,154.1 324.7,153.9 326.2,153.7 327.7,153.6 329.2,153.5 330.7,153.5 332.2,153.5 333.7,153.5 335.2,153.5 336.7,153.5 338.2,153.5 339.7,153.5 341.2,153.5 342.7,153.6 344.2,153.9 345.6,154.2 347.1,154.6 348.6,154.9 350.1,155.2 351.5,155.4 353,155.5 354.5,155.7 356,155.8 357.5,156 359,156.1 360.5,156.2 362,156.4 363.5,156.5 365,156.6 366.5,156.7 368,156.8 369.5,156.9 371,157 372.5,157.1 374,157.2 375.5,157.3 377,157.4 378.5,157.5 380,157.7 381.5,157.9 382.9,158.1 384.4,158.5 385.9,158.8 387.3,159.2 388.8,159.5 390.2,159.9 391.7,160.3 393.2,160.6 394.6,160.9 396.1,161.2 397.6,161.5 399.1,161.7 400.6,161.9 402,162.2 403.5,162.4 405,162.6 406.5,162.8 408,163 409.5,163.2 411,163.5 412.5,163.7 413.9,163.9 415.4,164.2 416.9,164.4 418.4,164.7 419.8,165 421.3,165.3 422.8,165.6 424.2,165.9 425.7,166.3 427.2,166.6 428.6,167 430.1,167.4 431.5,167.8 433,168.2 434.4,168.6 435.9,169 437.3,169.5 438.7,169.9 440.2,170.4 441.6,170.9 443,171.3 444.4,171.8 445.8,172.3 447.2,172.8 448.6,173.4 450,174 451.4,174.7 452.7,175.3 454.1,176 455.4,176.7 456.8,177.4 458.2,178.1 459.5,178.7 460.9,179.4 462.2,180 463.6,180.7 465,181.2 466.4,181.8 467.8,182.3 469.2,182.8 470.6,183.2 472,183.5 473.5,183.9 474.9,184.3 476.4,184.6 477.8,185 479.3,185.3 480.8,185.6 482.3,185.9 483.7,186.2 485.2,186.5 486.7,186.8 488.2,187 489.7,187.3 491.2,187.5 492.7,187.7 494.2,187.9 495.6,188.1 497.1,188.2 498.6,188.4 500.1,188.6 501.6,188.7 503.1,188.9 504.6,189.1 506.1,189.2 507.6,189.4 509.1,189.5 510.6,189.6 512.1,189.8 513.6,189.9 515.1,190 516.6,190.1 518.1,190.2 519.6,190.4 521.1,190.5"/>
<polyline class="band" stroke-width="8.8" points="521.1,190.5 522.6,190.5 524.1,190.6 525.6,190.7 527.1,190.8 528.6,190.9 530.1,190.9 531.6,191 533.1,191 534.6,191.1 536.1,191.1 537.6,191.2 539.1,191.2 540.6,191.3 542.1,191.3 543.6,191.4 545.1,191.4 546.6,191.5 548.1,191.5 549.6,191.5 551.1,191.6 552.6,191.6 554.1,191.7 555.6,191.7 557.1,191.7 558.6,191.8 560.1,191.8 561.6,191.8 563.1,191.8 564.6,191.9 566.1,191.9 567.6,191.9 569.1,191.9 570.6,192 572.1,192 573.6,192 575.1,192 576.6,192 578.1,192 579.6,192 581.1,192 582.6,192 584.1,192 585.6,192 587.1,192 588.6,192 590.1,192 591.6,192 593.1,192 594.6,192 596.1,192 597.6,192 599.1,192 600.6,192 602.1,192 603.6,192 605.1,192 606.6,192 608.1,192 609.6,192 611.1,192 612.6,192 614.1,192 615.6,192 617.1,192 618.6,192 620.1,192 621.6,192 623.1,192 624.6,192 626.1,191.9 627.6,191.9 629.1,191.9 630.6,191.9 632.1,191.8 633.6,191.8 635.1,191.8 636.6,191.7 638.1,191.7 639.6,191.7 641.2,191.6 642.7,191.6 644.2,191.5 645.7,191.5 647.2,191.4 648.7,191.4 650.2,191.3 651.7,191.3 653.2,191.2 654.7,191.2 656.2,191.1 657.7,191.1 659.2,191 660.7,191 662.2,190.9 663.7,190.8 665.2,190.8 666.7,190.7 668.2,190.7 669.7,190.6 671.2,190.5 672.7,190.5 674.2,190.4 675.7,190.3 677.2,190.3 678.7,190.2 680.2,190.2 681.7,190.1 683.2,190 684.7,190 686.2,189.9 687.7,189.8 689.2,189.8 690.7,189.7 692.2,189.7 693.7,189.6 695.2,189.5 696.7,189.5 698.2,189.4 699.7,189.4 701.2,189.3 702.7,189.2 704.2,189.2 705.7,189.1 707.2,189 708.7,189 710.2,188.9 711.7,188.8 713.2,188.8 714.7,188.7 716.2,188.6 717.7,188.6 719.2,188.5 720.7,188.4 722.2,188.4 723.7,188.3 725.2,188.2 726.7,188.1 728.2,188.1 729.7,188 731.2,187.9 732.7,187.8 734.2,187.8 735.7,187.7 737.2,187.6 738.7,187.5 740.2,187.4 741.7,187.3 743.2,187.3 744.7,187.2 746.2,187.1 747.7,187 749.2,186.9 750.7,186.8 752.2,186.7 753.7,186.6 755.2,186.6 756.7,186.5 758.2,186.4 759.7,186.3 761.1,186.2 762.6,186.1 764.1,185.9 765.6,185.8 767.1,185.7 768.6,185.6 770.1,185.5 771.6,185.4 773.1,185.3 774.6,185.1 776.1,185 777.6,184.9 779.1,184.8 780.6,184.6 782.1,184.5 783.6,184.4 785.1,184.2 786.6,184.1 788.1,184 789.6,183.8 791.1,183.7 792.6,183.5 794.1,183.4 795.6,183.3 797.1,183.1 798.5,183 800,182.8 801.5,182.7 803,182.6 804.5,182.4 806,182.3 807.5,182.1 809,182 810.5,181.9 812,181.7 813.5,181.6 815,181.5 816.5,181.3 818,181.2 819.5,181.1 821,180.9 822.5,180.8 824,180.7 825.5,180.5 827,180.4 828.5,180.3 830,180.2 831.5,180 833,179.9 834.5,179.8 835.9,179.7 837.4,179.6 838.9,179.5 840.4,179.4 841.9,179.3 843.4,179.2 844.9,179 846.4,178.9 847.9,178.8 849.4,178.7 850.9,178.6 852.4,178.5 853.9,178.4 855.4,178.3 856.9,178.2 858.4,178.1 859.9,178 861.4,177.9 862.9,177.8 864.4,177.6 865.9,177.5 867.4,177.4 868.9,177.3 870.4,177.1 871.9,177 873.4,176.9 874.9,176.7 876.4,176.6 877.9,176.5 879.4,176.3 880.9,176.2 882.4,176.1 883.9,175.9 885.4,175.8 886.9,175.6 888.4,175.5 889.9,175.4 891.4,175.2 892.9,175 894.4,174.9 895.9,174.7 897.4,174.5 898.8,174.4 900.3,174.2 901.8,174 903.3,173.8 904.8,173.6 906.3,173.4 907.8,173.2 909.2,172.9 910.7,172.7 912.2,172.5 913.6,172.2 915.1,171.9 916.6,171.6 918,171.2 919.5,170.8 920.9,170.4 922.4,170 923.8,169.6 925.2,169.1 926.7,168.7 928.1,168.2 929.6,167.8 931,167.3 932.4,166.9 933.9,166.4 935.3,166 936.8,165.5 938.2,165.1 939.7,164.6 941.1,164.2 942.5,163.7 944,163.2 945.4,162.7 946.8,162.2 948.2,161.7 949.6,161.1 950.9,160.5 952.2,159.9 953.5,159.2 954.8,158.5 956.1,157.7 957.3,156.8 958.5,155.9 959.7,155 960.9,154.1 962.1,153.1 963.3,152.2 964.5,151.2 965.7,150.3 966.9,149.4 968.1,148.5 969.4,147.6 970.6,146.8 971.9,146.1 973.2,145.3 974.5,144.7 975.9,144 977.2,143.3 978.6,142.7 979.9,142 981.3,141.4 982.7,140.8 984.1,140.2 985.5,139.6 986.9,139.1 988.3,138.5 989.7,137.9 991.1,137.4 992.4,136.8 993.8,136.3 995.2,135.8 996.7,135.2 998.1,134.7 999.5,134.2 1000.9,133.7 1002.3,133.2 1003.7,132.7 1005.2,132.2 1006.6,131.8 1008,131.3 1009.4,130.8 1010.9,130.4 1012.3,129.9 1013.7,129.4 1015.2,129 1016.6,128.5 1018,128.1 1019.4,127.6 1020.9,127.1 1022.3,126.7 1023.8,126.3 1025.2,125.8 1026.6,125.4 1028.1,125 1029.5,124.6 1031,124.2 1032.4,123.9 1033.9,123.6 1035.4,123.2 1036.8,122.9 1038.3,122.7 1039.8,122.4 1041.3,122.1 1042.7,121.8 1044.2,121.6 1045.7,121.3 1047.2,121 1048.6,120.7 1050.1,120.4 1051.6,120.1 1053,119.8 1054.5,119.4 1056,119 1057.4,118.7 1058.9,118.3 1060.3,117.9 1061.8,117.5 1063.2,117.1 1064.7,116.6 1066.1,116.2 1067.6,115.8 1069,115.3 1070.4,114.9 1071.9,114.5 1073.3,114.1 1074.8,113.6 1076.2,113.2 1077.7,112.8 1079.1,112.4 1080.6,112 1082,111.6 1083.5,111.2 1084.9,110.9 1086.4,110.5 1087.8,110.2 1089.3,109.9 1090.8,109.6 1092.2,109.4 1093.7,109.1 1095.2,108.8 1096.7,108.6 1098.1,108.3 1099.6,108.1 1101.1,107.9 1102.6,107.6 1104.1,107.4 1105.5,107.1 1107,106.9 1108.5,106.7 1110,106.5 1111.5,106.3 1113,106.1 1114.5,105.9 1116,105.7 1117.5,105.5 1119,105.3 1120.5,105.1 1122,105 1123.5,104.8 1125,104.7 1126.5,104.6 1128,104.5 1129.4,104.4 1130.9,104.3 1132.4,104.2 1133.9,104.1 1135.4,104 1136.9,104 1138.4,103.9 1139.9,103.8 1141.4,103.8 1142.9,103.7 1144.4,103.7 1145.9,103.6 1147.4,103.6 1148.9,103.6 1150.4,103.5 1151.9,103.5 1153.4,103.4 1154.9,103.4 1156.4,103.3 1157.9,103.3 1159.4,103.3 1160.9,103.2 1162.5,103.2 1164,103.1 1165.5,103.1 1167,103 1168.5,103 1170,102.9 1171.5,102.9 1173,102.8 1174.5,102.8 1176,102.7 1177.5,102.6 1179,102.6 1180.5,102.5 1182,102.4 1183.5,102.3 1185,102.3 1186.5,102.2 1188,102.1 1189.5,102.1 1191,102 1192.5,101.9 1194,101.8 1195.5,101.8 1197,101.7 1198.5,101.6 1200,101.5 1201.5,101.5 1203,101.4 1204.5,101.3 1206,101.3 1207.5,101.2 1209,101.1 1210.5,101.1 1212,101 1213.5,100.9 1215,100.9 1216.5,100.8 1218,100.8 1219.5,100.7 1221,100.7 1222.5,100.6 1224,100.6 1225.5,100.6 1227,100.5 1228.5,100.5 1230,100.5 1231.5,100.4 1233,100.4 1234.5,100.4 1236,100.4 1237.5,100.4 1239,100.4 1240.5,100.4 1242,100.4 1243.5,100.5 1245,100.5 1246.5,100.5 1248,100.6 1249.5,100.6 1251,100.7 1252.5,100.7 1254,100.8 1255.5,100.9 1257,101 1258.5,101 1260,101.1 1261.5,101.2 1263,101.3 1264.5,101.4 1266,101.5 1267.5,101.6 1269,101.7 1270.5,101.8 1272,102 1273.5,102.1 1275,102.2 1276.5,102.3 1277.9,102.4 1279.4,102.5 1280.9,102.6 1282.4,102.8 1283.9,102.9 1285.4,103 1286.9,103.1 1288.4,103.2 1289.9,103.3 1291.4,103.4 1292.9,103.5 1294.4,103.6 1295.9,103.7 1297.4,103.8 1298.9,103.9 1300.4,104 1301.9,104.1 1303.4,104.2 1304.9,104.3 1306.4,104.3 1307.9,104.4 1309.4,104.5 1310.9,104.5 1312.4,104.6 1313.9,104.6 1315.4,104.7 1316.9,104.8 1318.4,104.8 1319.9,104.9 1321.4,104.9 1322.9,105 1324.4,105.1 1325.9,105.1 1327.4,105.2 1328.9,105.2 1330.4,105.3 1331.9,105.3 1333.4,105.4 1334.9,105.4 1336.4,105.5 1337.9,105.5 1339.4,105.6 1340.9,105.6 1342.4,105.7 1343.9,105.7 1345.4,105.8 1346.9,105.8 1348.4,105.9 1349.9,105.9 1351.4,106 1352.9,106 1354.4,106.1 1356,106.1 1357.5,106.1 1359,106.2 1360.5,106.2 1362,106.3 1363.5,106.3 1365,106.3 1366.5,106.4 1368,106.4 1369.5,106.4 1371,106.5 1372.5,106.5 1374,106.5 1375.5,106.6 1377,106.6 1378.5,106.6 1380,106.7 1381.5,106.7 1383,106.7 1384.5,106.8 1386,106.8 1387.5,106.8 1389,106.9 1390.5,106.9 1392,106.9 1393.5,107 1395,107 1396.5,107 1398,107.1 1399.5,107.1 1401,107.1 1402.5,107.1 1404,107.2 1405.5,107.2 1407,107.2 1408.5,107.2 1410,107.3 1411.5,107.3 1413,107.3 1414.5,107.3 1416,107.3 1417.5,107.4 1419,107.4 1420.5,107.4 1422,107.4 1423.5,107.4 1425,107.4 1426.5,107.4 1428,107.4 1429.5,107.4 1431,107.4 1432.5,107.4 1434,107.4 1435.5,107.4 1437,107.3 1438.5,107.3 1440,107.3 1441.5,107.3 1443,107.2 1444.5,107.2 1446,107.2 1447.5,107.2 1449,107.1 1450.5,107.1 1452,107 1453.5,107 1455,107 1456.5,106.9 1458,106.9 1459.5,106.8 1461,106.8 1462.5,106.7 1464,106.7 1465.5,106.6 1467,106.6 1468.5,106.5 1470,106.5 1471.5,106.4 1473,106.4 1474.6,106.3 1476.1,106.3 1477.6,106.2 1479.1,106.2 1480.6,106.1 1482.1,106 1483.6,106 1485.1,105.9 1486.6,105.8 1488.1,105.7 1489.6,105.6 1491.1,105.5 1492.6,105.4 1494.1,105.3 1495.6,105.2 1497.1,105.1 1498.6,104.9 1500.1,104.8 1501.6,104.7 1503,104.5 1504.5,104.3 1506,104.1 1507.4,103.8 1508.9,103.4 1510.3,103 1511.8,102.6 1513.2,102.1 1514.6,101.6 1516.1,101.1 1517.5,100.6"/>
</g>
<g stroke="#000000" fill="#000000">
<polyline class="band" stroke-width="8.8" points="750,197.3 748.5,197.5 747,197.8 745.5,198 744.1,198.2 742.6,198.4 741.1,198.6 739.6,198.8 738.1,199 736.6,199.1 735.1,199.3 733.6,199.4 732.1,199.5 730.6,199.7 729.1,199.8 727.6,199.9 726.1,200 724.6,200.1 723.1,200.2 721.6,200.3 720.1,200.4 718.6,200.5 717.1,200.6 715.6,200.6 714.1,200.7 712.6,200.8 711.1,200.9 709.6,200.9 708.1,201 706.6,201.1 705.1,201.1 703.6,201.2 702.1,201.2 700.6,201.3 699.1,201.3 697.6,201.4 696.1,201.4 694.6,201.5 693.1,201.5 691.6,201.6 690.1,201.6 688.6,201.6 687.1,201.7 685.6,201.7 684.1,201.8 682.6,201.8 681.1,201.8 679.6,201.9 678.1,201.9 676.6,202 675.1,202 673.6,202 672.1,202 670.6,202.1 669.1,202.1 667.6,202.1 666.1,202.1 664.6,202.2 663.1,202.2 661.6,202.2 660.1,202.2 658.6,202.2 657.1,202.2 655.6,202.2 654.1,202.2 652.6,202.2 651.1,202.2 649.6,202.2 648.1,202.2 646.6,202.2 645.1,202.2 643.6,202.2 642.1,202.2 640.6,202.2 639.1,202.1 637.6,202.1 636,202.1 634.5,202.1 633,202.1 631.5,202.1 630,202.1 628.5,202.1 627,202.1 625.5,202 624,202 622.5,202 621,202 619.5,202 618,202 616.5,202 615,201.9 613.5,201.9 612,201.9 610.5,201.9 609,201.9 607.5,201.9 606,201.9 604.5,201.8 603,201.8 601.5,201.8 600,201.8 598.5,201.8 597,201.8 595.5,201.8 594,201.7 592.5,201.7 591,201.7 589.5,201.7 588,201.7 586.5,201.7 585,201.6 583.5,201.6 582,201.6 580.5,201.6 579,201.6 577.5,201.6 576,201.5 574.5,201.5 573,201.5 571.5,201.5 570,201.5 568.5,201.5 567,201.4 565.5,201.4 564,201.4 562.5,201.4 560.9,201.4 559.4,201.3 557.9,201.3 556.4,201.3 554.9,201.3 553.4,201.3 551.9,201.2 550.4,201.2 548.9,201.2 547.4,201.2 545.9,201.1 544.4,201.1 542.9,201.1 541.4,201.1 539.9,201 538.4,201 536.9,201 535.4,200.9 533.9,200.9 532.4,200.9 530.9,200.9 529.4,200.9 527.9,200.8 526.4,200.8 524.9,200.8 523.4,200.8 521.9,200.8 520.4,200.8 518.9,200.8"/>
<polyline class="band" stroke-width="9.2" points="518.9,200.8 517.4,200.8 515.9,200.8 514.4,200.8 512.9,200.8 511.4,200.8 509.9,200.8 508.4,200.8 506.9,200.8 505.4,200.8 503.9,200.8 502.4,200.8 500.9,200.8 499.4,200.8 497.9,200.8 496.4,200.8 494.9,200.8 493.4,200.8 491.9,200.8 490.4,200.8 488.9,200.8 487.4,200.9 485.9,201 484.4,201.1 482.9,201.2 481.4,201.4 479.9,201.6 478.4,201.8 476.9,202 475.4,202.2 473.9,202.4 472.4,202.6 470.9,202.9 469.5,203.1 468,203.4 466.5,203.7 465.1,204 463.6,204.4 462.2,204.9 460.7,205.3 459.3,205.7 457.9,206.2 456.4,206.6 455,207.1 453.5,207.5 452.1,207.9 450.6,208.3 449.2,208.7 447.7,209.1 446.3,209.5 444.8,209.9 443.4,210.3 441.9,210.7 440.4,211 439,211.4 437.5,211.7 436,212.1 434.6,212.4 433.1,212.6 431.6,212.8 430.1,213 428.6,213.1 427.2,213.3 425.7,213.4 424.2,213.5 422.7,213.6 421.2,213.7 419.7,213.8 418.1,213.9 416.6,213.9 415.1,214 413.6,214 412.1,214 410.6,214 409.1,214 407.6,213.9 406.1,213.9 404.6,213.9 403.1,213.8 401.6,213.8 400.1,213.8 398.6,213.8 397.1,213.8 395.6,213.8 394.1,213.8 392.6,213.8 391.1,213.8 389.6,213.8 388.1,213.8 386.6,213.8 385.1,213.8 383.6,213.8 382.1,213.8 380.6,213.8 379.1,213.8 377.6,213.8 376.1,213.8 374.6,213.8 373.1,213.9 371.6,214 370.1,214.2 368.6,214.4 367.2,214.7 365.7,215 364.2,215.3 362.7,215.6 361.2,215.8 359.7,216 358.2,216.2 356.7,216.4 355.2,216.6 353.7,216.7 352.2,216.9 350.7,217.1 349.3,217.3 347.8,217.5 346.3,217.7 344.8,217.9 343.4,218.2 341.9,218.5 340.4,218.8 338.9,219.2 337.5,219.6 336,219.9 334.5,220.4 333.1,220.8 331.6,221.2 330.2,221.7 328.7,222.2 327.3,222.7 325.9,223.2 324.5,223.8 323.1,224.3 321.8,224.9 320.4,225.5 319.1,226.1 317.9,226.9 316.6,227.7 315.4,228.6 314.1,229.5 312.9,230.4 311.6,231.2 310.4,232.1 309.1,232.8 307.7,233.5 306.4,234.2 305,234.8 303.6,235.4 302.2,236 300.8,236.5 299.4,237 298,237.4 296.5,237.8 295.1,238.1 293.6,238.4 292.1,238.7 290.6,239 289.1,239.4 287.7,239.8 286.3,240.2 284.9,240.8 283.6,241.4 282.2,242 280.8,242.7 279.5,243.4 278.2,244.2 276.9,244.9 275.6,245.7 274.3,246.4 273,247.2 271.8,248.1 270.5,248.9 269.3,249.8 268.1,250.7 266.9,251.6 265.7,252.5 264.4,253.3 263.2,254.2 262,255 260.7,255.8 259.4,256.6 258.1,257.4 256.9,258.2 255.6,259 254.3,259.8 253,260.6 251.8,261.4 250.5,262.2 249.3,263 248,263.9 246.7,264.7 245.5,265.5 244.3,266.4 243.1,267.3 241.8,268.1 240.6,269 239.3,269.8 238.1,270.7 236.8,271.5 235.6,272.3 234.3,273.1 233,273.9 231.7,274.7 230.4,275.4 229.1,276.1 227.7,276.7 226.3,277.2 224.9,277.8 223.5,278.3 222.1,278.9 220.7,279.4 219.2,279.8 217.8,280.3 216.3,280.7 214.8,281 213.3,281.3 211.8,281.7 210.4,282.2 209.2,282.7 208,283.5 206.8,284.6"/>
<polyline class="band" stroke-width="8.8" points="206.8,284.6 205.8,285.8 204.9,287 204,288.2 203.3,289.5 202.7,290.9"/>
<polyline class="band" stroke-width="8.4" points="202.7,290.9 202.1,292.3 201.5,293.7 200.9,295.1 200.3,296.5 199.8,297.9 199.3,299.3 198.8,300.7 198.3,302.1 197.8,303.5 197.3,304.9 196.8,306.4 196.4,307.8 195.9,309.2 195.4,310.7 195,312.1 194.5,313.5 194.1,314.9 193.6,316.4 193.2,317.8 192.7,319.3 192.3,320.7 191.9,322.1 191.4,323.6 191,325 190.5,326.4 190,327.9 189.6,329.3 189.1,330.7 188.6,332.1 188.1,333.5 187.6,334.9 187.1,336.4 186.6,337.8 186.1,339.2 185.5,340.6 185,342"/>
<polyline class="thin" points="185,342 182,346 180.3,350.2 180.6,368 180.8,388 180,406.4 182.4,418.8"/>
<g stroke="none"><circle cx="185" cy="342" r="4.5"/><circle cx="182" cy="346" r="4.5"/><circle cx="180.3" cy="350.2" r="4.5"/><circle cx="180.6" cy="368" r="4.5"/><circle cx="180.8" cy="388" r="4.5"/><circle cx="180" cy="406.4" r="4.5"/><circle cx="182.4" cy="418.8" r="4.5"/></g>
<polyline class="thin" points="182.4,418.8 181.5,380 181.5,340 182.5,300 185,260 189,225 193.5,200 196.5,188 197.5,182"/>
<g stroke="none"><circle cx="182.4" cy="418.8" r="4.5"/><circle cx="181.5" cy="380" r="4.5"/><circle cx="181.5" cy="340" r="4.5"/><circle cx="182.5" cy="300" r="4.5"/><circle cx="185" cy="260" r="4.5"/><circle cx="189" cy="225" r="4.5"/><circle cx="193.5" cy="200" r="4.5"/><circle cx="196.5" cy="188" r="4.5"/><circle cx="197.5" cy="182" r="4.5"/></g>
<polyline class="band" stroke-width="8.4" points="197.5,182 197.5,180.5 197.6,179 197.7,177.5 197.9,176 198.1,174.5 198.3,173 198.6,171.5 198.9,170.1 199.3,168.6 199.8,167.2 200.3,165.8 201,164.4"/>
<polyline class="band" stroke-width="8.8" points="201,164.4 201.8,163.2 202.9,162 204.1,161"/>
<polyline class="band" stroke-width="9.2" points="204.1,161 205.4,160.9 206.8,161.6 208,162.5 209.1,163.5"/>
<polyline class="band" stroke-width="8.8" points="209.1,163.5 210.1,164.7 211,165.9 212,167.1 213,168.2 213.9,169.4 214.9,170.5 215.9,171.7 216.8,172.8 217.8,173.9 218.8,175.1 219.8,176.2 220.7,177.4 221.7,178.5 222.7,179.6 223.7,180.7 224.8,181.8 225.8,183 226.8,184.1 227.8,185.2 228.9,186.2"/>
<polyline class="band" stroke-width="9.2" points="228.9,186.2 230.1,187.1 231.4,187.8 232.7,188.5 234.1,189.2 235.5,189.8 237,190.2 238.4,190.5 239.9,190.7 241.4,190.8 242.9,191 244.4,191.1 245.9,191.3 247.4,191.3 248.9,191.4 250.4,191.4 251.9,191.3 253.3,191.1 254.8,190.8 256.3,190.4 257.7,190 259.2,189.5 260.6,189.1 262.1,188.7 263.5,188.3 265,187.9 266.4,187.4 267.9,187 269.3,186.5 270.7,186 272.1,185.5 273.6,185 275,184.5 276.3,183.9 277.7,183.3 279,182.7 280.4,182 281.7,181.3 283,180.5 284.3,179.7 285.5,178.9 286.8,178.1 288,177.1 289.2,176.3 290.5,175.6 291.8,174.9 293.2,174.2 294.6,173.5 296.1,173 297.5,172.5 299,172.2 300.4,172 301.9,172 303.4,172 304.9,172.1 306.4,172.1 307.9,172.1 309.4,172.2 310.9,172.3 312.4,172.4 313.9,172.5 315.4,172.6 316.8,172.9 318.3,173.3 319.7,173.7 321.2,174.1 322.7,174.5 324.1,174.9 325.6,175.2 327.1,175.5 328.5,175.7 330,176 331.5,176.2 333,176.5 334.5,176.7 336,176.9 337.4,177.1 338.9,177.3 340.4,177.5 341.9,177.7 343.4,177.9 344.9,178.1 346.4,178.2 347.9,178.4 349.4,178.5 350.9,178.5 352.4,178.6 353.9,178.6 355.4,178.7 356.9,178.8 358.4,178.8 359.9,178.9 361.4,178.9 362.9,178.9 364.4,179 365.9,179 367.4,179.1 368.9,179.1 370.4,179.1 371.9,179.1 373.4,179.2 374.9,179.2 376.4,179.2 377.9,179.2 379.4,179.2 380.9,179.2 382.3,179.1 383.8,178.8 385.3,178.5 386.8,178.2 388.2,177.8 389.7,177.5 391.2,177.1 392.6,176.8 394.1,176.6 395.6,176.4 397.1,176.3 398.6,176.2 400.1,176.1 401.6,175.9 403.1,175.8 404.6,175.7 406.1,175.7 407.6,175.6 409.1,175.5 410.6,175.5 412.1,175.5 413.6,175.5 415.1,175.5 416.7,175.6 418.2,175.6 419.8,175.7 421.3,175.8 422.9,175.8 424.4,175.9 425.9,176.1 427.3,176.2 428.7,176.3 430.1,176.5 431.3,176.9 432.6,177.7 433.8,178.7 435,179.8 436.2,180.9 437.4,181.8 438.6,182.7 439.8,183.6 441.1,184.5 442.3,185.3 443.6,186 445,186.6 446.4,187 447.9,187.4 449.3,187.7 450.8,188 452.3,188.3 453.7,188.6 455.2,188.9 456.7,189.1 458.2,189.4 459.6,189.7 461.1,189.9 462.6,190.1 464.1,190.4 465.6,190.6 467.1,190.8 468.6,191 470,191.1 471.5,191.3 473,191.4 474.5,191.5 476,191.6 477.5,191.8 479,191.9 480.5,192.1 482,192.2 483.5,192.4 485,192.6 486.5,192.9 487.9,193.1 489.4,193.3 490.9,193.5 492.4,193.7 493.9,193.8 495.4,194 496.9,194.1 498.4,194.2 499.9,194.4 501.4,194.5 502.9,194.6 504.3,194.7 505.8,194.8 507.3,194.9 508.8,195 510.3,195.1 511.8,195.2 513.3,195.3 514.8,195.4 516.3,195.5 517.8,195.6 519.3,195.7 520.8,195.8"/>
<polyline class="band" stroke-width="8.8" points="520.8,195.8 522.3,195.8 523.8,195.9 525.3,196 526.8,196 528.3,196.1 529.8,196.1 531.3,196.2 532.8,196.2 534.3,196.2 535.8,196.3 537.3,196.3 538.8,196.3 540.3,196.4 541.8,196.4 543.3,196.4 544.8,196.4 546.3,196.5 547.8,196.5 549.3,196.5 550.8,196.5 552.3,196.5 553.8,196.6 555.3,196.6 556.8,196.6 558.3,196.6 559.8,196.7 561.3,196.7 562.8,196.7 564.3,196.7 565.8,196.8 567.3,196.8 568.8,196.8 570.3,196.8 571.8,196.9 573.3,196.9 574.8,196.9 576.3,196.9 577.8,197 579.3,197 580.8,197 582.3,197 583.8,197.1 585.3,197.1 586.8,197.1 588.3,197.1 589.8,197.2 591.3,197.2 592.8,197.2 594.3,197.2 595.8,197.2 597.3,197.3 598.8,197.3 600.3,197.3 601.8,197.3 603.3,197.4 604.8,197.4 606.3,197.4 607.8,197.4 609.3,197.4 610.8,197.4 612.3,197.5 613.8,197.5 615.3,197.5 616.8,197.5 618.3,197.5 619.8,197.5 621.3,197.5 622.8,197.6 624.3,197.6 625.8,197.6 627.3,197.6 628.8,197.6 630.3,197.6 631.8,197.6 633.3,197.6 634.8,197.6 636.3,197.6 637.8,197.6 639.3,197.6 640.8,197.6 642.3,197.6 643.8,197.6 645.3,197.6 646.8,197.5 648.3,197.5 649.8,197.5 651.3,197.5 652.8,197.5 654.3,197.5 655.8,197.4 657.3,197.4 658.8,197.4 660.3,197.4 661.8,197.3 663.3,197.3 664.8,197.3 666.3,197.2 667.8,197.2 669.3,197.2 670.8,197.1 672.3,197.1 673.8,197.1 675.3,197 676.8,197 678.3,197 679.8,196.9 681.3,196.9 682.8,196.9 684.3,196.8 685.8,196.8 687.3,196.8 688.8,196.7 690.3,196.7 691.8,196.7 693.3,196.7 694.8,196.6 696.3,196.6 697.8,196.6 699.3,196.5 700.8,196.5 702.3,196.5 703.8,196.4 705.3,196.4 706.8,196.4 708.3,196.3 709.8,196.3 711.3,196.3 712.8,196.2 714.3,196.2 715.8,196.1 717.3,196.1 718.8,196.1 720.3,196 721.8,196 723.3,196 724.8,195.9 726.3,195.9 727.8,195.8 729.3,195.8 730.8,195.8 732.3,195.7 733.8,195.7 735.3,195.6 736.8,195.6 738.3,195.6 739.8,195.5 741.3,195.5 742.8,195.5 744.3,195.4 745.8,195.4 747.3,195.4 748.8,195.3 750.3,195.3 751.8,195.3 753.3,195.2 754.8,195.2 756.3,195.2 757.8,195.2 759.3,195.1 760.8,195.1 762.3,195.1 763.8,195.1 765.3,195.1 766.8,195 768.3,195 769.8,195 771.3,195 772.8,195 774.3,195 775.8,194.9 777.3,194.9 778.8,194.9 780.3,194.9 781.8,194.8 783.2,194.6 784.7,194.4 786.2,194.1 787.7,193.7 789.1,193.3 790.6,192.9 792.1,192.5 793.5,192.2 795,191.8 796.5,191.5 797.9,191.2 799.4,191.1 800.9,190.9 802.4,190.8 803.9,190.7 805.4,190.7 806.8,190.6 808.3,190.5 809.8,190.4 811.3,190.4 812.8,190.3 814.3,190.2 815.8,190.2 817.3,190.1 818.8,190.1 820.3,190 821.8,190 823.3,190 824.8,189.9 826.3,189.9 827.8,189.8 829.4,189.8 830.9,189.8 832.4,189.7 833.9,189.7 835.4,189.6 836.9,189.6 838.4,189.5 839.9,189.5 841.4,189.4 842.9,189.4 844.4,189.3 845.9,189.2 847.4,189.1 848.9,189.1 850.4,189 851.9,188.9 853.4,188.8 854.9,188.7 856.4,188.6 857.8,188.5 859.3,188.3 860.9,188.2 862.4,188.1 863.9,187.9 865.4,187.8 866.9,187.7 868.4,187.5 869.9,187.3 871.4,187.2 872.9,187 874.4,186.8 875.8,186.7 877.3,186.5 878.8,186.3 880.3,186.1 881.8,185.9 883.3,185.7 884.8,185.5 886.3,185.3 887.8,185 889.2,184.8 890.7,184.6 892.2,184.4 893.7,184.1 895.1,183.9 896.6,183.6 898.1,183.4 899.5,183.1 901,182.8 902.4,182.5 903.9,182.2 905.3,181.8 906.8,181.4 908.2,181 909.7,180.6 911.1,180.2 912.5,179.7 914,179.2 915.4,178.7 916.8,178.2 918.3,177.7 919.7,177.2 921.1,176.7 922.5,176.1 923.9,175.6 925.3,175 926.7,174.5 928.1,174 929.5,173.4 930.9,172.9 932.3,172.3 933.7,171.7 935.1,171.1 936.5,170.5 937.9,169.9 939.2,169.3 940.6,168.6 942,168 943.3,167.3 944.7,166.6 946,165.9 947.3,165.2 948.6,164.5 949.9,163.7 951.1,163 952.4,162.2 953.6,161.3 954.7,160.4 955.9,159.5 957,158.5 958.1,157.4 959.1,156.4 960.2,155.3 961.3,154.2 962.3,153.1 963.4,152 964.5,150.9 965.6,149.8 966.6,148.7 967.8,147.7 968.9,146.7 970,145.8 971.2,144.9 972.4,144.1 973.7,143.3 974.9,142.5 976.2,141.8 977.5,141 978.8,140.3 980.2,139.5 981.5,138.8 982.9,138.1 984.3,137.5 985.6,136.9 987,136.3 988.4,135.7 989.8,135.2 991.2,134.7 992.6,134.2 994.1,133.7 995.5,133.3 996.9,132.9 998.4,132.5 999.9,132.2 1001.4,131.8 1002.8,131.6 1004.3,131.4 1005.8,131.2 1007.3,131 1008.8,130.8 1010.3,130.6 1011.7,130.5 1013.2,130.3 1014.7,130.2 1016.2,130.1 1017.7,130 1019.2,130 1020.7,130 1022.2,130 1023.7,130 1025.2,130.1 1026.7,130.1 1028.2,130.2 1029.7,130.2 1031.2,130.3 1032.7,130.3 1034.2,130.4 1035.7,130.5 1037.2,130.6 1038.7,130.6 1040.2,130.7 1041.7,130.8 1043.2,130.8 1044.7,130.9 1046.2,130.9 1047.7,131 1049.2,131 1050.7,131 1052.2,131 1053.7,131 1055.2,131 1056.7,131 1058.2,131 1059.7,130.9 1061.2,130.9 1062.7,130.9 1064.2,130.9 1065.7,130.8 1067.2,130.8 1068.7,130.8 1070.2,130.7 1071.7,130.7 1073.2,130.7 1074.7,130.6 1076.2,130.6 1077.7,130.5 1079.2,130.5 1080.7,130.4 1082.2,130.4 1083.7,130.3 1085.2,130.3 1086.7,130.2 1088.2,130.1 1089.7,130.1 1091.2,130 1092.7,130 1094.2,129.9 1095.7,129.8 1097.2,129.8 1098.7,129.7 1100.2,129.6 1101.7,129.5 1103.2,129.4 1104.7,129.3 1106.2,129.2 1107.7,129.1 1109.2,129 1110.7,128.9 1112.2,128.8 1113.7,128.6 1115.2,128.5 1116.7,128.4 1118.2,128.3 1119.7,128.1 1121.2,128 1122.6,127.9 1124.1,127.7 1125.6,127.6 1127.1,127.4 1128.6,127.3 1130.1,127.2 1131.6,127 1133.1,126.9 1134.6,126.8 1136.1,126.6 1137.6,126.5 1139.1,126.3 1140.6,126.2 1142.1,126 1143.6,125.9 1145.1,125.7 1146.6,125.5 1148,125.3 1149.5,125.1 1151,124.8 1152.4,124.5 1153.9,124.2 1155.4,123.7 1156.8,123.3 1158.2,122.8 1159.7,122.4 1161.1,121.9 1162.6,121.5 1164,121.1 1165.5,120.8 1166.9,120.5 1168.4,120.4 1169.9,120.2 1171.4,120 1172.8,119.9 1174.3,119.7 1175.8,119.5 1177.3,119.4 1178.8,119.2 1180.3,119.1 1181.7,118.9 1183.2,118.8 1184.7,118.7 1186.2,118.5 1187.7,118.4 1189.2,118.2 1190.7,118.1 1192.2,118 1193.7,117.9 1195.2,117.8 1196.7,117.6 1198.2,117.5 1199.7,117.4 1201.2,117.3 1202.7,117.2 1204.2,117.1 1205.7,117 1207.2,116.9 1208.7,116.9 1210.2,116.8 1211.7,116.7 1213.2,116.6 1214.7,116.5 1216.2,116.5 1217.7,116.4 1219.3,116.4 1220.8,116.3 1222.3,116.3 1223.8,116.2 1225.3,116.2 1226.8,116.1 1228.3,116.1 1229.8,116.1 1231.3,116 1232.8,116 1234.3,116 1235.8,116 1237.3,116 1238.8,116 1240.3,116 1241.8,116 1243.3,116 1244.8,116.1 1246.3,116.1 1247.8,116.1 1249.3,116.1 1250.8,116.2 1252.3,116.2 1253.8,116.3 1255.3,116.3 1256.8,116.4 1258.3,116.4 1259.8,116.5 1261.3,116.5 1262.8,116.6 1264.3,116.6 1265.8,116.7 1267.3,116.8 1268.8,116.9 1270.3,116.9 1271.8,117 1273.3,117.1 1274.8,117.2 1276.3,117.2 1277.8,117.3 1279.3,117.4 1280.8,117.5 1282.3,117.6 1283.8,117.7 1285.3,117.7 1286.8,117.8 1288.3,117.9 1289.8,118 1291.2,118.1 1292.7,118.2 1294.2,118.3 1295.7,118.4 1297.2,118.6 1298.7,118.7 1300.2,118.9 1301.7,119 1303.2,119.2 1304.7,119.3 1306.2,119.4 1307.7,119.5 1309.2,119.6 1310.7,119.6 1312.2,119.7 1313.7,119.8 1315.2,119.9 1316.7,119.9 1318.2,120 1319.7,120.1 1321.2,120.1 1322.7,120.2 1324.2,120.3 1325.7,120.3 1327.2,120.4 1328.7,120.4 1330.2,120.5 1331.7,120.6 1333.2,120.6 1334.7,120.7 1336.2,120.7 1337.7,120.8 1339.2,120.8 1340.7,120.9 1342.2,120.9 1343.7,121 1345.2,121 1346.7,121.1 1348.2,121.1 1349.7,121.1 1351.2,121.2 1352.7,121.2 1354.2,121.2 1355.7,121.3 1357.2,121.3 1358.7,121.3 1360.2,121.4 1361.7,121.4 1363.2,121.4 1364.7,121.5 1366.2,121.5 1367.7,121.5 1369.2,121.5 1370.7,121.5 1372.2,121.6 1373.7,121.6 1375.2,121.6 1376.7,121.6 1378.2,121.6 1379.7,121.7 1381.2,121.7 1382.7,121.7 1384.2,121.7 1385.7,121.7 1387.2,121.7 1388.7,121.8 1390.2,121.8 1391.7,121.8 1393.2,121.8 1394.7,121.8 1396.2,121.8 1397.7,121.8 1399.2,121.9 1400.7,121.9 1402.2,121.9 1403.7,121.9 1405.2,121.9 1406.7,121.9 1408.2,121.9 1409.7,121.9 1411.2,121.9 1412.7,122 1414.2,122 1415.7,122 1417.2,122 1418.7,122 1420.2,122 1421.7,122 1423.2,122 1424.7,122 1426.2,122 1427.7,122 1429.2,122 1430.7,122 1432.2,122 1433.7,122 1435.2,122 1436.7,121.9 1438.2,121.9 1439.7,121.9 1441.2,121.9 1442.7,121.8 1444.2,121.8 1445.7,121.7 1447.2,121.7 1448.7,121.7 1450.2,121.6 1451.7,121.6 1453.2,121.5 1454.7,121.4 1456.2,121.4 1457.7,121.3 1459.2,121.3 1460.7,121.2 1462.2,121.1 1463.7,121.1 1465.2,121 1466.7,120.9 1468.2,120.8 1469.7,120.7 1471.2,120.7 1472.7,120.6 1474.2,120.5 1475.6,120.4 1477.1,120.3 1478.6,120.2 1480.1,120.1 1481.6,120 1483.1,119.9 1484.6,119.8 1486.1,119.7 1487.6,119.6 1489.1,119.5 1490.6,119.4 1492.1,119.3 1493.6,119.2 1495.1,119.1 1496.6,119 1498.1,118.9 1499.6,118.8 1501.1,118.7 1502.6,118.6 1504.1,118.5 1505.6,118.4 1507.1,118.2 1508.6,118.1 1510.1,117.9 1511.5,117.7 1513,117.6 1514.5,117.4 1516,117.2 1517.5,117"/>
</g>
<g stroke="#FF4040" fill="#FF4040">
<polyline class="band" stroke-width="8.8" points="750,197.3 748.5,197.5 747,197.8 745.5,198 744.1,198.2 742.6,198.4 741.1,198.6 739.6,198.8 738.1,199 736.6,199.1 735.1,199.3 733.6,199.4 732.1,199.5 730.6,199.7 729.1,199.8 727.6,199.9 726.1,200 724.6,200.1 723.1,200.2 721.6,200.3 720.1,200.4 718.6,200.5 717.1,200.6 715.6,200.6 714.1,200.7 712.6,200.8 711.1,200.9 709.6,200.9 708.1,201 706.6,201.1 705.1,201.1 703.6,201.2 702.1,201.2 700.6,201.3 699.1,201.3 697.6,201.4 696.1,201.4 694.6,201.5 693.1,201.5 691.6,201.6 690.1,201.6 688.6,201.6 687.1,201.7 685.6,201.7 684.1,201.8 682.6,201.8 681.1,201.8 679.6,201.9 678.1,201.9 676.6,202 675,202 673.5,202 672,202 670.5,202.1 669,202.1 667.5,202.1 666,202.1 664.5,202.2 663,202.2 661.5,202.2 660,202.2 658.5,202.2 657,202.2 655.5,202.2 654,202.2 652.5,202.2 651,202.2 649.5,202.2 648,202.2 646.5,202.2 645,202.2 643.5,202.2 642,202.2 640.5,202.2 639,202.1 637.5,202.1 636,202.1 634.5,202.1 633,202.1 631.5,202.1 630,202.1 628.5,202.1 626.9,202.1 625.4,202 623.9,202 622.4,202 620.9,202 619.4,202 617.9,202 616.4,202 614.9,201.9 613.4,201.9 611.9,201.9 610.4,201.9 608.9,201.9 607.4,201.9 605.9,201.9 604.4,201.8 602.9,201.8 601.4,201.8 599.9,201.8 598.4,201.8 596.9,201.8 595.4,201.8 593.9,201.7 592.4,201.7 590.9,201.7 589.4,201.7 587.9,201.7 586.4,201.7 584.9,201.6 583.4,201.6 581.9,201.6 580.4,201.6 578.9,201.6 577.3,201.6 575.8,201.5 574.3,201.5 572.8,201.5 571.3,201.5 569.8,201.5 568.3,201.5 566.8,201.4 565.3,201.4 563.8,201.4 562.3,201.4 560.8,201.4 559.3,201.3 557.8,201.3 556.3,201.3 554.8,201.3 553.3,201.3 551.8,201.2 550.3,201.2 548.8,201.2 547.3,201.2 545.8,201.1 544.3,201.1 542.8,201.1 541.3,201.1 539.8,201 538.3,201 536.8,201 535.3,200.9 533.8,200.9 532.3,200.9 530.8,200.9 529.3,200.9 527.7,200.8 526.2,200.8 524.7,200.8 523.2,200.8 521.7,200.8 520.2,200.8 518.7,200.8"/>
<polyline class="band" stroke-width="9.2" points="518.7,200.8 517.2,200.8 515.7,200.8 514.2,200.8 512.7,200.8 511.2,200.8 509.7,200.8 508.2,200.8 506.7,200.8 505.2,200.8 503.7,200.8 502.2,200.8 500.7,200.8 499.2,200.8 497.7,200.8 496.2,200.8 494.7,200.8 493.2,200.8 491.7,200.8 490.2,200.8 488.7,200.8 487.1,200.8 485.6,200.8 484.1,200.7 482.6,200.7 481.1,200.7 479.5,200.6 478,200.6 476.5,200.5 475.1,200.5 473.6,200.5 472.2,200.5 470.8,200.8 469.4,201.3 468,201.9 466.6,202.6 465.3,203.4 463.9,204.2 462.5,204.9 461.1,205.6 459.7,206.1 458.3,206.5 456.9,206.9 455.4,207.3 453.9,207.7 452.5,208.1 451,208.5 449.6,208.9 448.2,209.4 446.8,209.9 445.3,210.4 443.9,210.9 442.5,211.3 441,211.6 439.5,212 438.1,212.3 436.6,212.7 435.2,213.1 433.7,213.5 432.3,214 430.9,214.5 429.5,215.1 428.1,215.7 426.8,216.3 425.4,217 424,217.6 422.7,218.2 421.3,218.9 420,219.6 418.7,220.3 417.3,221 416,221.7 414.7,222.4 413.3,223.1 412,223.7 410.6,224.3 409.2,224.9 407.8,225.3 406.3,225.7 404.8,226.1 403.4,226.3 401.9,226.5 400.4,226.7 398.9,226.7 397.4,226.8 395.9,226.9 394.4,226.9 392.9,227 391.4,227 389.9,227 388.4,227 386.8,227 385.3,226.9 383.8,226.8 382.3,226.8 380.8,226.7 379.3,226.5 377.8,226.4 376.4,226.3 374.9,226.2 373.4,226 371.9,225.9 370.4,225.8 368.9,225.7 367.4,225.5 365.9,225.4 364.4,225.3 362.9,225.1 361.4,225 359.9,224.9 358.4,224.9 356.9,225 355.4,225.1 353.9,225.2 352.4,225.4 350.9,225.6 349.4,225.9 347.9,226.3 346.5,226.6 345,227 343.6,227.4 342.1,227.8 340.7,228.2 339.3,228.8 337.9,229.3 336.5,229.9 335.1,230.5 333.7,231.1 332.3,231.6 331,232.2 329.6,232.8 328.2,233.4 326.8,234 325.4,234.6 324.1,235.3 322.7,235.9 321.4,236.6 320.1,237.4 318.8,238.2 317.5,239 316.3,239.8 315.1,240.7 313.9,241.7 312.8,242.6 311.6,243.6 310.4,244.5 309.2,245.4 308,246.3 306.8,247.2 305.6,248.1 304.4,249 303.2,250 302,250.9 300.8,251.8 299.7,252.7 298.5,253.7 297.4,254.7 296.2,255.7 295.1,256.7 294,257.6 292.8,258.5 291.5,259.3 290.2,260.1 288.9,260.9 287.5,261.5 286.1,262 284.6,262.3 283.2,262.7 281.7,263.1 280.3,263.6 279,264.2 277.7,265 276.5,265.9 275.2,266.8 273.9,267.4 272.4,267.9 271,268.4 269.6,269 268.3,269.6 267.1,270.5 266,271.5"/>
<polyline class="band" stroke-width="8.8" points="266,271.5 264.9,272.6 263.9,273.7 262.7,274.7"/>
<polyline class="band" stroke-width="9.2" points="262.7,274.7 261.6,275.7 260.4,276.6 259.2,277.5 257.9,278.4 256.8,279.3 255.6,280.3 254.5,281.2"/>
<polyline class="band" stroke-width="8.8" points="254.5,281.2 253.4,282.3 252.3,283.3 251.2,284.4 250.2,285.4 249.1,286.5 248,287.5 246.9,288.6 245.8,289.6"/>
<polyline class="band" stroke-width="9.2" points="245.8,289.6 244.6,290.5 243.5,291.5 242.3,292.5 241.1,293.4 239.9,294.3 238.6,295 237.2,295.6 235.8,296.2 234.4,296.6 232.9,297 231.4,297.1 229.9,297.2 228.4,297.2 226.9,297.3 225.4,297.3 223.9,297.2 222.4,296.8 221,296.4 219.5,296.2 218,296.3 216.4,296.4 214.8,296.6 213.4,296.9 212.2,297.3 211.1,298 210,299.1"/>
<polyline class="band" stroke-width="8.8" points="210,299.1 209,300.3 208.1,301.7 207.2,303.1 206.3,304.5 205.6,305.7 204.8,307 204.2,308.3 203.5,309.7"/>
<polyline class="band" stroke-width="8.4" points="203.5,309.7 202.9,311.1 202.3,312.5 201.7,313.9 201.1,315.3 200.6,316.7 200,318.1 199.4,319.5 198.8,320.8 198.2,322.2 197.6,323.6 197,325 196.4,326.4 195.9,327.8 195.3,329.2 194.8,330.6 194.2,332 193.7,333.4 193.3,334.8 192.8,336.2 192.3,337.7 191.9,339.1 191.4,340.6 191,342 190.6,343.4 190.1,344.9 189.8,346.4 189.4,347.8 189.1,349.3 188.7,350.7 188.5,352.2 188.2,353.7 188,355.2 187.7,356.6 187.5,358.1 187.3,359.6 187.1,361.1 186.9,362.6 186.7,364.1 186.6,365.6 186.4,367.1 186.2,368.6 186.1,370.1 185.9,371.6 185.8,373.1 185.7,374.6 185.6,376.1 185.4,377.6 185.3,379.1 185.2,380.6 185.1,382.1 184.9,383.6 184.8,385.1 184.7,386.6 184.5,388.1 184.3,389.6 184.1,391 183.9,392.5 183.7,394 183.5,395.5 183.3,397 183.1,398.5 183,400 182.9,401.5 182.8,403 182.7,404.5 182.6,406 182.5,407.5 182.5,409 182.4,410.5 182.4,412"/>
<polyline class="thin" points="182.4,412 181,395 180,375 179.7,355 181,335 183,311 184.5,291 186,270 188,240 190.5,212 193,192"/>
<g stroke="none"><circle cx="182.4" cy="412" r="4.5"/><circle cx="181" cy="395" r="4.5"/><circle cx="180" cy="375" r="4.5"/><circle cx="179.7" cy="355" r="4.5"/><circle cx="181" cy="335" r="4.5"/><circle cx="183" cy="311" r="4.5"/><circle cx="184.5" cy="291" r="4.5"/><circle cx="186" cy="270" r="4.5"/><circle cx="188" cy="240" r="4.5"/><circle cx="190.5" cy="212" r="4.5"/><circle cx="193" cy="192" r="4.5"/></g>
<polyline class="band" stroke-width="8.4" points="193,192 193.3,190.5 193.7,189 194.3,187.6 194.9,186.2 195.5,184.9"/>
<polyline class="band" stroke-width="8.8" points="195.5,184.9 196.3,183.7 197.3,182.5 198.4,181.4 199.5,180.5"/>
<polyline class="band" stroke-width="9.2" points="199.5,180.5 200.7,179.5 202,178.6 203.3,177.8 204.7,177.3 206.1,177.2 207.6,177.1 209.2,177 210.7,177 212.2,177.1 213.6,177.4 215.1,177.8 216.5,178.3 218,178.8 219.4,179.3 220.8,179.9 222.1,180.5 223.5,181.2 224.8,181.8 226.2,182.5 227.6,183 229,183.6 230.4,184.1 231.8,184.6 233.2,185 234.7,185.5 236.1,186 237.5,186.6 238.9,187.3 240.3,187.9 241.7,188.6 243.1,189.1 244.5,189.5 246,189.6 247.4,189.6 248.9,189.5 250.4,189.3 251.9,189.2 253.4,189 254.9,188.8 256.4,188.5 257.9,188.2 259.3,187.9 260.8,187.5 262.2,187 263.7,186.6 265.1,186.2 266.5,185.7 268,185.3 269.4,184.8 270.8,184.4 272.3,183.9 273.7,183.4 275.1,182.9 276.5,182.4 277.9,181.9 279.3,181.4 280.7,180.8 282.1,180.3 283.5,179.7 284.9,179.1 286.2,178.5 287.6,177.9 289,177.3 290.4,176.7 291.8,176 293.2,175.2 294.5,174.5 295.9,173.8 297.3,173.3 298.7,172.9 300.1,172.6 301.6,172.6 303.1,172.6 304.6,172.6 306.1,172.6 307.6,172.6 309.1,172.6 310.6,172.6 312.1,172.6 313.6,172.6 315.1,172.7 316.6,173 318,173.4 319.5,173.8 320.9,174.3 322.4,174.8 323.8,175.2 325.3,175.5 326.8,175.8 328.2,176.1 329.7,176.4 331.2,176.6 332.7,176.8 334.2,177.1 335.6,177.3 337.1,177.5 338.6,177.7 340.1,177.9 341.6,178.1 343.1,178.3 344.6,178.4 346.1,178.6 347.6,178.7 349.1,178.8 350.6,178.9 352.1,179 353.6,179 355.1,179 356.6,179.1 358.1,179.1 359.6,179.2 361.1,179.2 362.6,179.2 364.1,179.3 365.6,179.3 367.1,179.3 368.6,179.3 370.1,179.3 371.6,179.4 373.1,179.4 374.6,179.4 376.1,179.4 377.6,179.4 379.1,179.4 380.6,179.4 382.1,179.4 383.6,179.4 385.2,179.4 386.7,179.4 388.3,179.3 389.8,179.3 391.4,179.3 392.9,179.3 394.4,179.2 396,179.2 397.5,179.1 398.9,179.1 400.4,179 401.8,179 403.3,178.9 404.6,178.8 406,178.6 407.2,177.9 408.5,176.9 409.7,175.7"/>
<polyline class="band" stroke-width="8.8" points="409.7,175.7 410.9,174.5 412.1,173.4"/>
<polyline class="band" stroke-width="9.2" points="412.1,173.4 413.4,172.6 414.6,172.2 415.9,172.4 417.3,173.1 418.6,174 420,174.7 421.3,175.4 422.6,176.2 423.9,177 425.1,177.8 426.4,178.6 427.6,179.4 428.9,180.2 430.2,181 431.5,181.7 432.9,182.3 434.3,182.9 435.6,183.5 437,184.1 438.4,184.6 439.8,185.1 441.3,185.6 442.7,186.1 444.1,186.5 445.6,186.9 447,187.2 448.5,187.6 450,187.9 451.4,188.2 452.9,188.5 454.4,188.8 455.9,189.1 457.3,189.4 458.8,189.6 460.3,189.9 461.8,190.1 463.3,190.3 464.7,190.6 466.2,190.8 467.7,191 469.2,191.1 470.7,191.3 472.2,191.4 473.7,191.5 475.2,191.7 476.7,191.8 478.2,191.9 479.7,192.1 481.2,192.2 482.7,192.4 484.1,192.6 485.6,192.8 487.1,193.1 488.6,193.3 490.1,193.5 491.6,193.7 493.1,193.8 494.6,194 496.1,194.1 497.5,194.3 499,194.4 500.5,194.5 502,194.6 503.5,194.7 505,194.9 506.5,195 508,195.1 509.5,195.2 511,195.3 512.5,195.4 514,195.5 515.5,195.6 517,195.7 518.5,195.7 520,195.8"/>
<polyline class="band" stroke-width="8.8" points="520,195.8 521.5,195.9 523,196 524.5,196 526,196.1 527.5,196.1 529,196.2 530.5,196.2 532,196.3 533.5,196.3 535,196.4 536.5,196.4 538,196.4 539.5,196.5 541,196.5 542.5,196.5 544,196.5 545.5,196.6 547,196.6 548.5,196.6 550,196.6 551.5,196.6 553,196.7 554.5,196.7 556,196.7 557.5,196.7 559,196.7 560.5,196.8 562,196.8 563.5,196.8 565,196.8 566.5,196.9 568,196.9 569.5,196.9 571,196.9 572.5,197 574,197 575.5,197 577,197 578.5,197.1 580,197.1 581.5,197.1 583,197.1 584.5,197.2 586,197.2 587.5,197.2 589,197.2 590.5,197.3 592,197.3 593.5,197.3 595,197.3 596.5,197.4 598,197.4 599.5,197.4 601,197.4 602.5,197.4 604,197.5 605.5,197.5 607,197.5 608.5,197.5 610,197.5 611.5,197.6 613,197.6 614.5,197.6 616,197.6 617.5,197.6 619,197.6 620.5,197.6 622,197.6 623.5,197.7 625.1,197.7 626.6,197.7 628.1,197.7 629.6,197.7 631.1,197.7 632.6,197.7 634.1,197.7 635.6,197.7 637.1,197.7 638.6,197.7 640.1,197.7 641.6,197.7 643.1,197.7 644.6,197.7 646.1,197.7 647.6,197.6 649.1,197.6 650.6,197.6 652.1,197.6 653.6,197.6 655.1,197.5 656.6,197.5 658.1,197.5 659.6,197.5 661.1,197.4 662.6,197.4 664.1,197.4 665.6,197.4 667.1,197.3 668.6,197.3 670.1,197.3 671.6,197.2 673.1,197.2 674.6,197.2 676.1,197.1 677.6,197.1 679.1,197.1 680.6,197 682.1,197 683.6,197 685.1,196.9 686.6,196.9 688.1,196.9 689.6,196.8 691.1,196.8 692.6,196.8 694.1,196.7 695.6,196.7 697.1,196.7 698.6,196.6 700.1,196.6 701.6,196.6 703.1,196.6 704.6,196.5 706.1,196.5 707.6,196.4 709.1,196.4 710.6,196.4 712.1,196.3 713.6,196.3 715.1,196.3 716.6,196.2 718.1,196.2 719.6,196.1 721.1,196.1 722.6,196.1 724.1,196 725.6,196 727.1,196 728.6,195.9 730.1,195.9 731.6,195.8 733.1,195.8 734.6,195.8 736.1,195.7 737.6,195.7 739.1,195.7 740.6,195.6 742.1,195.6 743.6,195.5 745.1,195.5 746.6,195.5 748.1,195.5 749.6,195.4 751.1,195.4 752.6,195.4 754.1,195.3 755.6,195.3 757.1,195.3 758.6,195.3 760.1,195.2 761.6,195.2 763.1,195.2 764.6,195.2 766.1,195.2 767.6,195.1 769.1,195.1 770.6,195.1 772.1,195.1 773.6,195.1 775.1,195.1 776.6,195 778.1,195 779.6,195 781.1,195 782.6,195 784.1,195 785.6,195 787.1,194.9 788.6,194.9 790.1,194.9 791.6,194.9 793.1,194.9 794.6,194.9 796.1,194.9 797.6,194.8 799.1,194.8 800.6,194.8 802.1,194.8 803.6,194.8 805.1,194.8 806.6,194.7 808.1,194.7 809.6,194.7 811.1,194.6 812.6,194.3 814.1,193.9 815.5,193.6 817,193.4 818.5,193.3 820,193.1 821.5,193 822.9,192.9 824.4,192.8 825.9,192.6 827.4,192.5 828.9,192.4 830.4,192.3 831.9,192.3 833.4,192.2 834.9,192.1 836.4,192 837.9,191.9 839.4,191.9 840.9,191.8 842.4,191.7 843.9,191.7 845.4,191.6 846.9,191.5 848.4,191.5 849.9,191.4 851.4,191.4 852.9,191.3 854.4,191.3 855.9,191.2 857.4,191.1 858.9,191.1 860.4,191 862,191 863.5,190.9 865,190.8 866.5,190.8 868,190.7 869.5,190.6 871,190.6 872.5,190.5 874,190.4 875.5,190.3 877,190.2 878.5,190.1 880,190 881.5,189.9 883,189.8 884.5,189.7 886,189.6 887.5,189.5 889,189.3 890.4,189.2 891.9,189.1 893.4,189 894.9,188.8 896.4,188.7 897.9,188.6 899.4,188.4 900.9,188.3 902.4,188.1 903.9,188 905.4,187.8 906.9,187.6 908.4,187.5 909.9,187.3 911.4,187.1 912.8,186.9 914.3,186.7 915.9,186.5 917.4,186.2 918.9,186 920.4,185.8 921.9,185.5 923.4,185.2 924.9,184.9 926.4,184.6 927.8,184.2 929.3,183.8 930.6,183.4 932,183 933.3,182.5 934.5,181.9 935.7,181.2 936.9,180.4 938.1,179.5 939.3,178.5 940.4,177.5 941.5,176.5 942.7,175.4 943.8,174.3 944.9,173.2 946,172.1 947.2,171 948.3,169.9 949.5,168.9 950.7,168 951.9,167.1 953.1,166.2 954.4,165.4 955.6,164.6 956.9,163.7 958.1,162.9 959.4,162.1 960.7,161.3 962,160.5 963.3,159.7 964.6,159 965.9,158.2 967.2,157.5 968.5,156.8 969.8,156.1 971.2,155.4 972.5,154.8 973.8,154.1 975.2,153.5 976.6,152.9 978,152.3 979.3,151.7 980.7,151.2 982.1,150.6 983.5,150.1 984.9,149.5 986.4,149 987.8,148.5 989.2,148 990.6,147.5 992,147 993.4,146.5 994.9,146 996.3,145.6 997.7,145.1 999.1,144.6 1000.6,144.2 1002,143.7 1003.5,143.3 1004.9,142.9 1006.3,142.5 1007.8,142.1 1009.2,141.7 1010.7,141.3 1012.2,141 1013.6,140.6 1015.1,140.3 1016.5,140 1018,139.6 1019.5,139.3 1020.9,139 1022.4,138.7 1023.9,138.5 1025.4,138.2 1026.8,137.9 1028.3,137.6 1029.8,137.4 1031.3,137.1 1032.8,136.9 1034.2,136.6 1035.7,136.4 1037.2,136.1 1038.7,135.9 1040.2,135.7 1041.7,135.5 1043.1,135.3 1044.6,135 1046.1,134.8 1047.6,134.6 1049.1,134.4 1050.6,134.2 1052.1,134 1053.6,133.8 1055,133.6 1056.5,133.4 1058,133.2 1059.5,133 1061,132.9 1062.5,132.7 1064,132.5 1065.5,132.3 1067,132.1 1068.4,131.9 1069.9,131.7 1071.4,131.5 1072.9,131.3 1074.4,131 1075.8,130.7 1077.3,130.4 1078.8,130.1 1080.3,129.8 1081.7,129.5 1083.2,129.2 1084.7,128.9 1086.1,128.6 1087.6,128.3 1089.1,128 1090.5,127.7 1092,127.4 1093.5,127.1 1095,126.9 1096.5,126.6 1097.9,126.4 1099.4,126.1 1100.9,125.9 1102.4,125.6 1103.9,125.4 1105.3,125.2 1106.8,124.9 1108.3,124.7 1109.8,124.5 1111.3,124.2 1112.8,124 1114.2,123.8 1115.7,123.5 1117.2,123.3 1118.7,123.1 1120.2,122.9 1121.7,122.6 1123.1,122.4 1124.6,122.2 1126.1,121.9 1127.6,121.7 1129.1,121.5 1130.6,121.2 1132,121 1133.5,120.7 1135,120.5 1136.5,120.2 1138,120 1139.4,119.7 1140.9,119.4 1142.4,119.2 1143.9,118.9 1145.4,118.6 1146.8,118.3 1148.3,118.1 1149.8,117.8 1151.3,117.5 1152.7,117.3 1154.2,117 1155.7,116.8 1157.2,116.5 1158.7,116.3 1160.1,116.1 1161.6,115.8 1163.1,115.6 1164.6,115.4 1166.1,115.2 1167.6,115 1169.1,114.9 1170.5,114.7 1172,114.5 1173.5,114.4 1175,114.2 1176.5,114 1178,113.9 1179.5,113.7 1181,113.5 1182.5,113.4 1184,113.2 1185.5,113 1187,112.9 1188.5,112.7 1189.9,112.5 1191.4,112.4 1192.9,112.2 1194.4,112.1 1195.9,111.9 1197.4,111.8 1198.9,111.6 1200.4,111.5 1201.9,111.3 1203.4,111.2 1204.9,111 1206.4,110.9 1207.9,110.8 1209.4,110.7 1210.9,110.5 1212.4,110.4 1213.9,110.3 1215.4,110.2 1216.9,110.1 1218.4,110 1219.9,109.9 1221.4,109.9 1222.9,109.8 1224.4,109.7 1225.9,109.6 1227.4,109.6 1228.9,109.5 1230.4,109.5 1231.9,109.5 1233.4,109.4 1234.9,109.4 1236.4,109.4 1237.9,109.4 1239.4,109.4 1240.9,109.4 1242.4,109.4 1243.9,109.5 1245.4,109.5 1246.9,109.5 1248.4,109.6 1249.9,109.6 1251.4,109.7 1252.9,109.7 1254.4,109.8 1255.9,109.9 1257.4,110 1258.9,110 1260.4,110.1 1261.8,110.2 1263.3,110.3 1264.8,110.4 1266.3,110.5 1267.8,110.6 1269.3,110.7 1270.8,110.9 1272.3,111 1273.8,111.1 1275.3,111.2 1276.8,111.3 1278.3,111.5 1279.8,111.6 1281.3,111.7 1282.8,111.9 1284.3,112 1285.8,112.1 1287.3,112.2 1288.8,112.4 1290.3,112.5 1291.8,112.6 1293.3,112.8 1294.8,112.9 1296.3,113 1297.8,113.2 1299.3,113.3 1300.8,113.4 1302.3,113.5 1303.8,113.7 1305.3,113.8 1306.8,113.9 1308.3,114 1309.8,114.1 1311.3,114.3 1312.8,114.4 1314.3,114.5 1315.8,114.7 1317.3,114.8 1318.7,115 1320.2,115.1 1321.7,115.3 1323.2,115.4 1324.7,115.6 1326.2,115.7 1327.7,115.9 1329.2,116 1330.7,116.2 1332.2,116.4 1333.7,116.5 1335.2,116.7 1336.7,116.9 1338.2,117 1339.7,117.2 1341.2,117.3 1342.6,117.5 1344.1,117.6 1345.6,117.8 1347.1,117.9 1348.6,118.1 1350.1,118.2 1351.6,118.3 1353.1,118.5 1354.6,118.6 1356.1,118.7 1357.6,118.8 1359.1,118.9 1360.6,119 1362.1,119.1 1363.6,119.2 1365.1,119.3 1366.6,119.3 1368.1,119.4 1369.6,119.5 1371.1,119.5 1372.6,119.6 1374.1,119.6 1375.6,119.7 1377.1,119.7 1378.6,119.8 1380.1,119.8 1381.6,119.9 1383.1,119.9 1384.6,120 1386.1,120 1387.6,120.1 1389.1,120.1 1390.6,120.2 1392.1,120.2 1393.6,120.3 1395.1,120.3 1396.6,120.3 1398.1,120.4 1399.6,120.4 1401.1,120.5 1402.6,120.5 1404.1,120.5 1405.6,120.6 1407.1,120.6 1408.6,120.6 1410.1,120.6 1411.6,120.7 1413.1,120.7 1414.6,120.7 1416.1,120.7 1417.6,120.7 1419.1,120.8 1420.6,120.8 1422.1,120.8 1423.6,120.8 1425.1,120.8 1426.6,120.8 1428.1,120.8 1429.6,120.8 1431.1,120.8 1432.6,120.8 1434.1,120.7 1435.6,120.7 1437.1,120.7 1438.6,120.6 1440.1,120.6 1441.6,120.5 1443.1,120.5 1444.6,120.4 1446.1,120.4 1447.6,120.3 1449.1,120.2 1450.6,120.1 1452.1,120.1 1453.6,120 1455.1,119.9 1456.6,119.8 1458.1,119.7 1459.6,119.6 1461.1,119.6 1462.6,119.5 1464.1,119.4 1465.6,119.3 1467.1,119.2 1468.6,119.1 1470.1,119 1471.6,118.9 1473.1,118.8 1474.6,118.7 1476.1,118.6 1477.6,118.5 1479.1,118.3 1480.6,118.2 1482.1,118.1 1483.6,117.9 1485.1,117.8 1486.6,117.7 1488.1,117.5 1489.6,117.3 1491.1,117.2 1492.5,117 1494,116.8 1495.5,116.6 1497,116.4 1498.5,116.2 1500,116 1501.5,115.8 1502.9,115.6 1504.4,115.3 1505.9,115.1 1507.3,114.8 1508.8,114.4 1510.3,114.1 1511.7,113.7 1513.2,113.3 1514.6,112.9 1516.1,112.4 1517.5,112"/>
</g>
<g stroke="#804080" fill="#804080">
<polyline class="band" stroke-width="8.4" points="215.5,66.5 216.2,64.9"/>
<polyline class="band" stroke-width="8.8" points="216.2,64.9 217.2,63.8"/>
<polyline class="band" stroke-width="9.2" points="217.2,63.8 218.5,63.1 220,62.8 221.5,63.4 222.5,64.5"/>
<polyline class="band" stroke-width="8.8" points="222.5,64.5 223.2,65.8"/>
<polyline class="band" stroke-width="8.4" points="223.2,65.8 223.6,67.5"/>
<polyline class="band" stroke-width="8.8" points="750,197.5 748.5,197.7 747,198 745.5,198.2 744.1,198.4 742.6,198.6 741.1,198.8 739.6,199 738.1,199.2 736.6,199.3 735.1,199.5 733.6,199.6 732.1,199.7 730.6,199.9 729.1,200 727.6,200.1 726.1,200.2 724.6,200.3 723.1,200.4 721.6,200.5 720.1,200.6 718.6,200.7 717.1,200.8 715.6,200.8 714.1,200.9 712.6,201 711.1,201.1 709.6,201.1 708.1,201.2 706.6,201.3 705.1,201.3 703.6,201.4 702.1,201.4 700.6,201.5 699.1,201.5 697.6,201.6 696.1,201.6 694.6,201.7 693.1,201.7 691.6,201.8 690.1,201.8 688.6,201.8 687.1,201.9 685.6,201.9 684.1,202 682.6,202 681.1,202 679.6,202.1 678.1,202.1 676.6,202.1 675.1,202.2 673.6,202.2 672.1,202.2 670.6,202.3 669.1,202.3 667.6,202.3 666.1,202.3 664.6,202.4 663.1,202.4 661.6,202.4 660.1,202.4 658.6,202.4 657.1,202.4 655.6,202.4 654.1,202.4 652.6,202.4 651.1,202.4 649.6,202.4 648.1,202.4 646.6,202.4 645.1,202.4 643.6,202.4 642.1,202.4 640.6,202.4 639.1,202.3 637.6,202.3 636.1,202.3 634.6,202.3 633.1,202.3 631.6,202.3 630.1,202.3 628.6,202.3 627.1,202.3 625.6,202.2 624.1,202.2 622.5,202.2 621,202.2 619.5,202.2 618,202.2 616.5,202.2 615,202.1 613.5,202.1 612,202.1 610.5,202.1 609,202.1 607.5,202.1 606,202.1 604.5,202 603,202 601.5,202 600,202 598.5,202 597,202 595.5,202 594,201.9 592.5,201.9 591,201.9 589.5,201.9 588,201.9 586.5,201.9 585,201.8 583.5,201.8 582,201.8 580.5,201.8 579,201.8 577.5,201.8 576,201.7 574.5,201.7 573,201.7 571.5,201.7 570,201.7 568.5,201.7 567,201.6 565.5,201.6 564,201.6 562.5,201.6 561,201.6 559.5,201.5 558,201.5 556.5,201.5 555,201.5 553.5,201.5 552,201.4 550.5,201.4 549,201.4 547.5,201.4 546,201.3 544.5,201.3 543,201.3 541.5,201.3 540,201.2 538.5,201.2 537,201.2 535.4,201.1 533.9,201.1 532.4,201.1 530.9,201.1 529.4,201.1 527.9,201 526.4,201 524.9,201 523.4,201 521.9,201 520.4,201 518.9,201"/>
<polyline class="band" stroke-width="9.2" points="518.9,201 517.4,201 515.9,201 514.4,201 512.9,201 511.4,201 509.9,201 508.4,201 506.9,201 505.4,201 503.9,201 502.4,201 500.9,201 499.4,201 497.9,201 496.4,201 494.9,201 493.4,201 491.9,201 490.4,201 488.9,201 487.4,201 485.9,201.1 484.4,201.1 482.9,201.1 481.3,201.1 479.9,201.2 478.5,201.5 477.3,202.2 476,203.1 474.8,204.2 473.6,205.3 472.4,206.3 471.1,207.2 469.8,207.7 468.3,208 466.8,208.2 465.3,208.4 463.8,208.7 462.4,209.2 461.1,209.7 459.7,210.4 458.4,211.1 457,211.8 455.7,212.5 454.3,213.2 453,213.8 451.6,214.5 450.3,215.2 448.9,215.8 447.6,216.5 446.3,217.2 444.9,217.9 443.6,218.6 442.2,219.3 440.9,220.1 439.6,221 438.3,221.9 437,222.8 435.6,223.5 434.3,224.1 432.9,224.5 431.5,224.6 430.1,224.6 428.6,224.6 427.1,224.6 425.6,224.6 424.1,224.6 422.5,224.6 421,224.6 419.5,224.6 418,224.6 416.5,224.8 415,225.1 413.6,225.5 412.1,225.7 410.6,226 409.1,226 407.6,226.1 406.1,226.2 404.6,226.2 403.1,226.3 401.6,226.3 400.1,226.3 398.6,226.3 397.1,226.3 395.6,226.2 394.1,226.2 392.6,226.1 391.1,226 389.6,226 388.1,225.9 386.6,225.8 385.1,225.7 383.6,225.6 382.1,225.6 380.6,225.5 379.1,225.5 377.6,225.4 376.1,225.4 374.6,225.3 373.1,225.2 371.6,225.2 370.1,225.1 368.6,225.1 367.1,225.1 365.6,225 364.1,225 362.6,225 361.1,225 359.6,225.1 358.1,225.2 356.6,225.3 355.1,225.5 353.6,225.7 352,225.9 350.5,226.3 349.1,226.6 347.7,227.1 346.4,227.7 345.2,228.5 344,229.4 342.9,230.4 341.7,231.5"/>
<polyline class="band" stroke-width="8.8" points="341.7,231.5 340.6,232.5"/>
<polyline class="band" stroke-width="9.2" points="340.6,232.5 339.4,233.5 338.3,234.5 337.1,235.5 336,236.5 334.9,237.5 333.8,238.5"/>
<polyline class="band" stroke-width="8.8" points="333.8,238.5 332.7,239.5 331.6,240.6 330.5,241.6 329.5,242.7 328.4,243.8 327.4,244.9 326.5,246.1 325.6,247.6 324.8,248.9 323.8,250"/>
<polyline class="band" stroke-width="9.2" points="323.8,250 322.7,250.6 321.4,251 319.9,251.3 318.3,251.6 316.7,251.7 315.2,251.7 313.7,251.7 312.2,251.7 310.7,251.7 309.2,251.7 307.7,251.7 306.3,251.6 304.8,251.3 303.3,251 301.9,250.5 300.4,250.1 299,249.6 297.5,249.1 296.1,248.7 294.6,248.4 293.1,248.1 291.6,247.8 290.1,247.5 288.7,247.2 287.2,247 285.7,246.8 284.2,246.6 282.7,246.5 281.3,246.5 279.8,246.7 278.4,247 276.9,247.5 275.5,248 274,248.5 272.6,249.1 271.2,249.6 269.7,250.1 268.3,250.6 266.9,251.1 265.5,251.6 264,252 262.6,252.4 261.1,252.8 259.7,253.2 258.2,253.6 256.7,253.9 255.2,254 253.8,253.9 252.3,253.7 250.8,253.4 249.3,253.1 247.8,252.8 246.4,252.5 244.9,252.1 243.4,251.7 241.9,251.4 240.5,251.2 239,251.2 237.5,251.3 236,251.5 234.5,251.7 233,252 231.6,252.3 230.2,252.9 229,253.8 227.7,254.6 226.3,255.3 224.9,255.8 223.4,256.3 222,256.9 220.8,257.6 219.7,258.6"/>
<polyline class="band" stroke-width="8.8" points="219.7,258.6 218.6,259.7 217.6,260.9 216.8,262.1 216,263.4 215.3,264.7 214.6,266.1"/>
<polyline class="band" stroke-width="8.4" points="214.6,266.1 214,267.5 213.5,268.9 213,270.3 212.6,271.8 212.2,273.2 211.8,274.6 211.5,276.1 211.2,277.6 211,279.1 210.7,280.6 210.5,282 210.2,283.5 210,285 209.8,286.5 209.6,288 209.3,289.5 209.1,291 209,292.5 208.8,293.9 208.6,295.4 208.4,296.9 208.2,298.4 208,299.9 207.8,301.4 207.6,302.9 207.4,304.4 207.2,305.9 207,307.4 206.8,308.8 206.7,310.3 206.5,311.8 206.4,313.3 206.2,314.8 206.1,316.3 206,317.8 205.9,319.3 205.8,320.8 205.7,322.3 205.5,323.8 205.4,325.3 205.2,326.8 204.9,328.3 204.7,329.8 204.5,331.2 204.2,332.7 204,334.2 203.7,335.7 203.5,337.2 203.3,338.7 203,340.1 202.8,341.6 202.5,343.1 202.2,344.6 202,346 201.7,347.5 201.4,349"/>
<polyline class="thin" points="201.4,349 200.7,358 200.2,367.6 199.9,380 199.1,392.2 197.3,402 197.9,416.3 196,426.2 195.4,435 194.8,443 193.3,450 191.4,462.6 191,472 190.8,481 191,490 191.4,500 191.5,510 191.5,520 192,531 191.5,542 191.5,552 191.8,563 191.5,574 191.2,586 188.8,602.5 189.4,617.5 187.5,630 188,637.5 187.5,658.8 186.9,672.5 186.2,698.8 185,726.9 185,739.4 185,775.6 183.1,782.5 183.5,820.6 183.5,862.5"/>
<g stroke="none"><circle cx="201.4" cy="349" r="4.5"/><circle cx="200.7" cy="358" r="4.5"/><circle cx="200.2" cy="367.6" r="4.5"/><circle cx="199.9" cy="380" r="4.5"/><circle cx="199.1" cy="392.2" r="4.5"/><circle cx="197.3" cy="402" r="4.5"/><circle cx="197.9" cy="416.3" r="4.5"/><circle cx="196" cy="426.2" r="4.5"/><circle cx="195.4" cy="435" r="4.5"/><circle cx="194.8" cy="443" r="4.5"/><circle cx="193.3" cy="450" r="4.5"/><circle cx="191.4" cy="462.6" r="4.5"/><circle cx="191" cy="472" r="4.5"/><circle cx="190.8" cy="481" r="4.5"/><circle cx="191" cy="490" r="4.5"/><circle cx="191.4" cy="500" r="4.5"/><circle cx="191.5" cy="510" r="4.5"/><circle cx="191.5" cy="520" r="4.5"/><circle cx="192" cy="531" r="4.5"/><circle cx="191.5" cy="542" r="4.5"/><circle cx="191.5" cy="552" r="4.5"/><circle cx="191.8" cy="563" r="4.5"/><circle cx="191.5" cy="574" r="4.5"/><circle cx="191.2" cy="586" r="4.5"/><circle cx="188.8" cy="602.5" r="4.5"/><circle cx="189.4" cy="617.5" r="4.5"/><circle cx="187.5" cy="630" r="4.5"/><circle cx="188" cy="637.5" r="4.5"/><circle cx="187.5" cy="658.8" r="4.5"/><circle cx="186.9" cy="672.5" r="4.5"/><circle cx="186.2" cy="698.8" r="4.5"/><circle cx="185" cy="726.9" r="4.5"/><circle cx="185" cy="739.4" r="4.5"/><circle cx="185" cy="775.6" r="4.5"/><circle cx="183.1" cy="782.5" r="4.5"/><circle cx="183.5" cy="820.6" r="4.5"/><circle cx="183.5" cy="862.5" r="4.5"/></g>
<polyline class="thin" points="183.5,862.5 183.9,820.6 184.6,782.5 185.3,739.4 185.6,726.9 186.5,698.8 187.1,672.5 187.7,650 188.4,617.5 188.8,600 188.8,550 189.8,500 191,450 192.5,400 194,350 195.5,300 197.5,250 199.5,210 201.6,175 203.4,150 204.8,135 206,126"/>
<g stroke="none"><circle cx="183.5" cy="862.5" r="4.5"/><circle cx="183.9" cy="820.6" r="4.5"/><circle cx="184.6" cy="782.5" r="4.5"/><circle cx="185.3" cy="739.4" r="4.5"/><circle cx="185.6" cy="726.9" r="4.5"/><circle cx="186.5" cy="698.8" r="4.5"/><circle cx="187.1" cy="672.5" r="4.5"/><circle cx="187.7" cy="650" r="4.5"/><circle cx="188.4" cy="617.5" r="4.5"/><circle cx="188.8" cy="600" r="4.5"/><circle cx="188.8" cy="550" r="4.5"/><circle cx="189.8" cy="500" r="4.5"/><circle cx="191" cy="450" r="4.5"/><circle cx="192.5" cy="400" r="4.5"/><circle cx="194" cy="350" r="4.5"/><circle cx="195.5" cy="300" r="4.5"/><circle cx="197.5" cy="250" r="4.5"/><circle cx="199.5" cy="210" r="4.5"/><circle cx="201.6" cy="175" r="4.5"/><circle cx="203.4" cy="150" r="4.5"/><circle cx="204.8" cy="135" r="4.5"/><circle cx="206" cy="126" r="4.5"/></g>
<polyline class="band" stroke-width="8.4" points="206,126 206.2,124.5 206.4,123 206.6,121.5 206.8,120 206.9,118.5 207.1,117 207.2,115.5 207.2,114 207.2,112.5 207.2,111 207.2,109.5 207.2,108 207.2,106.5 207.2,105 207.2,103.5 207.2,102 207.2,100.5 207.2,99 207.3,97.5 207.5,96 207.7,94.5 207.8,93 207.9,91.6 207.9,90 207.8,88.5 207.6,87 207.5,85.5 207.4,84 207.3,82.6 207.5,81.1 208.2,79.7"/>
<polyline class="band" stroke-width="8.8" points="208.2,79.7 209,78.4 209.6,77"/>
<polyline class="band" stroke-width="8.4" points="209.6,77 209.8,75.6 209.7,74.1 209.5,72.5 209.4,71 209.3,69.6 209.6,68.1 210.1,66.6 210.8,65.2"/>
<polyline class="band" stroke-width="8.8" points="210.8,65.2 211.7,64 212.5,62.8 213.7,61.8"/>
<polyline class="band" stroke-width="9.2" points="213.7,61.8 215,60.9 216.4,60.4 217.9,60 219.4,59.8 220.7,60 221.9,61"/>
<polyline class="band" stroke-width="8.8" points="221.9,61 222.9,62.4 223.5,63.6"/>
<polyline class="band" stroke-width="8.4" points="223.5,63.6 224.1,65 224.5,66.4 224.9,68 225.3,69.4 225.7,70.9 226.1,72.3 226.6,73.8 227,75.2 227.4,76.7 227.8,78.1 228.1,79.6 228.5,81 228.8,82.5 229.1,84 229.3,85.5 229.6,86.9 229.8,88.4 230.1,89.9 230.3,91.4 230.5,92.9 230.8,94.4 231,95.8 231.2,97.3 231.5,98.8 231.7,100.3 231.9,101.8 232.1,103.3 232.4,104.7 232.6,106.2 232.8,107.7 233,109.2 233.2,110.7 233.5,112.2 233.7,113.7 233.9,115.2 234.1,116.6 234.3,118.1 234.5,119.6 234.7,121.1 235,122.6 235.2,124 235.6,125.5 235.9,127 236.3,128.4 236.7,129.9 237.1,131.3 237.5,132.8 237.9,134.2 238.2,135.7 238.6,137.2 238.9,138.6 239.2,140.1 239.6,141.6 239.9,143 240.3,144.5 240.7,145.9 241.1,147.4 241.6,148.8 242.1,150.2 242.7,151.7 243.4,153.1"/>
<polyline class="band" stroke-width="8.8" points="243.4,153.1 244.1,154.4 244.9,155.7 245.7,156.8 246.7,157.8 247.9,158.8"/>
<polyline class="band" stroke-width="9.2" points="247.9,158.8 249.2,159.7 250.6,160.5 252,161 253.3,161.3 254.8,161.6 256.3,161.9 257.8,162.1 259.3,162.3 260.9,162.4 262.4,162.5 263.9,162.5 265.4,162.6 266.9,162.6 268.4,162.7 269.9,162.7 271.4,162.8 272.9,162.8 274.4,162.8 275.9,162.8 277.3,162.7 278.8,162.4 280.2,162 281.6,161.4 283,160.8 284.4,160.1 285.8,159.4 287.1,158.7 288.5,158 289.9,157.4 291.2,156.8 292.6,156.2 293.9,155.5 295.3,154.8 296.6,154.1 298,153.4 299.3,152.7 300.6,152 301.9,151.3 303.2,150.4 304.5,149.6 305.8,148.7 307.1,147.8 308.3,146.9 309.6,146.2 311,145.6 312.3,145.1 313.7,144.8 315.2,144.6 316.7,144.3 318.2,144.2 319.7,144 321.2,143.9 322.7,143.9 324.2,143.9 325.8,144 327.3,144.1 328.7,144.2 330,144.5 331.3,145.1 332.6,146 333.8,147 335,148.1 336.2,149.1 337.4,150.1 338.7,150.8 340,151.6 341.4,152.3 342.7,153 344,153.7 345.4,154.3 346.7,155 348.1,155.6 349.5,156.2 350.8,156.8 352.2,157.5 353.6,158.2 355,158.8 356.4,159.5 357.8,160.1 359.2,160.6 360.6,161 362,161.3 363.5,161.5 364.9,161.6 366.4,161.7 367.9,161.8 369.4,161.9 370.9,162 372.4,162.1 374,162.2 375.5,162.2 377,162.3 378.5,162.3 380,162.3 381.5,162.2 383,162 384.4,161.7 385.9,161.4 387.4,161 388.9,160.7 390.4,160.3 391.8,160 393.3,159.9 394.8,159.8 396.3,159.9 397.8,160 399.3,160.1 400.8,160.4 402.3,160.6 403.8,160.9 405.3,161.1 406.8,161.4 408.3,161.6 409.7,161.8 411.2,161.9 412.7,162 414.2,162 415.6,161.7 417.1,161.3 418.5,160.8 419.9,160.2 421.4,159.6 422.8,159 424.2,158.5 425.7,158 427.1,157.7 428.6,157.6 430.1,157.6 431.6,157.8 433.2,157.9 434.7,158.2 436.2,158.5 437.6,158.8 438.9,159.2 440.1,160 441.2,161"/>
<polyline class="band" stroke-width="8.8" points="441.2,161 442.4,162.1 443.5,163.2 444.6,164.3"/>
<polyline class="band" stroke-width="9.2" points="444.6,164.3 445.7,165.2 446.9,166.3"/>
<polyline class="band" stroke-width="8.8" points="446.9,166.3 448,167.3 449.1,168.3 450.2,169.3 451.3,170.3 452.4,171.4 453.5,172.4 454.6,173.4"/>
<polyline class="band" stroke-width="9.2" points="454.6,173.4 455.7,174.4 456.9,175.3 458.1,176.2 459.4,177 460.6,177.9 461.9,178.6 463.3,179.3 464.6,179.9 466,180.4 467.5,180.9 468.9,181.4 470.3,181.9 471.8,182.3 473.2,182.7 474.6,183.1 476.1,183.5 477.6,183.9 479,184.2 480.5,184.5 482,184.8 483.4,185.1 484.9,185.4 486.4,185.6 487.9,185.9 489.4,186.1 490.8,186.3 492.3,186.5 493.8,186.7 495.3,186.9 496.8,187.1 498.3,187.3 499.8,187.5 501.3,187.7 502.8,187.9 504.2,188 505.7,188.2 507.2,188.4 508.7,188.5 510.2,188.7 511.7,188.8 513.2,189 514.7,189.1 516.2,189.3 517.7,189.4 519.2,189.5 520.7,189.7"/>
<polyline class="band" stroke-width="8.8" points="520.7,189.7 522.2,189.8 523.7,189.9 525.2,190.1 526.7,190.2 528.2,190.3 529.7,190.4 531.2,190.5 532.7,190.6 534.2,190.7 535.7,190.8 537.2,190.9 538.7,191 540.2,191.1 541.7,191.2 543.1,191.3 544.6,191.4 546.1,191.5 547.6,191.6 549.1,191.7 550.6,191.8 552.1,191.9 553.6,192 555.1,192 556.6,192.1 558.1,192.2 559.6,192.3 561.1,192.4 562.6,192.4 564.1,192.5 565.6,192.6 567.1,192.6 568.6,192.7 570.1,192.7 571.6,192.8 573.1,192.8 574.6,192.9 576.2,192.9 577.7,193 579.2,193 580.7,193 582.2,193 583.7,193.1 585.2,193.1 586.7,193.1 588.2,193.1 589.7,193.1 591.2,193.2 592.7,193.2 594.2,193.2 595.7,193.2 597.2,193.2 598.7,193.3 600.2,193.3 601.7,193.3 603.2,193.3 604.7,193.3 606.2,193.4 607.7,193.4 609.2,193.4 610.7,193.4 612.2,193.4 613.7,193.4 615.2,193.4 616.7,193.5 618.2,193.5 619.7,193.5 621.2,193.5 622.7,193.5 624.2,193.5 625.7,193.5 627.2,193.6 628.7,193.6 630.2,193.6 631.7,193.6 633.2,193.6 634.7,193.6 636.2,193.6 637.7,193.6 639.2,193.7 640.7,193.7 642.2,193.7 643.7,193.7 645.2,193.7 646.7,193.7 648.2,193.7 649.7,193.7 651.2,193.7 652.7,193.7 654.2,193.8 655.7,193.8 657.2,193.8 658.7,193.8 660.2,193.8 661.7,193.8 663.2,193.8 664.7,193.8 666.2,193.8 667.7,193.8 669.2,193.8 670.7,193.8 672.2,193.9 673.7,193.9 675.2,193.9 676.7,193.9 678.2,193.9 679.7,193.9 681.2,193.9 682.7,193.9 684.3,193.9 685.8,193.9 687.3,193.9 688.8,193.9 690.3,193.9 691.8,194 693.3,194 694.8,194 696.3,194 697.8,194 699.3,194 700.8,194 702.3,194 703.8,194 705.3,194 706.8,194 708.3,194 709.8,194.1 711.3,194.1 712.8,194.1 714.3,194.1 715.8,194.1 717.3,194.1 718.8,194.1 720.3,194.1 721.8,194.1 723.3,194.1 724.8,194.1 726.3,194.1 727.8,194.1 729.3,194.2 730.8,194.2 732.3,194.2 733.8,194.2 735.3,194.2 736.8,194.2 738.3,194.2 739.8,194.2 741.3,194.2 742.8,194.2 744.3,194.2 745.8,194.2 747.3,194.2 748.8,194.3 750.3,194.3 751.8,194.3 753.3,194.3 754.8,194.3 756.3,194.3 757.8,194.3 759.3,194.3 760.8,194.3 762.3,194.3 763.8,194.3 765.3,194.3 766.8,194.3 768.3,194.3 769.9,194.4 771.4,194.4 772.9,194.4 774.4,194.4 775.9,194.4 777.4,194.4 778.9,194.4 780.4,194.4 781.9,194.4 783.4,194.4 784.9,194.4 786.4,194.4 787.9,194.4 789.4,194.4 790.9,194.4 792.4,194.4 793.9,194.4 795.4,194.4 796.9,194.4 798.4,194.5 799.9,194.5 801.4,194.5 802.9,194.5 804.4,194.5 805.9,194.5 807.4,194.5 808.9,194.5 810.4,194.5 811.9,194.5 813.4,194.5 814.9,194.5 816.4,194.5 817.9,194.5 819.4,194.5 820.9,194.5 822.4,194.5 823.9,194.5 825.4,194.5 826.9,194.5 828.4,194.5 829.9,194.5 831.4,194.5 832.9,194.5 834.4,194.5 835.9,194.5 837.4,194.5 838.9,194.4 840.4,194.4 841.9,194.3 843.4,194.3 844.9,194.2 846.4,194.2 847.9,194.1 849.4,194.1 850.9,194 852.4,193.9 853.9,193.8 855.4,193.7 856.9,193.6 858.4,193.6 859.9,193.5 861.4,193.4 862.9,193.3 864.4,193.2 865.9,193.1 867.4,192.9 868.9,192.8 870.4,192.7 871.9,192.6 873.4,192.5 874.9,192.4 876.4,192.3 877.9,192.2 879.4,192 880.9,191.9 882.4,191.8 883.9,191.7 885.4,191.5 886.9,191.4 888.4,191.2 889.8,191.1 891.3,190.9 892.8,190.7 894.3,190.6 895.8,190.4 897.3,190.2 898.8,190 900.3,189.8 901.8,189.6 903.3,189.4 904.8,189.1 906.2,188.9 907.7,188.7 909.2,188.4 910.7,188.2 912.2,188 913.7,187.7 915.2,187.5 916.7,187.2 918.2,187 919.7,186.7 921.2,186.4 922.7,186.1 924.2,185.8 925.7,185.4 927.1,185.1 928.6,184.7 930,184.3 931.3,183.8 932.6,183.4 933.9,182.8 935.1,182.1 936.3,181.3 937.5,180.5 938.7,179.5 939.8,178.6 941,177.5 942.1,176.5 943.2,175.4 944.4,174.3 945.5,173.2 946.6,172.1 947.8,171 948.9,170 950.1,169 951.3,168.1 952.5,167.3 953.7,166.4 955,165.6 956.2,164.7 957.5,163.9 958.8,163.1 960,162.3 961.3,161.5 962.6,160.7 963.9,159.9 965.2,159.2 966.5,158.4 967.9,157.7 969.2,157 970.5,156.3 971.8,155.7 973.2,155 974.5,154.4 975.9,153.8 977.3,153.2 978.7,152.6 980.1,152 981.5,151.5 982.9,150.9 984.3,150.4 985.7,149.9 987.1,149.3 988.5,148.8 989.9,148.3 991.3,147.8 992.8,147.3 994.2,146.8 995.6,146.4 997,145.9 998.5,145.4 999.9,144.9 1001.3,144.4 1002.8,144 1004.2,143.5 1005.6,143.1 1007.1,142.7 1008.5,142.3 1010,142 1011.5,141.7 1012.9,141.4 1014.4,141.2 1015.9,140.9 1017.3,140.6 1018.8,140.4 1020.3,140.1 1021.8,139.9 1023.3,139.7 1024.8,139.5 1026.3,139.3 1027.8,139.2 1029.3,139.1 1030.8,139 1032.3,139 1033.8,139 1035.3,139 1036.8,139 1038.3,139 1039.8,139 1041.3,139 1042.8,139 1044.3,139 1045.8,139 1047.3,139 1048.8,139 1050.3,139 1051.8,139 1053.3,139 1054.8,139 1056.3,139 1057.8,139 1059.3,139 1060.8,139.1 1062.3,139.1 1063.8,139.1 1065.3,139.1 1066.8,139.2 1068.3,139.2 1069.8,139.2 1071.3,139.2 1072.8,139.3 1074.3,139.3 1075.8,139.3 1077.3,139.3 1078.8,139.4 1080.3,139.4 1081.8,139.4 1083.3,139.4 1084.8,139.5 1086.3,139.5 1087.8,139.5 1089.3,139.5 1090.8,139.5 1092.4,139.5 1093.9,139.5 1095.4,139.5 1096.9,139.4 1098.4,139.4 1099.9,139.4 1101.4,139.3 1102.9,139.3 1104.4,139.2 1105.9,139.1 1107.4,139.1 1108.9,139 1110.4,138.9 1111.9,138.8 1113.4,138.8 1114.9,138.7 1116.4,138.6 1117.9,138.5 1119.4,138.5 1120.9,138.4 1122.4,138.3 1123.9,138.2 1125.4,138.2 1126.9,138.1 1128.4,138.1 1129.9,138 1131.4,138 1132.9,138 1134.4,138 1135.9,137.9 1137.4,137.9 1138.9,137.9 1140.4,137.9 1141.9,137.9 1143.4,137.9 1144.9,137.8 1146.4,137.8 1147.9,137.8 1149.4,137.8 1150.9,137.8 1152.4,137.8 1153.9,137.8 1155.4,137.8 1156.9,137.7 1158.4,137.7 1159.9,137.7 1161.4,137.7 1162.9,137.7 1164.4,137.7 1165.9,137.6 1167.4,137.6 1168.9,137.6 1170.4,137.6 1171.9,137.5 1173.4,137.5 1174.9,137.4 1176.4,137.4 1177.9,137.4 1179.4,137.3 1180.9,137.3 1182.4,137.2 1183.9,137.1 1185.4,137.1 1186.9,137 1188.4,137 1189.9,136.9 1191.4,136.8 1192.9,136.8 1194.4,136.7 1195.9,136.6 1197.4,136.5 1198.9,136.5 1200.4,136.4 1201.9,136.3 1203.4,136.2 1204.9,136.1 1206.4,136.1 1207.9,136 1209.4,135.9 1210.9,135.8 1212.4,135.7 1213.9,135.6 1215.4,135.6 1216.9,135.5 1218.4,135.4 1219.9,135.3 1221.4,135.2 1222.9,135.2 1224.4,135.1 1225.9,135 1227.4,134.9 1228.9,134.8 1230.4,134.8 1231.9,134.7 1233.4,134.6 1234.9,134.5 1236.4,134.5 1237.9,134.4 1239.4,134.3 1240.9,134.3 1242.4,134.2 1243.9,134.2 1245.4,134.1 1246.9,134 1248.4,134 1249.9,133.9 1251.4,133.9 1252.9,133.8 1254.4,133.7 1255.9,133.7 1257.4,133.6 1258.9,133.5 1260.4,133.5 1261.9,133.4 1263.4,133.3 1264.9,133.3 1266.4,133.2 1267.9,133.1 1269.4,133 1270.9,132.9 1272.4,132.8 1273.9,132.7 1275.4,132.6 1276.9,132.4 1278.4,132.3 1279.9,132.1 1281.4,132 1282.9,131.9 1284.4,131.7 1285.9,131.6 1287.4,131.6 1288.9,131.5 1290.4,131.5 1291.9,131.5 1293.4,131.5 1294.9,131.5 1296.4,131.5 1297.9,131.5 1299.4,131.5 1300.9,131.5 1302.4,131.5 1303.9,131.5 1305.4,131.5 1306.9,131.5 1308.4,131.5 1309.9,131.4 1311.4,131.4 1312.9,131.4 1314.4,131.4 1315.9,131.4 1317.4,131.4 1318.9,131.4 1320.4,131.4 1321.9,131.4 1323.4,131.4 1324.9,131.4 1326.4,131.4 1327.9,131.4 1329.4,131.4 1330.9,131.4 1332.4,131.4 1333.9,131.4 1335.4,131.4 1336.9,131.4 1338.4,131.4 1339.9,131.4 1341.4,131.4 1342.9,131.4 1344.4,131.4 1345.9,131.4 1347.4,131.4 1348.9,131.4 1350.4,131.4 1351.9,131.4 1353.4,131.4 1354.9,131.4 1356.4,131.4 1357.9,131.4 1359.4,131.4 1360.9,131.4 1362.4,131.4 1363.9,131.4 1365.4,131.4 1366.9,131.4 1368.4,131.4 1369.9,131.4 1371.4,131.4 1372.9,131.4 1374.4,131.4 1375.9,131.4 1377.4,131.4 1378.9,131.4 1380.5,131.4 1382,131.4 1383.5,131.4 1385,131.4 1386.5,131.4 1388,131.4 1389.5,131.4 1391,131.4 1392.5,131.4 1394,131.4 1395.5,131.4 1397,131.4 1398.5,131.4 1400,131.4 1401.5,131.4 1403,131.4 1404.5,131.4 1406,131.4 1407.5,131.4 1409,131.4 1410.5,131.4 1412,131.4 1413.5,131.4 1415,131.4 1416.5,131.4 1418,131.4 1419.5,131.4 1421,131.4 1422.5,131.4 1424,131.4 1425.5,131.4 1427,131.4 1428.5,131.4 1430,131.4 1431.5,131.4 1433,131.4 1434.5,131.4 1436,131.3 1437.5,131.3 1439,131.3 1440.6,131.2 1442.1,131.2 1443.6,131.2 1445.1,131.1 1446.6,131.1 1448.1,131 1449.6,131 1451.2,130.9 1452.7,130.8 1454.2,130.8 1455.7,130.7 1457.2,130.6 1458.7,130.5 1460.3,130.4 1461.8,130.3 1463.3,130.2 1464.8,130.1 1466.3,130 1467.8,129.9 1469.3,129.8 1470.8,129.7 1472.3,129.6 1473.8,129.4 1475.4,129.3 1476.9,129.2 1478.4,129 1479.8,128.9 1481.3,128.7 1482.8,128.6 1484.3,128.4 1485.8,128.3 1487.3,128.1 1488.8,128 1490.3,127.8 1491.7,127.6 1493.2,127.4 1494.7,127.3 1496.1,127.1 1497.6,126.9 1499.1,126.7 1500.5,126.5 1502,126.3 1503.4,126.1 1504.8,125.9 1506.3,125.5 1507.7,125.1 1509.1,124.6 1510.5,124.1 1511.9,123.5 1513.3,122.9 1514.7,122.2 1516.1,121.6 1517.5,121"/>
</g>
<g stroke="#00C000" fill="#00C000">
<polyline class="band" stroke-width="9.2" points="308,158.5 309.5,158.3 311,158.1 312.5,158 314,158 315.5,158.1 317.1,158.2 318.6,158.3 320.1,158.5 321.6,158.7 323,158.9 324.5,159.3 325.9,159.8 327.3,160.4 328.7,161.1 330.1,161.6 331.5,162.2 332.9,162.8 334.3,163.3 335.8,163.9 337.2,164.4 338.6,164.8 340.1,165.2 341.5,165.6 343,165.9 344.5,166.2 346,166.5"/>
<polyline class="band" stroke-width="8.4" points="211.8,98.5 212.2,96.9 212.8,95.5"/>
<polyline class="band" stroke-width="8.8" points="212.8,95.5 213.6,94.3 214.8,93.2"/>
<polyline class="band" stroke-width="9.2" points="214.8,93.2 216,93.3 217.2,94.4"/>
<polyline class="band" stroke-width="8.8" points="217.2,94.4 218.1,95.6 218.8,96.9"/>
<polyline class="band" stroke-width="8.4" points="218.8,96.9 219.2,98.5"/>
<polyline class="band" stroke-width="8.8" points="750,197.2 748.5,197.4 747,197.7 745.6,197.9 744.1,198.1 742.6,198.3 741.1,198.5 739.6,198.7 738.1,198.9 736.6,199 735.1,199.2 733.6,199.3 732.1,199.4 730.6,199.6 729.1,199.7 727.7,199.8 726.2,199.9 724.7,200 723.2,200.1 721.7,200.2 720.2,200.3 718.7,200.4 717.2,200.5 715.7,200.5 714.2,200.6 712.7,200.7 711.2,200.8 709.7,200.8 708.2,200.9 706.7,201 705.2,201 703.7,201.1 702.2,201.1 700.7,201.2 699.2,201.2 697.7,201.3 696.2,201.3 694.7,201.4 693.2,201.4 691.7,201.5 690.2,201.5 688.7,201.5 687.2,201.6 685.7,201.6 684.2,201.7 682.7,201.7 681.2,201.7 679.7,201.8 678.2,201.8 676.7,201.8 675.2,201.9 673.7,201.9 672.2,201.9 670.7,202 669.2,202 667.7,202 666.2,202 664.7,202.1 663.2,202.1 661.7,202.1 660.2,202.1 658.7,202.1 657.2,202.1 655.7,202.1 654.2,202.1 652.7,202.1 651.2,202.1 649.7,202.1 648.2,202.1 646.7,202.1 645.2,202.1 643.7,202.1 642.2,202.1 640.7,202.1 639.2,202 637.7,202 636.2,202 634.7,202 633.2,202 631.7,202 630.2,202 628.7,202 627.2,202 625.7,201.9 624.2,201.9 622.7,201.9 621.2,201.9 619.7,201.9 618.2,201.9 616.7,201.9 615.2,201.8 613.7,201.8 612.2,201.8 610.7,201.8 609.2,201.8 607.7,201.8 606.2,201.8 604.7,201.7 603.2,201.7 601.7,201.7 600.2,201.7 598.7,201.7 597.2,201.7 595.7,201.7 594.2,201.6 592.7,201.6 591.2,201.6 589.7,201.6 588.2,201.6 586.7,201.6 585.2,201.6 583.7,201.5 582.2,201.5 580.7,201.5 579.2,201.5 577.7,201.5 576.2,201.4 574.7,201.4 573.2,201.4 571.7,201.4 570.2,201.4 568.7,201.4 567.2,201.3 565.7,201.3 564.2,201.3 562.7,201.3 561.2,201.3 559.7,201.2 558.1,201.2 556.6,201.2 555.1,201.2 553.6,201.2 552.1,201.1 550.6,201.1 549.1,201.1 547.6,201.1 546.1,201 544.6,201 543.1,201 541.6,201 540.1,200.9 538.6,200.9 537.1,200.9 535.6,200.9 534.1,200.8 532.6,200.8 531.1,200.8 529.6,200.8 528.1,200.7 526.6,200.7 525.1,200.7 523.6,200.7 522.1,200.7 520.6,200.7 519.1,200.7"/>
<polyline class="band" stroke-width="9.2" points="519.1,200.7 517.6,200.7 516.1,200.7 514.6,200.7 513.1,200.7 511.6,200.7 510.1,200.7 508.6,200.7 507.1,200.7 505.6,200.7 504.1,200.7 502.6,200.7 501.1,200.7 499.6,200.7 498.1,200.7 496.6,200.7 495.1,200.7 493.6,200.7 492.1,200.7 490.6,200.7 489.1,200.7 487.6,200.7 486.1,200.8 484.6,200.8 483.1,200.8 481.6,200.8 480.1,200.9 478.6,200.9 477.1,201 475.6,201 474.1,201 472.6,201.1 471.1,201.2 469.6,201.2 468.1,201.4 466.7,201.6 465.2,201.9 463.7,202.3 462.3,202.8 460.9,203.3 459.5,203.9 458.1,204.5 456.8,205.1 455.4,205.7 454,206.3 452.7,207 451.3,207.6 449.9,208.1 448.5,208.7 447.1,209.2 445.7,209.7 444.2,210.1 442.8,210.5 441.3,210.8 439.9,211.2 438.4,211.6 437,212 435.5,212.4 434.1,212.8 432.7,213.3 431.3,213.8 429.9,214.4 428.6,215.1 427.3,215.8 426,216.6 424.7,217.3 423.4,218.1 422.1,218.9 420.8,219.6 419.4,220.3 418.1,221 416.7,221.8 415.4,222.6 414.1,223.4 412.7,224.1 411.3,224.8 410,225.4 408.6,225.8 407.2,226 405.7,226.1 404.2,226.2 402.7,226.3 401.2,226.4 399.7,226.4 398.2,226.5 396.7,226.5 395.2,226.5 393.7,226.5 392.2,226.4 390.7,226.3 389.2,226.2 387.7,226.1 386.2,225.9 384.7,225.8 383.2,225.7 381.7,225.6 380.2,225.6 378.7,225.6 377.2,225.7 375.7,225.9 374.2,226 372.7,226.2 371.2,226.3 369.7,226.3 368.2,226.2 366.7,226 365.2,225.8 363.7,225.7 362.2,225.6 360.7,225.5 359.2,225.5 357.7,225.4 356.2,225.4 354.7,225.6 353.3,225.8 351.8,226 350.3,226.3 348.8,226.6 347.4,226.9 345.9,227.2 344.4,227.6 343,228 341.6,228.5 340.2,229 338.8,229.5 337.4,230.1 336,230.7 334.6,231.2 333.1,231.6 331.7,232.1 330.3,232.7 329,233.3 327.6,234 326.3,234.7 325,235.4 323.7,236.2 322.4,237 321.1,237.8 319.9,238.6 318.7,239.5 317.5,240.6"/>
<polyline class="band" stroke-width="8.8" points="317.5,240.6 316.4,241.7 315.2,242.8 314.1,243.8"/>
<polyline class="band" stroke-width="9.2" points="314.1,243.8 312.9,244.7 311.6,245.3 310.3,245.7 308.9,246 307.5,246.3 306,246.5 304.4,246.7 302.9,246.9 301.3,247 299.8,247 298.3,246.9 296.9,246.8 295.4,246.7 293.9,246.5 292.4,246.3 290.9,246.1 289.4,246 287.9,246 286.4,246.1 284.9,246.2 283.4,246.4 281.9,246.7 280.4,247.1 278.9,247.5 277.5,247.9 276.1,248.3 274.7,248.8 273.4,249.5 272,250.2 270.7,251.1 269.5,251.9 268.3,252.8 267.2,253.8"/>
<polyline class="band" stroke-width="8.8" points="267.2,253.8 266.2,255 265.2,256.3 264.2,257.5 263.2,258.4"/>
<polyline class="band" stroke-width="9.2" points="263.2,258.4 262,259 260.7,259.4 259.3,259.8 257.8,260.1 256.3,260.4 254.7,260.7 253.2,260.9 251.6,261.2 250.1,261.5 248.7,261.9 247.2,262.3 245.8,262.6 244.3,263 242.9,263.4 241.4,263.8 240,264.1 238.5,264.5 237,264.8 235.5,265.1 234,265.4 232.5,265.7 230.9,265.9 229.5,266.3 228,266.6 226.7,267 225.4,267.5 224.2,268.2 223,269.1 221.9,270.2"/>
<polyline class="band" stroke-width="8.8" points="221.9,270.2 220.8,271.3 219.7,272.5 218.8,273.7 217.8,274.8 216.9,276 216,277.2 215.1,278.5 214.4,279.8 213.7,281.1 213.1,282.4"/>
<polyline class="band" stroke-width="8.4" points="213.1,282.4 212.5,283.8 211.9,285.2 211.3,286.6 210.8,288 210.3,289.5 209.9,290.9 209.5,292.3 209.1,293.8 208.8,295.2 208.5,296.7 208.2,298.2 207.9,299.7 207.7,301.2 207.4,302.6 207.1,304.1 206.8,305.6 206.5,307.1 206.2,308.5 205.9,310 205.7,311.5 205.4,313 205.1,314.4 204.8,315.9 204.4,317.3 204.1,318.8 203.7,320.3 203.3,321.7 202.9,323.1 202.5,324.6 202.1,326 201.7,327.5 201.3,328.9 200.9,330.4 200.5,331.8 200.2,333.3 199.8,334.8 199.5,336.2 199.1,337.7 198.8,339.1 198.5,340.6 198.1,342.1 197.8,343.5 197.5,345"/>
<polyline class="thin" points="197.5,345 196,353 195,361 193.5,370 192.5,379 191.5,388 190.5,397 189.8,406 189.5,414 189.2,422 189.8,430 189.6,438 188,447 188.3,456 188.6,466 187,474 186.4,481 186.7,489 186.5,498 186.4,506 187.5,514 186,523 186.8,532 187,541 185.5,550 185,559 184.6,568 185.6,582.5 184.2,598 183,613.8 184,628 183,643.8"/>
<g stroke="none"><circle cx="197.5" cy="345" r="4.5"/><circle cx="196" cy="353" r="4.5"/><circle cx="195" cy="361" r="4.5"/><circle cx="193.5" cy="370" r="4.5"/><circle cx="192.5" cy="379" r="4.5"/><circle cx="191.5" cy="388" r="4.5"/><circle cx="190.5" cy="397" r="4.5"/><circle cx="189.8" cy="406" r="4.5"/><circle cx="189.5" cy="414" r="4.5"/><circle cx="189.2" cy="422" r="4.5"/><circle cx="189.8" cy="430" r="4.5"/><circle cx="189.6" cy="438" r="4.5"/><circle cx="188" cy="447" r="4.5"/><circle cx="188.3" cy="456" r="4.5"/><circle cx="188.6" cy="466" r="4.5"/><circle cx="187" cy="474" r="4.5"/><circle cx="186.4" cy="481" r="4.5"/><circle cx="186.7" cy="489" r="4.5"/><circle cx="186.5" cy="498" r="4.5"/><circle cx="186.4" cy="506" r="4.5"/><circle cx="187.5" cy="514" r="4.5"/><circle cx="186" cy="523" r="4.5"/><circle cx="186.8" cy="532" r="4.5"/><circle cx="187" cy="541" r="4.5"/><circle cx="185.5" cy="550" r="4.5"/><circle cx="185" cy="559" r="4.5"/><circle cx="184.6" cy="568" r="4.5"/><circle cx="185.6" cy="582.5" r="4.5"/><circle cx="184.2" cy="598" r="4.5"/><circle cx="183" cy="613.8" r="4.5"/><circle cx="184" cy="628" r="4.5"/><circle cx="183" cy="643.8" r="4.5"/></g>
<polyline class="thin" points="183,643.8 183.6,612 184.4,580 185.3,548 186.2,516 187.2,484 188.2,452 189.4,420 190.8,388 192.3,356 194,328 195.5,307 196.6,285 197.5,262 198.2,240 198.6,222 198.7,206 199.2,192 200,178 200.7,168 201.4,160"/>
<g stroke="none"><circle cx="183" cy="643.8" r="4.5"/><circle cx="183.6" cy="612" r="4.5"/><circle cx="184.4" cy="580" r="4.5"/><circle cx="185.3" cy="548" r="4.5"/><circle cx="186.2" cy="516" r="4.5"/><circle cx="187.2" cy="484" r="4.5"/><circle cx="188.2" cy="452" r="4.5"/><circle cx="189.4" cy="420" r="4.5"/><circle cx="190.8" cy="388" r="4.5"/><circle cx="192.3" cy="356" r="4.5"/><circle cx="194" cy="328" r="4.5"/><circle cx="195.5" cy="307" r="4.5"/><circle cx="196.6" cy="285" r="4.5"/><circle cx="197.5" cy="262" r="4.5"/><circle cx="198.2" cy="240" r="4.5"/><circle cx="198.6" cy="222" r="4.5"/><circle cx="198.7" cy="206" r="4.5"/><circle cx="199.2" cy="192" r="4.5"/><circle cx="200" cy="178" r="4.5"/><circle cx="200.7" cy="168" r="4.5"/><circle cx="201.4" cy="160" r="4.5"/></g>
<polyline class="band" stroke-width="8.4" points="201.4,160 201.5,158.5 201.7,157 201.8,155.5 202,154 202.1,152.5 202.3,151 202.4,149.5 202.6,148 202.7,146.6 202.9,145.1 203,143.6 203.2,142.1 203.3,140.6 203.5,139.1 203.6,137.6 203.8,136.1 204,134.6 204.1,133.1 204.3,131.6 204.5,130.1 204.6,128.6 204.8,127.1 205,125.7 205.2,124.2 205.4,122.7 205.7,121.2 205.9,119.7 206.2,118.3 206.5,116.8 206.8,115.3 207.1,113.8 207.5,112.4 207.8,110.9 208.1,109.4 208.5,108 208.9,106.5 209.2,105.1 209.6,103.6 209.9,102.1 210.1,100.7 210.5,99.2 210.8,97.7 211.3,96.3 211.7,94.8 212.3,93.4 213,92.1"/>
<polyline class="band" stroke-width="8.8" points="213,92.1 214,90.6 215,89.7"/>
<polyline class="band" stroke-width="9.2" points="215,89.7 216.1,89.9 217.2,91"/>
<polyline class="band" stroke-width="8.8" points="217.2,91 218.2,92.5 218.9,93.8 219.5,95.1"/>
<polyline class="band" stroke-width="8.4" points="219.5,95.1 220.1,96.5 220.5,98 220.9,99.5 221.3,100.9 221.5,102.4 221.8,103.9 222,105.4 222.5,106.8 223.1,108.2 223.7,109.6 224.2,111 224.6,112.4 224.9,113.9 225.3,115.3 225.6,116.8 225.9,118.3 226.2,119.8 226.5,121.2 226.8,122.7 227.1,124.2 227.4,125.7 227.7,127.1 228,128.6 228.3,130.1 228.6,131.5 228.9,133 229.2,134.5 229.4,136 229.7,137.4 230,138.9 230.2,140.4 230.5,141.9 230.8,143.4 231.1,144.9 231.4,146.3 231.8,147.7 232.4,149.1 233,150.5"/>
<polyline class="band" stroke-width="8.8" points="233,150.5 233.7,151.8"/>
<polyline class="band" stroke-width="8.4" points="233.7,151.8 234.3,153.2 234.8,154.6 235.3,156 235.9,157.5 236.4,158.8 237.1,160.2"/>
<polyline class="band" stroke-width="8.8" points="237.1,160.2 237.8,161.5 238.7,162.7 239.6,164 240.5,165.1 241.5,166.3 242.6,167.4 243.7,168.3"/>
<polyline class="band" stroke-width="9.2" points="243.7,168.3 244.9,169.1 246.3,169.9 247.7,170.6 249.1,171.1 250.5,171.4 252,171.6 253.5,171.8 255,172 256.5,172.1 258,172.2 259.5,172.3 261,172.3 262.5,172.3 264,172.4 265.5,172.4 267,172.4 268.5,172.5 270,172.5 271.5,172.5 273,172.6 274.5,172.6 276.1,172.7 277.6,172.7 279.1,172.8 280.6,172.8 282,172.8 283.4,172.7 284.9,172.3 286.3,171.7 287.7,170.9 289.1,170.1 290.3,169.2 291.5,168.4 292.6,167.5"/>
<polyline class="band" stroke-width="8.8" points="292.6,167.5 293.6,166.4 294.6,165.2 295.5,163.9 296.4,162.7 297.4,161.6 298.5,160.5 299.6,159.4 300.8,158.3"/>
<polyline class="band" stroke-width="9.2" points="300.8,158.3 301.9,157.4 303.2,156.6 304.5,156.1 305.9,155.7 307.3,155.2 308.8,154.9 310.4,154.6 311.9,154.5 313.4,154.4 314.9,154.4 316.4,154.5 317.9,154.6 319.4,154.7 320.9,154.8 322.4,155 323.8,155.3 325.1,156 326.4,156.8 327.7,157.6 329.1,158.3 330.5,158.9 331.9,159.5 333.2,160.1 334.6,160.6 336.1,161.1 337.5,161.6 338.9,162.1 340.3,162.5 341.8,163 343.2,163.4 344.7,163.8 346.1,164.2 347.6,164.5 349.1,164.8 350.5,165 352,165.2 353.5,165.4 355,165.6 356.5,165.8 358,165.9 359.5,166 361,166.1 362.5,166.2 364,166.2 365.5,166.3 367,166.3 368.5,166.4 370,166.4 371.5,166.4 373,166.5 374.5,166.5 376,166.5 377.5,166.6 379,166.6 380.5,166.6 382,166.6 383.5,166.7 385,166.7 386.5,166.7 388,166.7 389.5,166.8 391,166.9 392.5,167.1 394,167.4 395.4,167.8 396.9,168.1 398.4,168.4 399.9,168.5 401.4,168.5 402.9,168.5 404.4,168.4 405.9,168.4 407.4,168.4 408.9,168.4 410.4,168.3 411.9,168.3 413.4,168.3 414.9,168.3 416.4,168.3 417.9,168.3 419.5,168.4 421,168.4 422.5,168.5 424,168.6 425.5,168.6 427,168.7 428.5,168.8 430,168.9 431.4,169.1 432.8,169.3 434.2,169.8 435.6,170.4 437,171.2 438.3,171.9 439.6,172.6 440.9,173.4 442.2,174.2 443.5,175 444.8,175.7 446.1,176.4 447.5,177.1 448.8,177.7 450.1,178.4 451.4,179.2 452.7,179.9 454,180.7 455.3,181.5 456.6,182.2 458,182.8 459.4,183.3 460.8,183.9 462.2,184.4 463.7,184.8 465.1,185.2 466.6,185.6 468,186 469.5,186.3 470.9,186.6 472.4,186.9 473.9,187.2 475.4,187.4 476.9,187.6 478.4,187.9 479.8,188.1 481.3,188.3 482.8,188.5 484.3,188.7 485.8,188.9 487.3,189.1 488.8,189.3 490.3,189.5 491.8,189.6 493.2,189.8 494.7,190 496.2,190.1 497.7,190.3 499.2,190.5 500.7,190.6 502.2,190.8 503.7,191 505.2,191.1 506.7,191.3 508.2,191.4 509.7,191.6 511.2,191.8 512.7,191.9 514.1,192.1 515.6,192.2 517.1,192.3 518.6,192.5 520.1,192.6"/>
<polyline class="band" stroke-width="8.8" points="520.1,192.6 521.6,192.7 523.1,192.9 524.6,193 526.1,193.1 527.6,193.2 529.1,193.3 530.6,193.4 532.1,193.5 533.6,193.6 535.1,193.7 536.6,193.8 538.1,193.9 539.6,194 541.1,194 542.6,194.1 544.1,194.2 545.6,194.3 547.1,194.4 548.6,194.5 550.1,194.6 551.6,194.6 553.1,194.7 554.6,194.8 556.1,194.9 557.6,194.9 559.1,195 560.6,195.1 562.1,195.1 563.6,195.2 565.1,195.2 566.6,195.3 568.1,195.3 569.6,195.4 571.1,195.4 572.6,195.4 574.1,195.5 575.6,195.5 577.1,195.5 578.6,195.5 580.1,195.5 581.6,195.5 583.1,195.5 584.6,195.5 586.1,195.5 587.6,195.5 589.1,195.5 590.6,195.5 592.1,195.5 593.6,195.5 595.1,195.5 596.6,195.5 598.1,195.5 599.6,195.5 601.1,195.5 602.6,195.5 604.1,195.5 605.6,195.5 607.1,195.5 608.6,195.5 610.1,195.5 611.6,195.5 613.1,195.4 614.6,195.4 616.1,195.4 617.6,195.4 619.1,195.4 620.6,195.4 622.1,195.4 623.6,195.4 625.1,195.4 626.6,195.4 628.1,195.4 629.6,195.4 631.1,195.4 632.6,195.4 634.1,195.4 635.6,195.4 637.1,195.4 638.6,195.4 640.2,195.3 641.7,195.3 643.2,195.3 644.7,195.3 646.2,195.3 647.7,195.3 649.2,195.3 650.7,195.3 652.2,195.3 653.7,195.3 655.2,195.3 656.7,195.3 658.2,195.3 659.7,195.2 661.2,195.2 662.7,195.2 664.2,195.2 665.7,195.2 667.2,195.2 668.7,195.2 670.2,195.2 671.7,195.2 673.2,195.2 674.7,195.2 676.2,195.2 677.7,195.1 679.2,195.1 680.7,195.1 682.2,195.1 683.7,195.1 685.2,195.1 686.7,195.1 688.2,195.1 689.7,195.1 691.2,195.1 692.7,195 694.2,195 695.7,195 697.2,195 698.7,195 700.2,195 701.7,195 703.2,195 704.7,195 706.2,195 707.7,194.9 709.2,194.9 710.7,194.9 712.2,194.9 713.7,194.9 715.2,194.9 716.7,194.9 718.2,194.9 719.7,194.9 721.2,194.8 722.7,194.8 724.2,194.8 725.7,194.8 727.2,194.8 728.7,194.8 730.2,194.8 731.7,194.7 733.2,194.7 734.7,194.7 736.2,194.7 737.7,194.7 739.2,194.7 740.8,194.7 742.3,194.6 743.8,194.6 745.3,194.6 746.8,194.6 748.3,194.6 749.8,194.6 751.3,194.5 752.8,194.5 754.3,194.5 755.8,194.5 757.3,194.5 758.8,194.4 760.3,194.4 761.8,194.4 763.3,194.4 764.8,194.4 766.3,194.3 767.8,194.3 769.3,194.3 770.8,194.3 772.3,194.2 773.8,194.2 775.3,194.2 776.8,194.2 778.3,194.1 779.8,194.1 781.3,194.1 782.8,194.1 784.3,194 785.8,194 787.3,194 788.8,194 790.3,193.9 791.8,193.9 793.3,193.9 794.8,193.9 796.3,193.8 797.8,193.8 799.3,193.8 800.8,193.7 802.3,193.7 803.8,193.7 805.3,193.6 806.8,193.6 808.3,193.6 809.8,193.5 811.3,193.5 812.8,193.5 814.3,193.4 815.8,193.4 817.3,193.4 818.8,193.3 820.3,193.3 821.8,193.3 823.3,193.2 824.8,193.2 826.3,193.1 827.8,193.1 829.3,193.1 830.8,193 832.3,193 833.8,192.9 835.3,192.9 836.8,192.8 838.3,192.8 839.8,192.7 841.3,192.7 842.8,192.6 844.3,192.5 845.8,192.5 847.3,192.4 848.8,192.3 850.3,192.2 851.8,192.1 853.3,192 854.8,191.9 856.3,191.8 857.8,191.7 859.3,191.6 860.8,191.5 862.3,191.4 863.8,191.3 865.3,191.2 866.8,191.1 868.3,191 869.8,190.8 871.3,190.7 872.8,190.6 874.3,190.5 875.8,190.4 877.3,190.2 878.8,190.1 880.3,190 881.8,189.8 883.2,189.7 884.7,189.6 886.2,189.4 887.7,189.3 889.2,189.1 890.7,188.9 892.2,188.8 893.7,188.6 895.2,188.4 896.7,188.2 898.2,188 899.7,187.8 901.2,187.6 902.6,187.4 904.1,187.2 905.6,187 907.1,186.8 908.6,186.5 910.1,186.3 911.5,186.1 913,185.8 914.5,185.6 916,185.3 917.6,185.1 919.1,184.8 920.6,184.5 922.1,184.2 923.6,183.9 925.1,183.6 926.5,183.2 928,182.9 929.4,182.5 930.7,182 932.1,181.6 933.4,181 934.6,180.4 935.8,179.7 937,178.8 938.2,177.9 939.4,177 940.5,176 941.6,174.9 942.8,173.8 943.9,172.7 945,171.6 946.1,170.5 947.3,169.5 948.4,168.4 949.6,167.4 950.8,166.5 952,165.6 953.2,164.8 954.5,163.9 955.7,163.1 957,162.3 958.2,161.4 959.5,160.6 960.8,159.8 962.1,159 963.4,158.3 964.7,157.5 966,156.8 967.3,156 968.6,155.3 969.9,154.6 971.3,154 972.6,153.3 974,152.7 975.3,152.1 976.7,151.5 978.1,150.9 979.5,150.3 980.9,149.7 982.3,149.2 983.7,148.6 985.1,148.1 986.5,147.6 987.9,147 989.3,146.5 990.7,146 992.2,145.5 993.6,145.1 995,144.6 996.4,144.1 997.8,143.6 999.3,143.2 1000.7,142.7 1002.2,142.3 1003.6,141.8 1005,141.4 1006.5,141 1007.9,140.6 1009.4,140.2 1010.8,139.9 1012.3,139.5 1013.8,139.2 1015.2,138.9 1016.7,138.6 1018.2,138.3 1019.6,138 1021.1,137.7 1022.6,137.5 1024.1,137.2 1025.6,136.9 1027,136.7 1028.5,136.5 1030,136.3 1031.5,136.1 1033,135.9 1034.5,135.7 1036,135.5 1037.5,135.3 1039,135.1 1040.4,134.9 1041.9,134.7 1043.4,134.5 1044.9,134.4 1046.4,134.2 1047.9,134.1 1049.4,134.1 1050.9,134 1052.4,134 1053.9,134 1055.4,134 1056.9,134 1058.4,134 1059.9,134 1061.4,134 1062.9,134 1064.4,134 1065.9,134 1067.4,134 1068.9,134 1070.4,134 1071.9,134 1073.4,134 1074.9,134 1076.4,134 1077.9,134 1079.4,134 1080.9,134 1082.4,134 1083.9,134 1085.4,134 1087,134 1088.5,134 1090,134 1091.5,134 1093,134 1094.5,134 1096,134 1097.5,133.9 1099,133.9 1100.4,133.8 1101.9,133.7 1103.4,133.7 1104.9,133.6 1106.4,133.5 1107.9,133.4 1109.4,133.3 1110.9,133.2 1112.4,133 1113.9,132.9 1115.4,132.8 1116.9,132.7 1118.4,132.6 1119.9,132.4 1121.4,132.3 1122.9,132.2 1124.4,132.1 1125.9,131.9 1127.4,131.8 1128.9,131.7 1130.4,131.6 1131.9,131.5 1133.4,131.4 1134.9,131.3 1136.4,131.2 1137.9,131.1 1139.4,131 1140.9,130.9 1142.4,130.8 1143.9,130.7 1145.4,130.6 1146.9,130.5 1148.4,130.4 1149.9,130.3 1151.4,130.2 1152.9,130.1 1154.4,130 1155.9,129.9 1157.4,129.8 1158.9,129.7 1160.4,129.6 1161.9,129.5 1163.4,129.3 1164.9,129.2 1166.4,129.1 1167.9,129 1169.4,128.9 1170.8,128.8 1172.3,128.7 1173.8,128.6 1175.3,128.4 1176.8,128.3 1178.3,128.2 1179.8,128.1 1181.3,128 1182.8,127.8 1184.3,127.7 1185.8,127.6 1187.3,127.5 1188.8,127.4 1190.3,127.2 1191.8,127.1 1193.3,127 1194.8,126.9 1196.3,126.7 1197.8,126.6 1199.3,126.5 1200.8,126.3 1202.3,126.2 1203.8,126.1 1205.3,125.9 1206.8,125.8 1208.3,125.6 1209.7,125.5 1211.2,125.4 1212.7,125.2 1214.2,125.1 1215.7,124.9 1217.2,124.8 1218.7,124.6 1220.2,124.4 1221.7,124.2 1223.2,124 1224.7,123.8 1226.2,123.5 1227.7,123.3 1229.1,123.1 1230.6,123 1232.1,122.8 1233.6,122.7 1235.1,122.5 1236.6,122.5 1238.1,122.4 1239.6,122.4 1241.1,122.3 1242.6,122.3 1244.1,122.2 1245.6,122.2 1247.1,122.2 1248.6,122.1 1250.1,122.1 1251.6,122 1253.1,122 1254.6,122 1256.1,121.9 1257.6,121.9 1259.1,121.9 1260.6,121.9 1262.1,121.8 1263.6,121.8 1265.1,121.8 1266.6,121.7 1268.1,121.7 1269.6,121.7 1271.1,121.7 1272.6,121.7 1274.1,121.6 1275.6,121.6 1277.1,121.6 1278.6,121.6 1280.1,121.6 1281.6,121.5 1283.1,121.5 1284.6,121.5 1286.1,121.5 1287.6,121.5 1289.1,121.5 1290.6,121.5 1292.1,121.4 1293.6,121.4 1295.1,121.4 1296.6,121.4 1298.1,121.4 1299.6,121.4 1301.1,121.4 1302.7,121.4 1304.2,121.4 1305.7,121.4 1307.2,121.4 1308.7,121.4 1310.2,121.4 1311.7,121.4 1313.2,121.4 1314.7,121.4 1316.2,121.4 1317.7,121.4 1319.2,121.4 1320.7,121.4 1322.2,121.4 1323.7,121.4 1325.2,121.4 1326.7,121.4 1328.2,121.4 1329.7,121.4 1331.2,121.4 1332.7,121.4 1334.2,121.4 1335.7,121.4 1337.2,121.4 1338.7,121.4 1340.2,121.4 1341.7,121.4 1343.2,121.4 1344.7,121.4 1346.2,121.4 1347.7,121.4 1349.2,121.4 1350.7,121.4 1352.2,121.4 1353.7,121.4 1355.2,121.4 1356.7,121.4 1358.2,121.4 1359.7,121.4 1361.2,121.4 1362.7,121.4 1364.2,121.4 1365.7,121.4 1367.2,121.4 1368.7,121.4 1370.2,121.4 1371.7,121.4 1373.2,121.4 1374.7,121.4 1376.2,121.4 1377.7,121.4 1379.2,121.4 1380.7,121.4 1382.2,121.4 1383.7,121.4 1385.2,121.4 1386.7,121.4 1388.2,121.4 1389.7,121.4 1391.2,121.4 1392.7,121.4 1394.2,121.4 1395.7,121.4 1397.2,121.4 1398.7,121.4 1400.2,121.4 1401.7,121.4 1403.2,121.4 1404.7,121.4 1406.2,121.4 1407.7,121.4 1409.2,121.4 1410.8,121.4 1412.3,121.4 1413.8,121.4 1415.3,121.4 1416.8,121.4 1418.3,121.4 1419.8,121.4 1421.3,121.4 1422.8,121.4 1424.3,121.4 1425.8,121.4 1427.3,121.4 1428.8,121.4 1430.3,121.4 1431.8,121.4 1433.3,121.4 1434.8,121.3 1436.3,121.3 1437.8,121.3 1439.3,121.3 1440.8,121.2 1442.3,121.2 1443.8,121.1 1445.3,121.1 1446.8,121 1448.3,121 1449.8,120.9 1451.3,120.9 1452.8,120.8 1454.3,120.7 1455.8,120.7 1457.3,120.6 1458.8,120.5 1460.3,120.5 1461.8,120.4 1463.3,120.3 1464.8,120.2 1466.3,120.2 1467.8,120.1 1469.3,120 1470.8,120 1472.3,119.9 1473.8,119.8 1475.3,119.7 1476.8,119.7 1478.3,119.6 1479.8,119.5 1481.3,119.4 1482.8,119.3 1484.3,119.2 1485.8,119.1 1487.3,119 1488.8,118.9 1490.3,118.7 1491.8,118.6 1493.3,118.5 1494.8,118.4 1496.3,118.2 1497.8,118.1 1499.2,117.9 1500.7,117.8 1502.2,117.6 1503.7,117.4 1505.2,117.3 1506.7,117 1508.2,116.8 1509.6,116.5 1511.1,116.2 1512.6,115.9 1514.1,115.6 1515.5,115.3 1517,115"/>
</g>
<g stroke="#FFC0C0" fill="#FFC0C0">
<polyline class="band" stroke-width="8.8" points="720,199 718.5,199.1 717,199.3 715.5,199.4 714,199.6 712.5,199.7 711,199.8 709.5,200 708,200.1 706.5,200.2 705,200.3 703.5,200.4 702,200.4 700.5,200.5 699,200.5 697.5,200.5 696,200.6 694.5,200.6 693,200.6 691.5,200.7 690,200.7 688.5,200.7 687,200.7 685.5,200.7 684,200.8 682.5,200.8 681,200.8 679.5,200.8 678,200.8 676.5,200.9 675,200.9 673.5,200.9 672,200.9 670.5,200.9 669,200.9 667.5,200.9 666,200.9 664.5,201 663,201 661.5,201 660,201 658.5,201 657,201 655.5,201 654,201 652.5,201 651,201 649.4,201 647.9,201 646.4,201 644.9,201 643.4,201 641.9,201 640.4,201 638.9,201 637.4,201 635.9,201 634.4,201 632.9,201 631.4,201 629.9,201 628.4,201 626.9,201 625.4,201 623.9,201 622.4,201 620.9,201 619.4,201 617.9,201 616.4,201 614.9,201 613.4,201 611.9,201 610.4,201 608.9,201 607.4,201 605.9,201 604.4,201 602.9,201 601.4,201 599.9,201 598.4,201 596.9,201 595.4,201 593.9,201 592.4,201 590.9,201 589.4,201 587.9,201 586.4,201 584.8,201 583.3,201 581.8,201 580.3,201 578.8,201 577.3,201 575.8,201 574.3,201 572.8,201 571.3,201 569.8,201 568.3,201 566.8,201 565.3,201 563.8,201 562.3,201 560.8,201 559.3,201 557.8,201 556.3,201 554.8,201 553.3,201 551.8,201 550.3,201 548.8,201 547.3,201 545.8,201 544.3,201 542.8,201 541.3,201 539.8,201.1 538.3,201.1 536.8,201.1 535.3,201.1 533.8,201.1 532.3,201.2 530.8,201.2 529.3,201.2 527.8,201.2 526.3,201.3 524.8,201.3 523.2,201.3 521.7,201.4 520.2,201.4 518.7,201.4"/>
<polyline class="band" stroke-width="9.2" points="518.7,201.4 517.2,201.5 515.7,201.5 514.2,201.6 512.7,201.6 511.2,201.7 509.7,201.7 508.2,201.7 506.7,201.8 505.2,201.8 503.7,201.9 502.2,201.9 500.7,202 499.2,202 497.7,202.1 496.2,202.1 494.7,202.2 493.2,202.3 491.7,202.3 490.2,202.4 488.7,202.5 487.2,202.6 485.7,202.7 484.2,202.8 482.7,202.9 481.2,203 479.7,203.1 478.2,203.2 476.7,203.3 475.2,203.5 473.7,203.6 472.2,203.8 470.7,203.9 469.3,204.1 467.8,204.3 466.3,204.6 464.9,204.9 463.4,205.3 462,205.7 460.5,206.1 459,206.5 457.6,206.9 456.1,207.4 454.7,207.8 453.2,208.2 451.8,208.6 450.3,208.9 448.9,209.3 447.4,209.6 445.9,209.9 444.5,210.2 443,210.6 441.5,210.9 440,211.2 438.6,211.5 437.1,211.8 435.6,212.1 434.1,212.3 432.7,212.6 431.2,212.8 429.7,213 428.2,213.3 426.7,213.5 425.2,213.7 423.7,214 422.3,214.2 420.8,214.4 419.3,214.6 417.8,214.8 416.3,214.9 414.8,215 413.3,215 411.8,215 410.3,214.9 408.8,214.9 407.3,214.8 405.8,214.7 404.3,214.6 402.8,214.6 401.3,214.5 399.8,214.5 398.3,214.5 396.8,214.5 395.3,214.5 393.8,214.5 392.3,214.5 390.8,214.5 389.2,214.5 387.7,214.5 386.2,214.5 384.7,214.5 383.2,214.5 381.7,214.5 380.2,214.5 378.7,214.5 377.2,214.5 375.7,214.5 374.2,214.5 372.7,214.5 371.2,214.5 369.7,214.5 368.2,214.5 366.7,214.6 365.2,214.7 363.7,214.8 362.2,214.9 360.7,215.1 359.2,215.3 357.7,215.5 356.2,215.7 354.8,216 353.3,216.2 351.8,216.5 350.3,216.7 348.8,217 347.3,217.3 345.9,217.6 344.4,217.8 342.9,218.1 341.5,218.4 340,218.8 338.5,219.1 337.1,219.5 335.6,219.9 334.2,220.3 332.7,220.8 331.3,221.2 329.8,221.7 328.4,222.2 327,222.7 325.6,223.2 324.2,223.7 322.8,224.3 321.4,224.8 320,225.4 318.7,226.1 317.4,226.8 316.1,227.6 314.8,228.4 313.6,229.3 312.3,230.1 311,230.8 309.7,231.5 308.3,232.2 306.9,232.8 305.5,233.5 304.1,234.1 302.7,234.7 301.3,235.1 299.9,235.4 298.4,235.6 296.9,235.8 295.5,235.9 293.9,236.1 292.4,236.2 290.9,236.3 289.4,236.4 287.9,236.4 286.4,236.4 284.9,236.4 283.4,236.3 281.9,236.3 280.3,236.2 278.8,236.1 277.3,236.1 275.8,236 274.3,235.9 272.8,235.8 271.3,235.8 269.8,235.7 268.3,235.6 266.8,235.6 265.4,235.6 263.9,235.7 262.5,236 261.1,236.4 259.7,237 258.3,237.6 256.9,238.3 255.5,239 254.1,239.6 252.7,240.2 251.3,240.8 249.9,241.3 248.5,241.9 247.1,242.5 245.7,243 244.3,243.6 242.8,244 241.4,244.5 240,244.8 238.5,245.1 237,245.4 235.5,245.7 234,245.9 232.5,246 231,246 229.5,245.8 228,245.7 226.5,245.5 225,245.3 223.6,245.3 222.1,245.4 220.6,245.7 219.1,246.1 217.6,246.6 216.1,247.1 214.8,247.7 213.5,248.2 212.3,249 211.1,249.9 209.9,251"/>
<polyline class="band" stroke-width="8.8" points="209.9,251 208.8,252.1 207.7,253.2 206.7,254.3 205.8,255.4 204.9,256.6 204,257.9 203.2,259.1 202.4,260.4 201.6,261.7 200.8,263 200,264.2 199.2,265.6 198.5,266.9"/>
<polyline class="band" stroke-width="8.4" points="198.5,266.9 197.9,268.2 197.3,269.6 196.7,271 196.2,272.4 195.7,273.8 195.2,275.3 194.7,276.7 194.4,278.2 194,279.6 193.8,281.1 193.5,282.6 193.3,284 193.1,285.5 192.9,287 192.8,288.5 192.6,290 192.5,291.5 192.3,293 192.2,294.5 192.1,296 192,297.5 191.9,299 191.8,300.5 191.7,302 191.6,303.5 191.5,305 191.3,306.5 191,308 190.7,309.5 190.4,310.9 190.1,312.4 189.7,313.9 189.4,315.3 189,316.8 188.7,318.3 188.3,319.7 187.8,321.2 187.5,322.6 187.2,324.1 187,325.6 186.8,327 186.6,328.5 186.4,330 186.2,331.5 186.1,333 185.9,334.5 185.8,336 185.6,337.5 185.5,339 185.4,340.5 185.2,342 185.1,343.5 185,345 184.9,346.5 184.8,348 184.7,349.5 184.5,351 184.4,352.5 184.3,354 184.2,355.5 184,357 183.9,358.5 183.8,360 183.7,361.5 183.7,363 183.6,364.5 183.6,366 183.5,367.5 183.5,369 183.5,370.5 183.5,372 183.4,373.5 183.4,375 183.4,376.5 183.4,378"/>
<polyline class="thin" points="183.4,378 182.5,366 181.8,352 182.5,338 184,322 186.5,305 188.5,290 190,270 191.5,250 192.5,230 193.2,212"/>
<g stroke="none"><circle cx="183.4" cy="378" r="4.5"/><circle cx="182.5" cy="366" r="4.5"/><circle cx="181.8" cy="352" r="4.5"/><circle cx="182.5" cy="338" r="4.5"/><circle cx="184" cy="322" r="4.5"/><circle cx="186.5" cy="305" r="4.5"/><circle cx="188.5" cy="290" r="4.5"/><circle cx="190" cy="270" r="4.5"/><circle cx="191.5" cy="250" r="4.5"/><circle cx="192.5" cy="230" r="4.5"/><circle cx="193.2" cy="212" r="4.5"/></g>
<polyline class="band" stroke-width="8.4" points="193.2,212 193.2,210.5 193.2,209 193.3,207.5 193.4,206 193.5,204.5 193.6,203 193.7,201.5 193.8,200 194,198.5 194.2,197 194.6,195.6 194.9,194.1 195.3,192.7 195.7,191.2 196.1,189.8 196.6,188.3 197.1,186.9 197.7,185.5 198.4,184.2"/>
<polyline class="band" stroke-width="8.8" points="198.4,184.2 199.1,182.8 200,181.6 201,180.5 202.1,179.5"/>
<polyline class="band" stroke-width="9.2" points="202.1,179.5 203.4,178.7 204.8,178.1 206.2,177.7 207.7,177.4 209.2,177.3 210.7,177.2 212.2,177.4 213.6,177.8 215.1,178.3 216.5,178.9 217.9,179.5 219.2,180.1 220.5,180.8 221.8,181.6 223.1,182.4 224.4,183.1 225.8,183.9 227.1,184.6 228.4,185.3 229.8,186.1 231.1,186.9 232.5,187.6 233.8,188.3 235.2,188.9 236.6,189.3 238,189.6 239.4,189.8 240.9,190 242.4,190.1 243.9,190.2 245.5,190.3 247,190.4 248.5,190.5 250,190.5 251.5,190.4 252.9,190.3 254.4,190 255.9,189.6 257.3,189.2 258.8,188.8 260.2,188.3 261.7,187.9 263.1,187.5 264.6,187.1 266,186.6 267.4,186.2 268.9,185.7 270.3,185.2 271.7,184.7 273.1,184.1 274.5,183.6 275.9,183.1 277.3,182.6 278.7,182 280.1,181.5 281.5,180.9 282.9,180.3 284.3,179.7 285.7,179.1 287,178.5 288.4,178 289.8,177.4 291.2,176.7 292.6,176 294,175.3 295.4,174.7 296.8,174.1 298.2,173.6 299.6,173.4 301.1,173.3 302.5,173.3 304,173.3 305.5,173.3 307.1,173.3 308.6,173.3 310.1,173.3 311.6,173.3 313.1,173.3 314.6,173.4 316,173.6 317.5,173.9 319,174.3 320.4,174.8 321.9,175.2 323.3,175.7 324.8,176 326.3,176.3 327.7,176.6 329.2,176.8 330.7,177.1 332.2,177.3 333.7,177.5 335.2,177.7 336.6,177.9 338.1,178.1 339.6,178.3 341.1,178.5 342.6,178.7 344.1,178.8 345.6,179 347.1,179.1 348.6,179.2 350.1,179.3 351.6,179.3 353.1,179.4 354.6,179.4 356.1,179.5 357.6,179.5 359.1,179.6 360.6,179.6 362.1,179.7 363.6,179.7 365.1,179.7 366.6,179.8 368.1,179.8 369.6,179.8 371.1,179.8 372.6,179.9 374.1,179.9 375.6,179.9 377.1,179.9 378.6,179.9 380.1,179.9 381.6,179.9 383.1,179.9 384.6,179.9 386.1,179.9 387.6,179.9 389.2,179.8 390.7,179.8 392.2,179.8 393.7,179.8 395.2,179.7 396.7,179.7 398.2,179.7 399.7,179.6 401.2,179.6 402.7,179.5 404.1,179.4 405.6,179.4 407.1,179.1 408.5,178.6 410,178.1 411.4,177.7 412.8,177.3 414.3,176.8 415.8,176.3 417.3,175.8 418.7,175.5 420.1,175.4 421.5,175.6 422.8,176.1 424.1,176.8 425.4,177.6 426.6,178.6 427.9,179.6 429.2,180.6 430.5,181.5 431.8,182.2 433.2,182.8 434.5,183.4 435.9,184 437.3,184.6 438.7,185.2 440.1,185.7 441.6,186.2 443,186.6 444.4,187 445.9,187.4 447.3,187.8 448.8,188.1 450.3,188.4 451.7,188.7 453.2,189 454.7,189.3 456.2,189.5 457.6,189.8 459.1,190 460.6,190.2 462.1,190.4 463.6,190.6 465.1,190.8 466.6,191 468.1,191.1 469.6,191.3 471.1,191.4 472.6,191.6 474,191.7 475.5,191.8 477,191.9 478.5,192.1 480,192.2 481.5,192.4 483,192.6 484.5,192.8 486,193 487.5,193.2 489,193.4 490.4,193.6 491.9,193.8 493.4,194 494.9,194.1 496.4,194.3 497.9,194.4 499.4,194.5 500.9,194.6 502.4,194.8 503.9,194.9 505.4,195 506.9,195.1 508.4,195.2 509.9,195.3 511.4,195.4 512.9,195.5 514.4,195.6 515.9,195.7 517.4,195.8 518.9,195.9 520.4,195.9"/>
<polyline class="band" stroke-width="8.8" points="520.4,195.9 521.9,195.9 523.4,195.8 524.9,195.7 526.4,195.5 527.9,195.3 529.4,195.2 530.9,195.1 532.4,194.9 533.8,194.9 535.3,194.9 536.8,194.9 538.4,194.9 539.9,195 541.4,195 542.9,195 544.4,195 545.9,195.1 547.4,195.1 548.9,195.1 550.4,195.1 551.9,195.1 553.4,195.2 554.9,195.2 556.4,195.2 557.9,195.2 559.4,195.3 560.9,195.3 562.4,195.3 563.9,195.3 565.4,195.3 566.9,195.4 568.4,195.4 569.9,195.4 571.4,195.4 572.9,195.5 574.4,195.5 575.9,195.5 577.4,195.5 578.9,195.6 580.4,195.6 581.9,195.6 583.4,195.6 584.9,195.7 586.4,195.7 587.9,195.7 589.4,195.7 590.9,195.8 592.4,195.8 593.9,195.8 595.4,195.8 596.9,195.9 598.4,195.9 599.9,195.9 601.4,195.9 602.9,195.9 604.4,196 605.9,196 607.4,196 608.9,196 610.4,196 611.9,196.1 613.4,196.1 614.9,196.1 616.4,196.1 617.9,196.1 619.4,196.1 620.9,196.1 622.4,196.2 623.9,196.2 625.4,196.2 626.9,196.2 628.4,196.2 629.9,196.2 631.4,196.2 632.9,196.2 634.4,196.2 635.9,196.2 637.4,196.2 638.9,196.2 640.4,196.2 641.9,196.2 643.4,196.2 644.9,196.2 646.4,196.1 647.9,196.1 649.4,196.1 650.9,196.1 652.4,196.1 653.9,196.1 655.4,196 656.9,196 658.4,196 659.9,196 661.4,195.9 662.9,195.9 664.4,195.9 665.9,195.8 667.4,195.8 668.9,195.8 670.4,195.8 671.9,195.7 673.4,195.7 674.9,195.7 676.4,195.6 678,195.6 679.5,195.6 681,195.5 682.5,195.5 684,195.5 685.5,195.4 687,195.4 688.5,195.4 690,195.3 691.5,195.3 693,195.3 694.5,195.2 696,195.2 697.5,195.2 699,195.1 700.5,195.1 702,195.1 703.5,195 705,195 706.5,195 708,194.9 709.5,194.9 711,194.9 712.5,194.8 714,194.8 715.5,194.7 717,194.8 718.5,194.9 720,195 721.5,195.2 722.9,195.5 724.4,195.7 725.9,195.9 727.4,196.1 728.9,196.2 730.4,196.2 731.9,196.1 733.4,196.1 734.9,196.1 736.4,196 737.9,196 739.4,195.9 740.9,195.9 742.4,195.9 743.9,195.8 745.4,195.8 746.9,195.8 748.4,195.7 749.9,195.7 751.4,195.7 752.9,195.7 754.4,195.6 755.9,195.6 757.4,195.6 758.9,195.6 760.4,195.5 761.9,195.5 763.4,195.5 764.9,195.5 766.4,195.4 767.9,195.4 769.4,195.4 770.9,195.4 772.4,195.4 773.9,195.4 775.4,195.3 776.9,195.3 778.4,195.3 779.9,195.3 781.4,195.3 782.9,195.3 784.4,195.3 785.9,195.3 787.4,195.2 788.9,195.2 790.5,195.2 792,195.2 793.5,195.2 795,195.2 796.5,195.2 798,195.1 799.5,195.1 801,195.1 802.5,195.1 804,195.1 805.5,195.1 807,195 808.5,195 810,195 811.5,195 813,195 814.5,194.9 816,194.9 817.5,194.9 819,194.9 820.5,194.8 822,194.8 823.5,194.8 825,194.8 826.5,194.7 828,194.7 829.5,194.7 831,194.6 832.5,194.6 834,194.5 835.5,194.5 837,194.4 838.5,194.3 840,194.2 841.5,194.1 843,194 844.5,193.9 846,193.7 847.5,193.6 848.9,193.4 850.4,193.3 851.9,193.1 853.4,192.9 854.9,192.8 856.4,192.6 857.9,192.4 859.4,192.2 860.9,192 862.4,191.8 863.9,191.7 865.3,191.5 866.8,191.3 868.3,191.1 869.8,190.9 871.3,190.7 872.8,190.5 874.3,190.3 875.8,190.1 877.3,189.9 878.7,189.8 880.2,189.6 881.7,189.4 883.2,189.2 884.7,189 886.2,188.8 887.7,188.6 889.2,188.4 890.7,188.2 892.1,188 893.6,187.7 895.1,187.5 896.6,187.2 898.1,187 899.6,186.7 900.9,186.3 902.3,185.8 903.6,185.1 904.9,184.3 906.2,183.5 907.4,182.6 908.7,181.7 910,180.8 911.2,180 912.5,179.2 913.8,178.4 915.1,177.7 916.5,177 917.8,176.2 919.1,175.5 920.4,174.8 921.7,174 923,173.3 924.3,172.5 925.6,171.7 926.8,170.9 928,170 929.2,169.1 930.4,168.2 931.5,167.2 932.7,166.3 933.8,165.3 934.9,164.3 936,163.2 937.1,162.2 938.2,161.1 939.3,160 940.3,159 941.4,157.9 942.4,156.8 943.4,155.7 944.4,154.6 945.4,153.4 946.4,152.3 947.4,151.2 948.4,150 949.4,148.9 950.4,147.7 951.3,146.5 952.2,145.3 953.2,144.1 954,142.9 954.9,141.6 955.6,140.4 956.4,139.1 957.1,137.8 957.7,136.5"/>
<polyline class="band" stroke-width="8.4" points="957.7,136.5 958.3,135.1 958.9,133.7 959.4,132.3 959.9,130.9 960.3,129.4 960.8,127.9 961.3,126.5 961.8,125.1 962.3,123.6 962.9,122.3 963.5,120.9"/>
<polyline class="band" stroke-width="8.8" points="963.5,120.9 964.2,119.6 964.9,118.3 965.7,117 966.6,115.6 967.5,114.3 968.5,113.1 969.5,111.9 970.6,111 971.7,110.2 972.9,109.5 974.3,109 975.7,108.4 977.2,108 978.7,107.7 980.2,107.5 981.7,107.3 983.2,107.2 984.7,107.1 986.2,107 987.7,107 989.2,107 990.8,107.1 992.3,107.1 993.8,107.2 995.3,107.3 996.8,107.5 998.2,107.6 999.6,107.9 1001,108.3 1002.4,108.9 1003.7,109.6 1005,110.4 1006.3,111.2 1007.7,112 1009,112.8 1010.3,113.6 1011.7,114.3 1013.1,114.9 1014.4,115.5 1015.8,116.1 1017.2,116.7 1018.6,117.2 1020,117.8 1021.4,118.4 1022.8,119 1024.2,119.5 1025.6,120.1 1027,120.6 1028.4,121.1 1029.8,121.6 1031.2,122.1 1032.6,122.6 1034,123.1 1035.5,123.6 1036.9,124.1 1038.3,124.6 1039.7,125 1041.2,125.5 1042.6,125.9 1044,126.4 1045.5,126.8 1046.9,127.2 1048.4,127.6 1049.8,127.9 1051.3,128.3 1052.8,128.6 1054.2,128.8 1055.7,129.1 1057.2,129.4 1058.7,129.6 1060.1,129.8 1061.6,130 1063.1,130.3 1064.6,130.5 1066.1,130.7 1067.6,130.9 1069.1,131 1070.6,131.2 1072.1,131.4 1073.6,131.6 1075.1,131.8 1076.5,132 1078,132.2 1079.5,132.4 1081,132.6 1082.5,132.8 1084,132.9 1085.5,133.1 1087,133.2 1088.5,133.3 1090,133.4 1091.5,133.4 1093,133.4 1094.5,133.4 1096,133.4 1097.5,133.3 1099,133.3 1100.5,133.2 1102,133.1 1103.5,133.1 1105,133 1106.5,132.9 1108,132.8 1109.5,132.7 1111,132.6 1112.5,132.5 1114,132.4 1115.5,132.3 1117,132.1 1118.5,132 1120,131.9 1121.5,131.8 1123,131.7 1124.5,131.5 1126,131.4 1127.5,131.3 1129,131.2 1130.5,131.1 1132,131 1133.5,130.9 1135,130.8 1136.4,130.7 1137.9,130.6 1139.4,130.5 1140.9,130.4 1142.4,130.3 1143.9,130.2 1145.4,130.1 1146.9,130 1148.4,129.9 1149.9,129.8 1151.4,129.7 1152.9,129.6 1154.4,129.4 1155.9,129.3 1157.4,129.2 1158.9,129.1 1160.4,129 1161.9,128.9 1163.4,128.8 1164.9,128.7 1166.4,128.6 1167.9,128.5 1169.4,128.4 1170.9,128.3 1172.4,128.2 1173.9,128.1 1175.4,128 1176.9,127.8 1178.4,127.7 1179.9,127.6 1181.4,127.5 1182.9,127.4 1184.4,127.2 1185.9,127.1 1187.4,127 1188.9,126.8 1190.4,126.7 1191.9,126.6 1193.4,126.5 1194.9,126.3 1196.4,126.2 1197.9,126.1 1199.4,126 1200.9,125.8 1202.3,125.7 1203.8,125.6 1205.3,125.5 1206.8,125.4 1208.3,125.3 1209.8,125.1 1211.3,125 1212.8,124.9 1214.3,124.8 1215.8,124.7 1217.3,124.7 1218.8,124.6 1220.3,124.5 1221.8,124.4 1223.3,124.3 1224.8,124.3 1226.3,124.2 1227.8,124.2 1229.3,124.1 1230.8,124.1 1232.3,124.1 1233.8,124 1235.3,124 1236.8,124 1238.3,124 1239.8,124 1241.3,124 1242.8,124 1244.3,124.1 1245.8,124.1 1247.3,124.1 1248.8,124.2 1250.3,124.2 1251.8,124.3 1253.3,124.3 1254.8,124.4 1256.3,124.4 1257.8,124.5 1259.3,124.6 1260.8,124.6 1262.3,124.7 1263.8,124.8 1265.3,124.9 1266.8,124.9 1268.3,125 1269.8,125.1 1271.3,125.2 1272.8,125.3 1274.3,125.4 1275.8,125.5 1277.3,125.5 1278.8,125.6 1280.3,125.7 1281.8,125.8 1283.3,125.9 1284.8,126 1286.3,126.1 1287.8,126.2 1289.3,126.2 1290.8,126.3 1292.3,126.4 1293.8,126.5 1295.3,126.5 1296.8,126.6 1298.3,126.7 1299.8,126.7 1301.3,126.8 1302.8,126.8 1304.3,126.9 1305.8,126.9 1307.3,127 1308.8,127 1310.3,127.1 1311.8,127.1 1313.3,127.1 1314.8,127.2 1316.3,127.2 1317.8,127.2 1319.3,127.3 1320.8,127.3 1322.3,127.3 1323.8,127.4 1325.3,127.4 1326.8,127.4 1328.3,127.5 1329.8,127.5 1331.3,127.5 1332.8,127.6 1334.3,127.6 1335.8,127.6 1337.3,127.7 1338.8,127.7 1340.3,127.7 1341.8,127.7 1343.3,127.8 1344.8,127.8 1346.3,127.8 1347.8,127.8 1349.3,127.9 1350.8,127.9 1352.3,127.9 1353.8,127.9 1355.3,127.9 1356.8,127.9 1358.3,128 1359.8,128 1361.3,128 1362.8,128 1364.3,128 1365.8,128 1367.3,128 1368.8,128 1370.3,128 1371.8,128 1373.3,128 1374.9,128 1376.4,128 1377.9,128 1379.4,128 1380.9,128 1382.4,128 1383.9,128 1385.4,128 1386.9,127.9 1388.4,127.9 1389.9,127.9 1391.4,127.9 1392.9,127.9 1394.4,127.9 1395.9,127.9 1397.4,127.9 1398.9,127.9 1400.4,127.8 1401.9,127.8 1403.4,127.8 1404.9,127.8 1406.4,127.8 1407.9,127.8 1409.4,127.7 1410.9,127.7 1412.4,127.7 1413.9,127.7 1415.4,127.7 1416.9,127.7 1418.4,127.6 1419.9,127.6 1421.4,127.6 1422.9,127.6 1424.4,127.6 1425.9,127.5 1427.4,127.5 1428.9,127.5 1430.4,127.5 1431.9,127.4 1433.4,127.4 1434.9,127.3 1436.4,127.3 1437.9,127.3 1439.4,127.2 1440.9,127.1 1442.4,127.1 1443.9,127 1445.4,126.9 1446.9,126.9 1448.4,126.8 1449.9,126.7 1451.4,126.6 1452.9,126.6 1454.4,126.5 1455.9,126.4 1457.4,126.3 1458.9,126.2 1460.4,126.1 1461.9,126 1463.4,125.9 1464.9,125.8 1466.4,125.7 1467.9,125.6 1469.4,125.5 1470.9,125.4 1472.4,125.3 1473.9,125.2 1475.4,125.1 1476.9,125 1478.4,124.9 1479.9,124.7 1481.4,124.6 1482.9,124.5 1484.4,124.3 1485.8,124.2 1487.3,124 1488.8,123.9 1490.3,123.7 1491.8,123.5 1493.3,123.4 1494.8,123.2 1496.3,123 1497.8,122.8 1499.3,122.6 1500.8,122.4 1502.2,122.2 1503.7,122 1505.2,121.8 1506.7,121.6 1508.2,121.3 1509.6,121 1511.1,120.8 1512.6,120.4 1514.1,120.1 1515.5,119.8 1517,119.5"/>
<polyline class="band" stroke-width="8.8" points="199,187 200.3,185.7"/>
<polyline class="band" stroke-width="9.2" points="200.3,185.7 201.7,184.7 203.2,183.9 204.8,183.4 206.5,183"/>
<polyline class="band" stroke-width="9.2" points="213,183 214.5,183.2 216,183.5 217.6,183.7 219.1,184 220.6,184.3 222.1,184.6 223.5,185 225,185.4 226.5,185.8 228,186.2"/>
</g>
<g stroke="#FFFF40" fill="#FFFF40">
<polyline class="band" stroke-width="8.8" points="750,197.5 748.5,197.7 747,198 745.5,198.2 744,198.4 742.6,198.6 741.1,198.8 739.6,199 738.1,199.2 736.6,199.4 735.1,199.5 733.6,199.6 732.1,199.7 730.6,199.9 729.1,200 727.6,200.1 726.1,200.2 724.6,200.3 723.1,200.4 721.6,200.5 720.1,200.6 718.6,200.7 717.1,200.8 715.6,200.8 714.1,200.9 712.6,201 711.1,201.1 709.6,201.1 708.1,201.2 706.6,201.3 705.1,201.3 703.6,201.4 702.1,201.4 700.6,201.5 699.1,201.5 697.6,201.6 696.1,201.6 694.6,201.7 693.1,201.7 691.6,201.8 690.1,201.8 688.6,201.8 687.1,201.9 685.6,201.9 684.1,202 682.6,202 681,202 679.5,202.1 678,202.1 676.5,202.2 675,202.2 673.5,202.2 672,202.2 670.5,202.3 669,202.3 667.5,202.3 666,202.3 664.5,202.4 663,202.4 661.5,202.4 660,202.4 658.5,202.4 657,202.4 655.5,202.4 654,202.4 652.5,202.4 651,202.4 649.5,202.4 648,202.4 646.5,202.4 645,202.4 643.5,202.4 642,202.4 640.5,202.4 639,202.3 637.5,202.3 636,202.3 634.5,202.3 632.9,202.3 631.4,202.3 629.9,202.3 628.4,202.3 626.9,202.3 625.4,202.2 623.9,202.2 622.4,202.2 620.9,202.2 619.4,202.2 617.9,202.2 616.4,202.2 614.9,202.1 613.4,202.1 611.9,202.1 610.4,202.1 608.9,202.1 607.4,202.1 605.9,202.1 604.4,202 602.9,202 601.4,202 599.9,202 598.4,202 596.9,202 595.4,202 593.9,201.9 592.4,201.9 590.9,201.9 589.4,201.9 587.9,201.9 586.3,201.9 584.8,201.8 583.3,201.8 581.8,201.8 580.3,201.8 578.8,201.8 577.3,201.8 575.8,201.7 574.3,201.7 572.8,201.7 571.3,201.7 569.8,201.7 568.3,201.7 566.8,201.6 565.3,201.6 563.8,201.6 562.3,201.6 560.8,201.6 559.3,201.5 557.8,201.5 556.3,201.5 554.8,201.5 553.3,201.5 551.8,201.4 550.3,201.4 548.8,201.4 547.3,201.4 545.8,201.3 544.3,201.3 542.8,201.3 541.3,201.3 539.8,201.2 538.2,201.2 536.7,201.2 535.2,201.1 533.7,201.1 532.2,201.1 530.7,201.1 529.2,201.1 527.7,201 526.2,201 524.7,201 523.2,201 521.7,201 520.2,201 518.7,201"/>
<polyline class="band" stroke-width="9.2" points="518.7,201 517.2,201 515.7,201 514.2,201 512.7,201 511.2,201 509.7,201 508.2,201 506.7,201 505.2,201 503.7,201 502.2,201 500.7,201 499.2,201 497.7,201 496.2,201 494.7,201 493.2,201 491.6,201 490.1,201 488.6,201 487.1,201.1 485.6,201.1 484.1,201.1 482.6,201.1 481.1,201.2 479.6,201.2 478.1,201.2 476.6,201.3 475.1,201.3 473.6,201.4 472.1,201.4 470.6,201.5 469.1,201.5 467.6,201.6 466.1,201.7 464.6,201.8 463.1,202 461.6,202.1 460.1,202.3 458.6,202.5 457.1,202.7 455.6,202.9 454.2,203.1 452.7,203.4 451.2,203.8 449.8,204.1 448.3,204.5 446.9,205 445.4,205.4 444,205.8 442.5,206.2 441.1,206.6 439.6,207.1 438.2,207.5 436.8,208 435.4,208.5 433.9,209 432.5,209.5 431.1,210 429.7,210.6 428.4,211.2 427,211.8 425.6,212.4 424.2,213 422.9,213.6 421.5,214.3 420.1,214.9 418.8,215.6 417.5,216.3 416.2,217.1 414.8,217.9 413.5,218.6 412.2,219.4 410.9,220.1 409.5,220.7 408.2,221.3 406.8,221.7 405.3,222.2 403.9,222.6 402.4,223.1 401,223.5 399.5,223.8 398,224.1 396.5,224.2 395,224.3 393.5,224.3 392,224.3 390.5,224.3 389,224.2 387.5,224.2 386,224.1 384.5,224.1 383,224 381.5,223.9 380,223.8 378.5,223.8 377,223.7 375.5,223.6 374,223.5 372.5,223.4 371,223.3 369.5,223.2 368,223 366.5,222.7 365,222.4 363.5,222.1 362,221.9 360.5,221.7 359.1,221.5 357.6,221.5 356.1,221.5 354.6,221.6 353.1,221.7 351.5,221.8 350,221.9 348.5,222 347,222.2 345.6,222.3 344.1,222.5 342.6,222.8 341.2,223.1 339.7,223.5 338.2,224 336.8,224.4 335.4,224.9 333.9,225.4 332.5,225.9 331.1,226.4 329.7,226.9 328.3,227.5 326.9,228.1 325.5,228.7 324.1,229.3 322.8,230 321.5,230.7 320.2,231.4 318.9,232.2 317.6,233 316.4,233.8 315.2,234.7 314,235.6 312.8,236.6 311.6,237.5 310.4,238.5 309.2,239.4 308,240.3 306.8,241.2 305.6,242 304.4,242.9 303.2,243.8 301.9,244.7 300.7,245.5 299.5,246.4 298.2,247.3 297,248.3 295.8,249.3 294.5,250 293.2,250.6 291.8,250.9 290.3,251.2 288.8,251.4 287.3,251.6 285.8,251.6 284.3,251.4 282.8,251.1 281.3,250.7 279.9,250.2 278.5,249.7 277.2,249.1 275.8,248.4 274.5,247.7 273.2,246.9 271.9,246.2 270.5,245.4 269.2,244.7 267.9,244 266.5,243.4 265.2,242.7 263.8,242 262.5,241.3 261.1,240.6 259.8,240 258.5,239.3 257.1,238.6 255.8,238 254.4,237.3 253.1,236.7 251.7,236 250.3,235.3 249,234.7 247.6,234.1 246.2,233.5 244.9,232.9 243.5,232.3 242.1,231.7 240.7,231.1 239.2,230.6 237.8,230.1 236.4,229.6 235,229.2 233.5,228.9 232.1,228.6 230.6,228.3 229.1,228.1 227.6,227.9 226.1,227.7 224.6,227.5 223.1,227.4 221.6,227.3 220.1,227.3 218.6,227.4 217.1,227.5 215.6,227.6 214.1,227.8 212.6,228.1 211.1,228.3 209.6,228.6 208.2,228.8 206.7,229.2 205.2,229.6 203.8,230.2 202.4,230.8 201,231.4 199.8,232.1 198.6,233 197.4,233.9 196.3,235"/>
<polyline class="band" stroke-width="8.8" points="196.3,235 195.2,236.1 194.2,237.2 193.3,238.4 192.3,239.6 191.4,240.8 190.6,242.1 189.8,243.4 189.1,244.7"/>
<polyline class="band" stroke-width="8.4" points="189.1,244.7 188.5,246 188,247.4 187.5,248.9 187,250.3 186.6,251.8 186.2,253.2 185.8,254.7 185.5,256.1 185.2,257.6 184.9,259.1 184.7,260.6 184.4,262.1 184.2,263.5 184,265 183.8,266.5 183.6,268 183.4,269.5 183.3,271 183.1,272.5 183,274 182.8,275.5 182.7,277 182.6,278.5 182.5,280 182.4,281.5 182.3,283 182.3,284.5 182.2,286"/>
<polyline class="band" stroke-width="8.4" points="183,286 183.1,284.5 183.2,283 183.2,281.5 183.3,280 183.4,278.5 183.5,276.9 183.5,275.4 183.6,273.9 183.7,272.4 183.8,270.9 183.8,269.4 183.9,267.9 184,266.4 184,264.9 184.1,263.3 184.2,261.8 184.2,260.3 184.3,258.8 184.4,257.3 184.4,255.8 184.5,254.3 184.6,252.8 184.6,251.3 184.7,249.8 184.8,248.2 184.8,246.7 184.9,245.2 185,243.7 185,242.2 185.1,240.7 185.2,239.2 185.2,237.7 185.3,236.2 185.4,234.7 185.5,233.1 185.5,231.6 185.6,230.1 185.7,228.6 185.7,227.1 185.8,225.6 185.9,224.1 186,222.6 186,221.1 186.1,219.5 186.2,218 186.3,216.5 186.3,215 186.4,213.5 186.5,212"/>
<polyline class="band" stroke-width="8.4" points="186.4,211.4 186.5,209.9 186.7,208.4 187,206.9 187.2,205.4 187.5,204 187.8,202.5 188.2,201 188.6,199.6 189.1,198.2 189.6,196.7 190.2,195.3 190.9,194"/>
<polyline class="band" stroke-width="8.8" points="190.9,194 191.8,192.8 192.8,191.7 194,190.6"/>
<polyline class="band" stroke-width="9.2" points="194,190.6 195.4,189.8 196.7,189.7 198.1,189.9 199.6,190.2 201.1,190.5 202.7,190.8 204.2,190.9 205.7,191 207.2,190.9 208.7,190.8 210.2,190.8 211.7,190.8 213.2,190.8 214.7,190.7 216.2,190.7 217.7,190.7 219.2,190.7 220.7,190.6 222.2,190.6 223.7,190.6 225.2,190.5 226.7,190.4 228.2,190.4 229.7,190.3 231.2,190.1 232.7,190 234.2,189.8 235.7,189.6 237.2,189.3 238.6,189 240.1,188.7 241.5,188.2 242.9,187.6 244.3,187 245.6,186.3 247,185.7 248.3,185 249.7,184.4 251.1,183.8 252.4,183.2 253.8,182.6 255.2,182.1 256.6,181.5 258,180.9 259.4,180.3 260.7,179.7 262.1,179.1 263.5,178.4 264.8,177.8 266.1,177.1 267.5,176.4 268.8,175.7 270.1,175 271.5,174.3 272.8,173.6 274.1,172.9 275.5,172.3 276.8,171.6 278.1,170.9 279.4,170.1 280.7,169.3 281.9,168.4 283.1,167.5 284.2,166.5 285.4,165.6 286.7,164.7 288,164 289.3,163.3 290.7,162.7 292.1,162.1 293.5,161.9 295,161.8 296.6,161.7 298.1,161.7 299.6,161.8 301.1,161.9 302.5,162.3 303.9,162.8 305.3,163.4 306.7,164 308.1,164.6 309.4,165.2 310.8,165.8 312.2,166.4 313.6,167 315,167.5 316.4,168.1 317.8,168.7 319.1,169.2 320.6,169.8 322,170.2 323.4,170.7 324.9,171.1 326.3,171.3 327.8,171.6 329.3,171.8 330.8,172 332.3,172.2 333.8,172.3 335.3,172.5 336.8,172.6 338.3,172.7 339.8,172.9 341.3,173 342.8,173.1 344.3,173.2 345.7,173.3 347.2,173.4 348.7,173.5 350.2,173.5 351.8,173.5 353.3,173.5 354.8,173.4 356.3,173.3 357.8,173.2 359.2,173.2 360.7,173.1 362.2,173 363.7,173 365.2,172.9 366.8,172.9 368.3,172.9 369.8,172.8 371.3,172.8 372.8,172.7 374.3,172.7 375.8,172.7 377.3,172.6 378.8,172.6 380.3,172.5 381.7,172.4 383.2,172.1 384.7,171.9 386.2,171.6 387.7,171.3 389.1,171 390.6,170.7 392.1,170.5 393.6,170.4 395.1,170.4 396.6,170.4 398.1,170.4 399.6,170.4 401.1,170.4 402.6,170.4 404.1,170.5 405.6,170.5 407.1,170.5 408.7,170.5 410.2,170.5 411.7,170.5 413.2,170.5 414.6,170.6 415.9,171.3 417.2,172.1 418.6,172.9 419.9,173.6 421.2,174.3 422.5,175 423.8,175.8 425,176.7 426.3,177.5 427.6,178.3 428.8,179.1 430.1,179.8 431.5,180.5 432.8,181.2 434.2,181.8 435.6,182.4 437,182.9 438.4,183.5 439.8,184 441.2,184.5 442.6,184.9 444.1,185.4 445.5,185.8 447,186.1 448.4,186.5 449.9,186.8 451.4,187.1 452.8,187.4 454.3,187.7 455.8,188 457.3,188.2 458.7,188.5 460.2,188.8 461.7,189 463.2,189.2 464.7,189.5 466.2,189.7 467.6,189.8 469.1,190 470.6,190.2 472.1,190.3 473.6,190.4 475.1,190.6 476.6,190.7 478.1,190.8 479.6,191 481.1,191.1 482.6,191.3 484.1,191.5 485.6,191.7 487,191.9 488.5,192.2 490,192.4 491.5,192.6 493,192.7 494.5,192.9 496,193 497.5,193.2 499,193.3 500.5,193.4 502,193.5 503.5,193.6 505,193.8 506.5,193.9 508,194 509.5,194.1 511,194.2 512.5,194.3 513.9,194.4 515.4,194.5 516.9,194.6 518.4,194.6 519.9,194.7 521.4,194.8"/>
<polyline class="band" stroke-width="8.8" points="521.4,194.8 522.9,194.9 524.4,194.9 525.9,195 527.4,195 528.9,195.1 530.4,195.1 531.9,195.2 533.4,195.2 534.9,195.3 536.4,195.3 537.9,195.3 539.5,195.4 541,195.4 542.5,195.4 544,195.4 545.5,195.4 547,195.5 548.5,195.5 550,195.5 551.5,195.5 553,195.6 554.5,195.6 556,195.6 557.5,195.6 559,195.6 560.5,195.7 562,195.7 563.5,195.7 565,195.7 566.5,195.8 568,195.8 569.5,195.8 571,195.8 572.5,195.9 574,195.9 575.5,195.9 577,195.9 578.5,196 580,196 581.5,196 583,196 584.5,196.1 586,196.1 587.5,196.1 589,196.1 590.5,196.2 592,196.2 593.5,196.2 595,196.2 596.5,196.3 598,196.3 599.5,196.3 601,196.3 602.5,196.3 604,196.4 605.5,196.4 607,196.4 608.5,196.4 610,196.4 611.5,196.5 613,196.5 614.5,196.5 616,196.5 617.5,196.5 619,196.5 620.5,196.5 622,196.5 623.5,196.6 625,196.6 626.5,196.6 628,196.6 629.5,196.6 631,196.6 632.5,196.6 634,196.6 635.5,196.6 637,196.6 638.5,196.6 640,196.6 641.5,196.6 643,196.6 644.5,196.6 646,196.6 647.5,196.5 649,196.5 650.5,196.5 652,196.5 653.5,196.5 655,196.4 656.5,196.4 658,196.4 659.5,196.4 661,196.3 662.5,196.3 664,196.3 665.5,196.3 667,196.2 668.5,196.2 670,196.2 671.5,196.1 673,196.1 674.5,196.1 676.1,196 677.6,196 679.1,196 680.6,195.9 682.1,195.9 683.6,195.9 685.1,195.8 686.6,195.8 688.1,195.8 689.6,195.7 691.1,195.7 692.6,195.7 694.1,195.6 695.6,195.6 697.1,195.6 698.6,195.5 700.1,195.5 701.6,195.5 703.1,195.5 704.6,195.4 706.1,195.4 707.6,195.3 709.1,195.3 710.6,195.3 712.1,195.2 713.6,195.2 715.1,195.2 716.6,195.1 718.1,195.1 719.6,195 721.1,195 722.6,195 724.1,194.9 725.6,194.9 727.1,194.9 728.6,194.8 730.1,194.8 731.6,194.7 733.1,194.7 734.6,194.7 736.1,194.6 737.6,194.6 739.1,194.6 740.6,194.5 742.1,194.5 743.6,194.4 745.1,194.4 746.6,194.4 748.1,194.4 749.6,194.3 751.1,194.3 752.6,194.3 754.1,194.2 755.6,194.2 757.1,194.2 758.6,194.2 760.1,194.1 761.6,194.1 763.1,194.1 764.6,194.1 766.1,194.1 767.6,194 769.1,194 770.6,194 772.1,194 773.6,194 775.1,194 776.6,193.9 778.1,193.9 779.6,193.9 781.1,193.9 782.6,193.9 784.1,193.9 785.6,193.9 787.1,193.8 788.6,193.8 790.1,193.8 791.6,193.8 793.1,193.8 794.6,193.8 796.1,193.8 797.6,193.7 799.1,193.7 800.6,193.7 802.1,193.7 803.6,193.7 805.1,193.7 806.6,193.6 808.1,193.6 809.6,193.6 811.1,193.6 812.6,193.6 814.1,193.5 815.6,193.5 817.1,193.5 818.6,193.5 820.1,193.5 821.6,193.4 823.1,193.4 824.6,193.4 826.1,193.3 827.6,193.3 829.2,193.3 830.7,193.2 832.2,193.2 833.7,193.1 835.2,193.1 836.7,193 838.2,192.9 839.6,192.8 841.1,192.7 842.6,192.6 844.1,192.5 845.6,192.4 847.1,192.2 848.6,192.1 850.1,191.9 851.6,191.8 853.1,191.6 854.6,191.4 856.1,191.2 857.6,191.1 859.1,190.9 860.6,190.7 862,190.5 863.5,190.3 865,190.1 866.5,189.9 868,189.7 869.5,189.5 871,189.3 872.5,189.1 874,189 875.4,188.8 876.9,188.6 878.4,188.4 879.9,188.2 881.4,188 882.9,187.8 884.4,187.6 885.9,187.4 887.4,187.2 888.8,187 890.3,186.8 891.8,186.6 893.3,186.4 894.8,186.1 896.3,185.9 897.7,185.6 899.2,185.3 900.7,185 902.2,184.7 903.7,184.4 905.1,184.1 906.6,183.7 908.1,183.3 909.5,182.9 910.9,182.4 912.2,181.9 913.6,181.3 914.9,180.6 916.2,179.9 917.5,179.1 918.8,178.2 920.1,177.3 921.3,176.4 922.5,175.5 923.7,174.5 924.9,173.5 926,172.5 927.1,171.5 928.1,170.5 929.1,169.5 930.1,168.4 931,167.3 932,166.1 932.9,164.9 933.8,163.7 934.7,162.5 935.5,161.2 936.4,160 937.2,158.7 938.1,157.4 938.9,156.1 939.7,154.8 940.5,153.6 941.4,152.3 942.2,151 943,149.7 943.9,148.5 944.7,147.2 945.5,145.9 946.2,144.6 947,143.3 947.8,142 948.5,140.7 949.3,139.4 950,138.1 950.8,136.8 951.6,135.5 952.4,134.2 953.3,133 954.1,131.8 955,130.7 956,129.5 956.9,128.4 957.9,127.2 959,126.1 960.1,124.9 961.2,123.8 962.3,122.7 963.4,121.8 964.6,120.9 965.8,120 967.1,119.4 968.4,118.7 969.7,118.1 971.1,117.5 972.6,117 974.1,116.5 975.6,116.1 977.1,115.8 978.5,115.6 980,115.6 981.4,115.7 982.9,116 984.4,116.4 985.8,116.8 987.3,117.3 988.8,117.7 990.2,118.2 991.6,118.7 993.1,119.1 994.5,119.6 995.9,120.1 997.3,120.7 998.7,121.3 1000,121.8 1001.4,122.4 1002.8,123 1004.2,123.6 1005.6,124.2 1007,124.8 1008.3,125.4 1009.7,126 1011.1,126.5 1012.5,127 1014,127.6 1015.4,128.1 1016.8,128.7 1018.2,129.3 1019.6,129.8 1021,130.4 1022.4,130.9 1023.8,131.4 1025.2,131.9 1026.7,132.3 1028.1,132.8 1029.5,133.2 1031,133.5 1032.4,133.8 1033.9,134.1 1035.3,134.4 1036.8,134.8 1038.3,135.1 1039.8,135.3 1041.3,135.6 1042.8,135.9 1044.3,136.1 1045.8,136.3 1047.3,136.4 1048.8,136.5 1050.3,136.6 1051.7,136.6 1053.2,136.6 1054.7,136.6 1056.2,136.6 1057.7,136.6 1059.2,136.6 1060.7,136.6 1062.2,136.6 1063.7,136.6 1065.2,136.6 1066.7,136.6 1068.2,136.6 1069.7,136.6 1071.2,136.6 1072.7,136.6 1074.2,136.6 1075.8,136.6 1077.3,136.6 1078.8,136.6 1080.3,136.6 1081.8,136.6 1083.3,136.6 1084.8,136.6 1086.3,136.6 1087.8,136.6 1089.3,136.6 1090.8,136.6 1092.3,136.6 1093.8,136.6 1095.3,136.6 1096.8,136.5 1098.3,136.5 1099.8,136.4 1101.3,136.3 1102.8,136.2 1104.3,136.1 1105.8,136 1107.3,135.9 1108.8,135.8 1110.3,135.6 1111.8,135.5 1113.3,135.4 1114.7,135.2 1116.2,135.1 1117.7,134.9 1119.2,134.8 1120.7,134.6 1122.2,134.5 1123.7,134.3 1125.2,134.2 1126.7,134 1128.2,133.9 1129.7,133.8 1131.2,133.6 1132.7,133.5 1134.2,133.3 1135.7,133.2 1137.2,133 1138.7,132.9 1140.2,132.7 1141.7,132.6 1143.1,132.4 1144.6,132.2 1146.1,132 1147.6,131.9 1149.1,131.7 1150.6,131.5 1152.1,131.3 1153.6,131.2 1155.1,131 1156.6,130.8 1158.1,130.6 1159.6,130.5 1161,130.3 1162.5,130.2 1164,130 1165.5,129.9 1167,129.7 1168.5,129.6 1170,129.5 1171.5,129.3 1173,129.2 1174.5,129 1176,128.9 1177.5,128.8 1179,128.6 1180.5,128.5 1182,128.3 1183.5,128.2 1185,128 1186.5,127.9 1188,127.7 1189.5,127.6 1191,127.4 1192.5,127.3 1193.9,127.1 1195.4,127 1196.9,126.9 1198.4,126.7 1199.9,126.6 1201.4,126.5 1202.9,126.3 1204.4,126.2 1205.9,126.1 1207.4,126 1208.9,125.8 1210.4,125.7 1211.9,125.6 1213.4,125.5 1214.9,125.4 1216.4,125.3 1217.9,125.2 1219.4,125.1 1220.9,125.1 1222.4,125 1223.9,124.9 1225.4,124.8 1226.9,124.8 1228.4,124.7 1229.9,124.7 1231.4,124.7 1232.9,124.6 1234.4,124.6 1235.9,124.6 1237.4,124.6 1238.9,124.6 1240.4,124.6 1241.9,124.6 1243.4,124.7 1244.9,124.7 1246.4,124.7 1247.9,124.8 1249.4,124.8 1250.9,124.9 1252.4,125 1253.9,125 1255.4,125.1 1256.9,125.2 1258.4,125.3 1259.9,125.4 1261.4,125.5 1262.9,125.6 1264.4,125.7 1265.9,125.8 1267.4,125.9 1268.9,126 1270.4,126.1 1271.9,126.2 1273.4,126.3 1274.9,126.4 1276.4,126.5 1277.9,126.7 1279.3,126.8 1280.8,126.9 1282.3,127 1283.8,127.1 1285.3,127.2 1286.8,127.3 1288.3,127.5 1289.8,127.6 1291.3,127.7 1292.8,127.8 1294.3,127.9 1295.8,128 1297.3,128.1 1298.8,128.2 1300.3,128.2 1301.8,128.3 1303.3,128.4 1304.8,128.5 1306.3,128.6 1307.8,128.6 1309.3,128.7 1310.8,128.7 1312.3,128.8 1313.8,128.9 1315.3,128.9 1316.8,129 1318.3,129.1 1319.8,129.1 1321.3,129.2 1322.8,129.3 1324.3,129.4 1325.8,129.4 1327.3,129.5 1328.8,129.6 1330.3,129.6 1331.8,129.7 1333.3,129.7 1334.8,129.8 1336.3,129.9 1337.8,129.9 1339.3,130 1340.8,130 1342.3,130.1 1343.8,130.2 1345.3,130.2 1346.8,130.3 1348.3,130.3 1349.8,130.3 1351.3,130.4 1352.8,130.4 1354.3,130.5 1355.8,130.5 1357.3,130.5 1358.8,130.5 1360.3,130.6 1361.9,130.6 1363.4,130.6 1364.9,130.6 1366.4,130.6 1367.9,130.6 1369.4,130.6 1370.9,130.6 1372.4,130.6 1373.9,130.6 1375.4,130.6 1376.9,130.6 1378.4,130.6 1379.9,130.6 1381.4,130.6 1382.9,130.6 1384.4,130.6 1385.9,130.6 1387.4,130.6 1388.9,130.6 1390.4,130.6 1391.9,130.6 1393.4,130.6 1394.9,130.6 1396.4,130.6 1397.9,130.6 1399.4,130.6 1400.9,130.6 1402.4,130.6 1403.9,130.6 1405.4,130.6 1406.9,130.6 1408.4,130.6 1409.9,130.6 1411.4,130.6 1412.9,130.6 1414.4,130.6 1415.9,130.6 1417.4,130.6 1418.9,130.6 1420.4,130.6 1421.9,130.6 1423.4,130.6 1424.9,130.6 1426.4,130.6 1427.9,130.6 1429.4,130.6 1430.9,130.6 1432.4,130.6 1433.9,130.5 1435.4,130.5 1436.9,130.5 1438.4,130.4 1439.9,130.4 1441.4,130.3 1442.9,130.2 1444.4,130.2 1445.9,130.1 1447.4,130 1448.9,130 1450.4,129.9 1451.9,129.8 1453.4,129.7 1454.9,129.6 1456.4,129.5 1457.9,129.4 1459.4,129.3 1460.9,129.2 1462.4,129.2 1463.9,129.1 1465.4,129 1466.9,128.9 1468.4,128.8 1469.9,128.7 1471.4,128.6 1472.9,128.5 1474.4,128.4 1475.9,128.2 1477.4,128.1 1478.9,128 1480.4,127.9 1481.9,127.8 1483.4,127.6 1484.9,127.5 1486.4,127.3 1487.9,127.2 1489.4,127 1490.9,126.9 1492.4,126.7 1493.9,126.5 1495.3,126.3 1496.8,126.1 1498.3,125.9 1499.8,125.7 1501.3,125.5 1502.8,125.3 1504.2,125.1 1505.7,124.8 1507.2,124.5 1508.6,124.1 1510.1,123.8 1511.5,123.4 1513,123 1514.4,122.6 1515.9,122.2"/>
</g>
<g stroke="#808000" fill="#808000">
<polyline class="band" stroke-width="8.4" points="1516.5,123 1516.2,124.5 1515.8,126 1515.5,127.4 1515.1,128.9 1514.6,130.3 1514.2,131.8 1513.7,133.2 1513.2,134.6 1512.7,136 1512.2,137.4 1511.7,138.8 1511.1,140.2 1510.5,141.5 1509.9,142.9 1509.2,144.3"/>
<polyline class="band" stroke-width="8.8" points="1509.2,144.3 1508.5,145.6 1507.8,146.9 1507,148.2 1506.3,149.5 1505.5,150.8 1504.7,152.1 1503.9,153.4 1503.1,154.6 1502.2,155.9 1501.3,157.1 1500.4,158.3 1499.4,159.5 1498.4,160.6 1497.4,161.6 1496.3,162.6 1495.2,163.5"/>
<polyline class="band" stroke-width="9.2" points="1495.2,163.5 1493.9,164.3 1492.6,165.1 1491.3,165.9 1490,166.7 1488.7,167.5 1487.5,168.3 1486.3,169.2 1485.1,170.1 1483.8,171 1482.6,171.9 1481.4,172.8 1480.2,173.6 1478.9,174.4 1477.6,175.2 1476.3,175.9 1475,176.7 1473.7,177.4 1472.3,178 1471,178.7 1469.6,179.3 1468.2,179.9 1466.9,180.5 1465.5,181 1464.1,181.6 1462.7,182.1 1461.3,182.6 1459.8,183.1 1458.4,183.6 1457,184.1 1455.5,184.6 1454.1,185 1452.6,185.4 1451.2,185.7 1449.7,186.1 1448.3,186.4 1446.8,186.6 1445.4,186.9 1443.9,187.2 1442.4,187.4 1440.9,187.6 1439.4,187.8 1437.9,188 1436.4,188.3 1435,188.5 1433.5,188.7 1432,188.9 1430.5,189.1 1429,189.3 1427.5,189.5 1426,189.7 1424.5,189.9 1423,190.1 1421.6,190.3 1420.1,190.5 1418.6,190.7 1417.1,190.9 1415.6,191.1 1414.1,191.3 1412.6,191.5 1411.1,191.6 1409.7,191.8 1408.2,192 1406.7,192.2 1405.2,192.4 1403.7,192.6 1402.2,192.7 1400.7,192.9 1399.2,193.1 1397.7,193.3 1396.2,193.4 1394.8,193.6 1393.3,193.8 1391.8,194 1390.3,194.2 1388.8,194.3 1387.3,194.5 1385.8,194.7 1384.3,194.8 1382.8,195 1381.3,195.2 1379.8,195.3 1378.4,195.5 1376.9,195.6 1375.4,195.8 1373.9,195.9 1372.4,196.1 1370.9,196.2 1369.4,196.3 1367.9,196.4 1366.4,196.5 1364.9,196.6 1363.4,196.7 1361.9,196.8 1360.4,196.9 1358.9,197 1357.4,197.1 1355.9,197.2 1354.4,197.3 1352.9,197.4 1351.4,197.5 1349.9,197.5 1348.4,197.6 1346.9,197.7 1345.4,197.8 1343.9,197.9 1342.4,197.9 1340.9,198 1339.5,198.1 1338,198.2 1336.5,198.2 1335,198.3 1333.5,198.4 1332,198.4 1330.5,198.5 1329,198.6 1327.5,198.6 1326,198.7 1324.5,198.8 1323,198.8 1321.5,198.9 1320,198.9 1318.5,199 1317,199.1 1315.5,199.1 1314,199.2 1312.5,199.2 1311,199.3 1309.5,199.3 1308,199.4 1306.5,199.5 1305,199.5 1303.5,199.6 1302,199.6 1300.5,199.7 1299,199.7 1297.5,199.8 1296,199.8 1294.5,199.9 1293,199.9 1291.5,200 1290,200 1288.5,200.1 1287,200.1 1285.5,200.1 1284,200.2 1282.5,200.2 1281,200.3 1279.5,200.3 1278,200.4 1276.5,200.4 1275,200.4 1273.5,200.5 1272,200.5 1270.5,200.6 1269,200.6 1267.5,200.6 1266,200.7 1264.5,200.7 1263,200.8 1261.5,200.8 1260,200.8 1258.5,200.9 1257,200.9 1255.5,201 1254,201 1252.5,201 1251,201.1 1249.5,201.1 1248,201.1 1246.5,201.2 1245,201.2 1243.5,201.3 1242,201.3 1240.5,201.3 1239,201.4 1237.5,201.4 1236,201.5 1234.5,201.5 1233,201.5 1231.5,201.6 1230,201.6 1228.5,201.6 1227,201.7 1225.5,201.7 1224,201.7 1222.5,201.7 1221,201.8 1219.5,201.8 1218,201.8 1216.5,201.9 1215,201.9 1213.5,201.9 1212,201.9 1210.5,202 1209,202 1207.5,202 1206,202 1204.5,202.1 1203,202.1 1201.5,202.1 1200,202.2 1198.5,202.2 1197,202.2 1195.5,202.3 1194,202.3 1192.5,202.3 1191,202.3 1189.5,202.4 1188,202.4 1186.5,202.5 1185,202.5 1183.5,202.5 1182,202.6 1180.5,202.6 1179,202.6 1177.5,202.7 1176,202.7 1174.5,202.8 1173,202.8 1171.5,202.9 1170,202.9 1168.5,203 1167,203 1165.5,203.1 1164,203.2 1162.5,203.2 1161,203.3 1159.5,203.4 1158,203.5 1156.5,203.6 1155,203.7 1153.5,203.8 1152,203.9 1150.5,204 1149,204.1 1147.5,204.2 1146,204.3 1144.5,204.4 1143,204.5 1141.5,204.7 1140,204.8 1138.6,204.9 1137.1,205.1 1135.6,205.2 1134.1,205.3 1132.6,205.5 1131.1,205.6 1129.6,205.8 1128.1,205.9 1126.6,206.1 1125.1,206.2 1123.6,206.4 1122.1,206.5 1120.6,206.7 1119.1,206.9 1117.6,207 1116.1,207.2 1114.6,207.3 1113.2,207.5 1111.7,207.7 1110.2,207.8 1108.7,208 1107.2,208.2 1105.7,208.4 1104.2,208.5 1102.7,208.7 1101.2,208.9 1099.7,209 1098.3,209.2 1096.8,209.4 1095.3,209.6 1093.8,209.8 1092.3,210 1090.8,210.2 1089.3,210.4 1087.9,210.6 1086.4,210.8 1084.9,211 1083.4,211.3 1081.9,211.5 1080.4,211.7 1079,211.9 1077.5,212.2 1076,212.4 1074.5,212.7 1073,212.9 1071.5,213.1 1070.1,213.4 1068.6,213.6 1067.1,213.9 1065.6,214.1 1064.1,214.3 1062.7,214.6 1061.2,214.8 1059.7,215 1058.2,215.3 1056.7,215.5 1055.2,215.7 1053.8,216 1052.3,216.2 1050.8,216.4 1049.3,216.7 1047.8,216.9 1046.3,217.1 1044.8,217.3 1043.4,217.6 1041.9,217.8 1040.4,218 1038.9,218.3 1037.4,218.5 1035.9,218.7 1034.5,219 1033,219.2 1031.5,219.5 1030,219.7 1028.5,220 1027.1,220.2 1025.6,220.5 1024.1,220.7 1022.6,221 1021.2,221.3 1019.7,221.6 1018.2,221.8 1016.8,222.1 1015.3,222.4 1013.8,222.7 1012.4,223.1 1010.9,223.4 1009.4,223.7 1008,224 1006.5,224.4 1005.1,224.7 1003.6,225.1 1002.1,225.5 1000.7,225.8 999.2,226.2 997.8,226.6 996.3,227 994.9,227.4 993.4,227.8 992,228.2 990.5,228.6 989.1,229 987.6,229.4 986.2,229.8 984.8,230.3 983.3,230.7 981.9,231.1 980.5,231.6 979,232 977.6,232.5 976.2,232.9 974.7,233.4 973.3,233.8 971.9,234.3 970.5,234.8 969,235.3 967.6,235.8 966.2,236.3 964.8,236.8 963.4,237.3 961.9,237.8 960.5,238.3 959.1,238.9 957.7,239.4 956.3,240 954.9,240.5 953.6,241.1 952.2,241.7 950.8,242.3 949.4,242.9 948.1,243.5 946.7,244.1 945.4,244.8 944,245.4 942.7,246.1 941.4,246.8 940,247.5 938.7,248.2 937.4,249 936.1,249.8 934.8,250.5 933.5,251.3 932.3,252.1 931,252.9 929.7,253.7 928.5,254.5 927.2,255.3 926,256.2 924.7,257 923.5,257.9 922.3,258.8 921.1,259.7 919.9,260.6 918.8,261.6 917.6,262.5"/>
<polyline class="band" stroke-width="8.8" points="917.6,262.5 916.5,263.5 915.3,264.5 914.2,265.5 913.1,266.5 912,267.5 910.9,268.6 909.9,269.6 908.8,270.7 907.8,271.8 906.8,272.9 905.8,274 904.8,275.2 903.8,276.3 902.9,277.5 901.9,278.6 901,279.8 900,281 899.1,282.1 898.2,283.3 897.2,284.5 896.3,285.7 895.4,286.9 894.5,288 893.6,289.2 892.7,290.5 891.8,291.7 890.9,292.9 890.1,294.1 889.3,295.4 888.4,296.6 887.6,297.9 886.8,299.2 886,300.4 885.3,301.7 884.5,303 883.7,304.3 883,305.6 882.3,307 881.6,308.3 880.9,309.6 880.2,310.9 879.6,312.3 878.9,313.6"/>
<polyline class="band" stroke-width="8.4" points="878.9,313.6 878.3,315 877.6,316.4 877,317.7 876.4,319.1 875.8,320.5 875.2,321.8 874.6,323.2 874.1,324.6 873.5,326 872.9,327.4 872.4,328.8 871.9,330.2 871.3,331.6 870.8,333 870.3,334.4 869.8,335.8 869.3,337.2 868.8,338.7 868.3,340.1 867.8,341.5 867.3,342.9 866.8,344.3 866.3,345.8 865.9,347.2 865.4,348.6 864.9,350 864.4,351.5 864,352.9 863.5,354.3 863,355.7 862.6,357.1 862.1,358.6 861.6,360 861.1,361.4 860.7,362.9 860.2,364.3 859.8,365.7 859.3,367.1 858.8,368.6 858.4,370 857.9,371.4 857.5,372.9 857,374.3 856.6,375.7 856.1,377.1 855.7,378.6 855.3,380 854.8,381.5 854.4,382.9 854,384.3 853.5,385.8 853.1,387.2 852.7,388.6 852.2,390.1 851.8,391.5 851.4,392.9 850.9,394.4 850.4,395.8 850,397.2 849.5,398.7 849,400.1 848.6,401.5 848.1,402.9 847.6,404.3 847.1,405.8 846.6,407.2 846.1,408.6 845.6,410 845.1,411.4 844.6,412.8 844.1,414.3 843.7,415.7 843.2,417.1 842.7,418.5 842.2,419.9 841.8,421.4 841.3,422.8 840.8,424.2 840.4,425.7 840,427.1 839.6,428.6 839.2,430 838.8,431.5 838.4,433 838.1,434.4 837.7,435.9 837.3,437.4 836.9,438.8 836.5,440.3 836,441.7 835.6,443.1 835.1,444.5 834.6,445.9 834.1,447.3 833.5,448.7 832.9,450 832.3,451.4"/>
<polyline class="band" stroke-width="8.8" points="832.3,451.4 831.6,452.7 830.8,454.1 830,455.4 829.2,456.7 828.3,457.9 827.4,459 826.4,460.1 825.3,461.2 824.1,462.2"/>
<polyline class="band" stroke-width="9.2" points="824.1,462.2 822.9,462.9 821.4,463.4 819.9,463.7 818.5,463.8 816.9,463.5 815.5,463 814.2,462.4 813.1,461.4"/>
<polyline class="band" stroke-width="8.8" points="813.1,461.4 812,460.2 811.2,459 810.4,457.8 809.6,456.5 808.9,455.2 808.2,453.8"/>
<polyline class="band" stroke-width="8.4" points="808.2,453.8 807.6,452.4 807,451 806.4,449.6 805.9,448.2 805.3,446.8 804.8,445.4 804.3,444 803.8,442.6 803.3,441.2 802.8,439.8 802.3,438.4 801.9,436.9 801.4,435.5 800.9,434.1 800.5,432.6 800.1,431.2 799.6,429.7 799.2,428.3 798.8,426.9 798.3,425.4 797.9,424 797.4,422.6 797,421.1 796.6,419.7 796.2,418.2 795.7,416.8 795.3,415.4 794.9,413.9 794.5,412.5 794.1,411 793.7,409.6 793.3,408.1 792.9,406.7 792.5,405.2 792.1,403.8 791.7,402.4 791.3,400.9 790.9,399.5 790.5,398 790.1,396.6 789.6,395.1 789.2,393.7 788.8,392.3 788.3,390.8 787.9,389.4 787.5,388 787,386.5 786.6,385.1 786.1,383.7 785.6,382.2 785.2,380.8 784.7,379.4 784.3,378 783.8,376.5 783.3,375.1 782.9,373.7 782.4,372.3 781.9,370.8 781.5,369.4 781,368 780.5,366.6 780,365.1 779.6,363.7 779.1,362.3 778.6,360.9 778.2,359.4 777.7,358 777.2,356.6 776.8,355.2 776.3,353.7 775.8,352.3 775.3,350.9 774.9,349.5 774.4,348 773.9,346.6 773.4,345.2 772.9,343.8 772.4,342.4 771.9,340.9 771.4,339.5 770.9,338.1 770.4,336.7 769.9,335.3 769.4,333.9 768.9,332.5 768.4,331.1 767.8,329.7 767.3,328.3 766.7,326.9 766.2,325.5 765.6,324.1 765.1,322.7 764.5,321.3 763.9,319.9 763.4,318.5 762.8,317.2 762.2,315.8 761.6,314.4 761,313 760.4,311.6 759.9,310.2 759.3,308.9 758.7,307.5 758.1,306.1 757.5,304.7 757,303.3 756.4,301.9 755.8,300.5 755.3,299.2 754.7,297.8 754.1,296.4 753.6,295 753,293.6 752.5,292.2 751.9,290.8 751.3,289.4 750.8,288 750.2,286.6 749.6,285.3 749,283.9 748.3,282.5 747.7,281.2 747.1,279.8 746.4,278.5 745.8,277.1"/>
<polyline class="band" stroke-width="8.8" points="745.8,277.1 745.1,275.8 744.4,274.4 743.7,273.1 743,271.8 742.2,270.5 741.4,269.2 740.6,268 739.8,266.7 738.9,265.5 738,264.3 737.1,263.1 736.2,261.9 735.2,260.7 734.2,259.6 733.2,258.5 732.2,257.4 731.2,256.3 730.1,255.2 729,254.2 727.9,253.2 726.7,252.3"/>
<polyline class="band" stroke-width="9.2" points="726.7,252.3 725.6,251.4 724.4,250.4 723.1,249.6 721.9,248.7 720.6,247.9 719.4,247 718.1,246.3 716.8,245.5 715.5,244.8 714.2,244.1 712.9,243.4 711.5,242.7 710.2,242.1 708.8,241.4 707.5,240.8 706.1,240.2 704.7,239.6 703.3,239 701.9,238.4 700.5,237.9 699.1,237.3 697.7,236.7 696.3,236.2 694.9,235.6 693.5,235.1 692.1,234.6 690.7,234 689.3,233.5 687.9,232.9 686.5,232.4 685.1,231.8 683.7,231.3 682.3,230.7 680.9,230.2 679.5,229.7 678.1,229.1 676.7,228.6 675.3,228.1 673.8,227.6 672.4,227.1 671,226.7 669.6,226.2 668.1,225.8 666.7,225.4 665.2,225.1 663.8,224.7 662.3,224.4 660.9,224.1 659.4,223.7 658,223.4 656.5,223.1 655,222.9 653.5,222.6 652,222.3 650.6,222.1 649.1,221.8 647.6,221.6 646.1,221.3 644.6,221.1 643.1,220.9 641.6,220.7 640.1,220.5 638.7,220.3 637.2,220.2 635.7,220 634.2,219.8 632.7,219.7 631.2,219.5 629.7,219.3 628.2,219.2 626.7,219.1 625.3,218.9 623.8,218.8 622.3,218.7 620.8,218.5 619.3,218.4 617.8,218.3 616.3,218.1 614.8,218 613.3,217.9 611.8,217.8 610.3,217.6 608.8,217.5 607.3,217.4 605.8,217.3 604.3,217.2 602.8,217 601.3,216.9 599.8,216.8 598.3,216.6 596.8,216.5 595.3,216.3 593.8,216.2 592.4,216 590.9,215.9 589.4,215.8 587.9,215.6 586.4,215.5 584.9,215.3 583.4,215.2 581.9,215 580.4,214.9 578.9,214.8 577.4,214.6 575.9,214.5 574.4,214.3 572.9,214.2 571.4,214 570,213.9 568.5,213.7 567,213.6 565.5,213.4 564,213.3 562.5,213.1 561,212.9 559.5,212.8 558,212.6 556.5,212.5 555,212.3 553.5,212.1 552.1,211.9 550.6,211.7 549.1,211.5 547.6,211.3 546.1,211.1 544.6,210.9 543.1,210.7 541.6,210.5 540.2,210.3 538.7,210.1 537.2,209.9 535.7,209.8 534.2,209.6 532.7,209.5 531.2,209.4 529.7,209.3 528.2,209.2 526.7,209.1 525.2,209 523.7,208.9 522.2,208.9 520.7,208.8 519.2,208.7"/>
<polyline class="band" stroke-width="9.6" points="519.2,208.7 517.7,208.6 516.2,208.6 514.7,208.5 513.2,208.4 511.7,208.4 510.2,208.3 508.7,208.2 507.2,208.2 505.7,208.1 504.2,208.1 502.7,208.1 501.2,208 499.7,208 498.2,208 496.7,207.9 495.2,207.9 493.7,207.9 492.2,207.8 490.7,207.8 489.2,207.8 487.7,207.8 486.2,207.7 484.7,207.7 483.2,207.7 481.7,207.7 480.2,207.7 478.7,207.6 477.2,207.6 475.7,207.6 474.2,207.6 472.7,207.6 471.2,207.6 469.7,207.6 468.2,207.6 466.7,207.6 465.2,207.7 463.7,207.7 462.2,207.7 460.7,207.8 459.2,207.8 457.7,207.9 456.2,208 454.7,208.1 453.3,208.3 451.8,208.6 450.3,208.9 448.8,209.2 447.4,209.6 445.9,209.9 444.5,210.3 443,210.6 441.5,210.9 440.1,211.3 438.6,211.7 437.1,212.1 435.7,212.5 434.3,212.9 432.9,213.4 431.5,213.9 430.1,214.4 428.7,215 427.3,215.6 426,216.3 424.6,217 423.3,217.6 421.9,218.3 420.5,218.9 419.2,219.6 417.8,220.3 416.5,221 415.2,221.7 413.8,222.4 412.5,223.1 411.1,223.7 409.7,224.3 408.3,224.8 406.9,225.1 405.5,225.5 404,225.8 402.5,226 401,226.2 399.5,226.3 398,226.4 396.5,226.5 395,226.5 393.5,226.5 392,226.6 390.5,226.6 389,226.6 387.5,226.6 386,226.5 384.5,226.5 383,226.4 381.5,226.3 380,226.2 378.5,226.1 377,225.9 375.5,225.8 374,225.7 372.5,225.6 371,225.5 369.5,225.3 368,225.2 366.5,225.1 365,224.9 363.6,224.8 362.1,224.7 360.6,224.6 359.1,224.5 357.6,224.5 356.1,224.6 354.6,224.7 353.1,224.9 351.6,225.1 350.1,225.4 348.6,225.7 347.2,226.1 345.7,226.4 344.3,226.7 342.8,227.1 341.4,227.6 340,228.1 338.6,228.7 337.2,229.2 335.8,229.8 334.4,230.4 333,231 331.6,231.6 330.2,232.1 328.9,232.7 327.5,233.3 326.1,233.9 324.7,234.6 323.4,235.2 322,235.9 320.7,236.6 319.4,237.3 318.2,238.1 317,239 315.8,239.9"/>
<polyline class="band" stroke-width="9.2" points="315.8,239.9 314.6,240.8 313.4,241.7 312.2,242.7 311,243.6 309.9,244.6 308.7,245.5 307.5,246.4 306.3,247.3 305.1,248.2 303.8,249.1 302.6,250 301.4,250.9 300.3,251.8 299.1,252.7 298,253.7 296.9,254.8 295.7,255.8 294.6,256.7 293.4,257.6 292.2,258.5 290.9,259.5 289.6,260.4"/>
<polyline class="band" stroke-width="9.6" points="289.6,260.4 288.3,261.1 286.9,261.3 285.5,261.2 283.9,261 282.4,260.7 281,260.3 279.6,259.9 278.2,259.4 276.9,258.6 275.6,257.9 274.3,257 273,256.2 271.8,255.3 270.4,254.6 269.1,253.9 267.8,253.2 266.5,252.4 265.2,251.7 263.8,251 262.5,250.3 261.2,249.6 259.8,249 258.5,248.3 257.1,247.7 255.7,247.1 254.4,246.5 253,246 251.6,245.4 250.2,244.9 248.8,244.3 247.4,243.8 246,243.2 244.6,242.7 243.2,242.1 241.8,241.6 240.4,241 239,240.5 237.6,240 236.2,239.5 234.7,239 233.3,238.5 231.9,238.1 230.4,237.6 229,237.1 227.5,236.6 226.1,236.2 224.6,235.9 223.2,235.6 221.7,235.4 220.2,235.4 218.7,235.4 217.2,235.5 215.7,235.5 214.2,235.6 212.7,235.7 211.2,235.8 209.7,235.9 208.2,236 206.8,236.3 205.3,236.7 203.9,237.2 202.4,237.8 201.1,238.5 199.8,239.1 198.5,239.9 197.3,240.8"/>
<polyline class="band" stroke-width="9.2" points="197.3,240.8 196.2,241.8 195.2,242.9"/>
<polyline class="band" stroke-width="8.8" points="195.2,242.9 194.3,244.1 193.4,245.4 192.7,246.7 192,248.1 191.4,249.4"/>
<polyline class="band" stroke-width="8.4" points="191.4,249.4 190.8,250.8 190.2,252.2 189.7,253.6 189.3,255.1 188.9,256.5 188.5,257.9 188.1,259.4 187.7,260.8 187.4,262.3 187.1,263.8 186.7,265.2 186.4,266.7 186,268.2 185.7,269.6 185.4,271.1 185.2,272.6 184.9,274.1 184.7,275.5 184.5,277 184.4,278.5 184.2,280 184,281.5 183.9,283 183.8,284.5 183.7,286"/>
<polyline class="band" stroke-width="8.4" points="183.7,286 183.8,284.5 183.9,283 183.9,281.5 184,280 184.1,278.5 184.2,277 184.2,275.5 184.3,274 184.4,272.5 184.5,271 184.5,269.5 184.6,268 184.7,266.5 184.7,265 184.8,263.5 184.9,262 184.9,260.5 185,259 185.1,257.5 185.1,256 185.2,254.5 185.3,253 185.3,251.5 185.4,250 185.5,248.5 185.5,247 185.6,245.5 185.7,244 185.7,242.5 185.8,241 185.9,239.5 185.9,238 186,236.5 186.1,235 186.1,233.5 186.2,232 186.3,230.5 186.3,229 186.4,227.5 186.5,226 186.5,224.5 186.6,223 186.7,221.5 186.7,220 186.8,218.5 186.9,217 187,215.5 187.1,214 187.2,212.5 187.3,211 187.5,209.5 187.7,208 187.9,206.5 188.2,205.1 188.5,203.6 188.8,202.1 189.3,200.7 189.7,199.3 190.2,197.8 190.8,196.4 191.5,195"/>
<polyline class="band" stroke-width="8.8" points="191.5,195 192.3,193.8 193.2,192.7"/>
<polyline class="band" stroke-width="9.2" points="193.2,192.7 194.4,191.6 195.7,190.7"/>
<polyline class="band" stroke-width="9.6" points="195.7,190.7 197.1,190.3 198.5,190.1 199.9,190 201.4,189.9 203,189.8 204.5,189.8 206.1,189.7 207.6,189.7 209.1,189.6 210.6,189.6 212.1,189.6 213.6,189.6 215.1,189.5 216.6,189.5 218.1,189.5 219.6,189.5 221.1,189.4 222.6,189.4 224.1,189.4 225.6,189.3 227.1,189.2 228.6,189.1 230.1,189 231.6,188.9 233.1,188.7 234.6,188.5 236.1,188.3 237.6,188.1 239,187.8 240.4,187.4 241.8,186.9 243.2,186.3 244.6,185.7 245.9,185 247.3,184.3 248.7,183.6 250.1,183 251.4,182.4 252.8,181.8 254.2,181.3 255.6,180.7 257,180.1 258.4,179.5 259.8,178.9 261.1,178.3 262.5,177.7 263.8,177.1 265.2,176.4 266.5,175.7 267.8,175 269.2,174.3 270.5,173.6 271.8,172.9 273.2,172.2 274.5,171.5 275.9,170.9 277.2,170.2 278.5,169.5 279.8,168.7 281.1,167.9"/>
<polyline class="band" stroke-width="9.2" points="281.1,167.9 282.3,167 283.4,166 284.6,165 285.8,164 287,163.2"/>
<polyline class="band" stroke-width="9.6" points="287,163.2 288.3,162.5 289.7,161.9 291.1,161.4 292.6,160.9 294,160.6 295.5,160.5 297,160.5 298.5,160.6 300,160.7 301.5,160.8 302.9,161.2 304.3,161.8 305.7,162.4 307.1,163 308.5,163.6 309.9,164.2 311.3,164.8 312.6,165.4 314,165.9 315.4,166.5 316.8,167.1 318.2,167.7 319.6,168.2 321.1,168.7 322.5,169.2 323.9,169.6 325.4,170 326.8,170.2 328.3,170.4 329.8,170.6 331.3,170.8 332.8,171 334.3,171.2 335.8,171.3 337.3,171.4 338.8,171.6 340.3,171.7 341.8,171.8 343.3,172 344.8,172.1 346.3,172.2 347.8,172.2 349.3,172.3 350.8,172.3 352.3,172.3 353.8,172.2 355.3,172.2 356.8,172.1 358.3,172 359.8,171.9 361.3,171.9 362.8,171.8 364.3,171.8 365.8,171.7 367.3,171.7 368.8,171.6 370.3,171.6 371.8,171.6 373.3,171.5 374.8,171.5 376.3,171.5 377.8,171.4 379.3,171.3 380.8,171.2 382.3,171.1 383.7,170.9 385.2,170.6 386.7,170.3 388.2,170 389.7,169.7 391.2,169.5 392.6,169.3 394.1,169.2 395.6,169.2 397.1,169.2 398.7,169.2 400.2,169.2 401.7,169.2 403.2,169.2 404.7,169.3 406.2,169.3 407.6,169.3 409.1,169.5 410.5,169.9 411.9,170.4 413.3,171 414.7,171.7 416.1,172.4 417.5,173.1 418.8,173.8 420.2,174.5 421.5,175.2 422.8,176 424,176.8 425.3,177.6 426.6,178.5 427.8,179.3 429.1,180.1 430.4,180.8 431.7,181.5 433.1,182.1 434.5,182.7 435.9,183.3 437.3,183.9 438.7,184.4 440.1,184.9 441.5,185.4 442.9,185.8 444.4,186.3 445.8,186.6 447.3,187 448.7,187.3 450.2,187.7 451.7,188 453.2,188.3 454.6,188.6 456.1,188.8 457.6,189.1 459.1,189.4 460.6,189.6 462,189.8 463.5,190.1 465,190.3 466.5,190.5 468,190.7 469.5,190.9 471,191 472.5,191.1 474,191.3 475.5,191.4 477,191.5 478.5,191.6 479.9,191.8 481.4,192 482.9,192.2 484.4,192.4 485.9,192.6 487.4,192.8 488.9,193 490.4,193.2 491.9,193.4 493.3,193.6 494.8,193.7 496.3,193.9 497.8,194 499.3,194.1 500.8,194.2 502.3,194.4 503.8,194.5 505.3,194.6 506.8,194.7 508.3,194.8 509.8,194.9 511.3,195 512.8,195.1 514.3,195.2 515.8,195.3 517.3,195.4 518.8,195.5 520.3,195.5"/>
<polyline class="band" stroke-width="9.2" points="520.3,195.5 521.8,195.6 523.3,195.7 524.8,195.7 526.3,195.8 527.8,195.9 529.3,195.9 530.8,196 532.3,196 533.8,196 535.3,196.1 536.8,196.1 538.3,196.1 539.8,196.2 541.3,196.2 542.8,196.2 544.3,196.2 545.8,196.3 547.3,196.3 548.8,196.3 550.3,196.3 551.8,196.3 553.3,196.4 554.8,196.4 556.3,196.4 557.8,196.4 559.3,196.5 560.8,196.5 562.3,196.5 563.8,196.5 565.3,196.5 566.8,196.6 568.3,196.6 569.8,196.6 571.3,196.6 572.8,196.7 574.3,196.7 575.8,196.7 577.3,196.7 578.8,196.8 580.3,196.8 581.8,196.8 583.3,196.8 584.8,196.9 586.3,196.9 587.9,196.9 589.4,196.9 590.9,197 592.4,197 593.9,197 595.4,197 596.9,197.1 598.4,197.1 599.9,197.1 601.4,197.1 602.9,197.1 604.4,197.2 605.9,197.2 607.4,197.2 608.9,197.2 610.4,197.2 611.9,197.3 613.4,197.3 614.9,197.3 616.4,197.3 617.9,197.3 619.4,197.3 620.9,197.3 622.4,197.4 623.9,197.4 625.4,197.4 626.9,197.4 628.4,197.4 629.9,197.4 631.4,197.4 632.9,197.4 634.4,197.4 635.9,197.4 637.4,197.4 638.9,197.4 640.4,197.4 641.9,197.4 643.4,197.4 644.9,197.4 646.4,197.3 647.9,197.3 649.4,197.3 650.9,197.3 652.4,197.3 653.9,197.3 655.4,197.2 656.9,197.2 658.4,197.2 659.9,197.2 661.4,197.1 662.9,197.1 664.4,197.1 665.9,197 667.4,197 668.9,197 670.4,197 671.9,196.9 673.4,196.9 674.9,196.9 676.4,196.8 677.9,196.8 679.4,196.8 680.9,196.7 682.4,196.7 683.9,196.7 685.4,196.6 686.9,196.6 688.4,196.6 689.9,196.5 691.4,196.5 692.9,196.5 694.4,196.4 695.9,196.4 697.4,196.4 698.9,196.3 700.4,196.3 701.9,196.3 703.5,196.2 705,196.2 706.5,196.2 708,196.1 709.5,196.1 711,196.1 712.5,196 714,196 715.5,196 717,195.9 718.5,195.9 720,195.8 721.5,195.8 723,195.8 724.5,195.7 726,195.7 727.5,195.6 729,195.6 730.5,195.6 732,195.5 733.5,195.5 735,195.5 736.5,195.4 738,195.4 739.5,195.3 741,195.3 742.5,195.3 744,195.2 745.5,195.2 747,195.2 748.5,195.1 750,195.1 751.5,195.1 753,195.1 754.5,195 756,195 757.5,195 759,195 760.5,194.9 762,194.9 763.5,194.9 765,194.9 766.5,194.8 768,194.8 769.5,194.8 771,194.8 772.5,194.8 774,194.8 775.5,194.7 777,194.7 778.5,194.7 780,194.7 781.5,194.7 783,194.7 784.5,194.7 786,194.6 787.5,194.6 789,194.6 790.5,194.6 792,194.6 793.5,194.6 795,194.6 796.6,194.6 798.1,194.5 799.6,194.5 801.1,194.5 802.6,194.5 804.1,194.5 805.6,194.5 807.1,194.4 808.6,194.4 810.1,194.4 811.6,194.4 813.1,194.4 814.6,194.3 816.1,194.3 817.6,194.3 819.1,194.3 820.6,194.2 822.1,194.2 823.6,194.2 825.1,194.2 826.6,194.1 828.1,194.1 829.6,194.1 831.1,194 832.6,194 834.1,193.9 835.5,193.9 837,193.8 838.5,193.7 840,193.6 841.5,193.5 843,193.4 844.5,193.3 846,193.1 847.5,193 849,192.8 850.5,192.7 852,192.5 853.5,192.3 855,192.2 856.5,192 858,191.8 859.5,191.6 861,191.4 862.5,191.2 864,191 865.4,190.8 866.9,190.7 868.4,190.5 869.9,190.3 871.4,190.1 872.9,189.9 874.4,189.7 875.9,189.5 877.4,189.3 878.9,189.1 880.4,188.9 882,188.8 883.5,188.6 885,188.4 886.5,188.2 888.1,187.9 889.6,187.7 891.1,187.5 892.6,187.3 894.1,187 895.6,186.8 897.1,186.5 898.6,186.3 900.1,186 901.6,185.7 903,185.4 904.5,185 905.9,184.7 907.3,184.4 908.7,184 910,183.6 911.4,183.2 912.7,182.7 914.1,182.2 915.4,181.6 916.7,180.9 918,180.1 919.3,179.2 920.6,178.3 921.8,177.4 923.1,176.4"/>
<polyline class="band" stroke-width="8.8" points="923.1,176.4 924.2,175.4 925.4,174.4 926.5,173.4 927.6,172.4 928.6,171.4 929.6,170.3 930.6,169.3 931.6,168.1 932.5,167 933.4,165.8 934.3,164.6 935.2,163.4 936.1,162.1 936.9,160.9 937.8,159.6 938.6,158.3 939.4,157 940.3,155.7 941.1,154.4 941.9,153.2 942.8,151.9 943.6,150.6 944.4,149.4 945.2,148.1 946,146.8 946.8,145.5 947.6,144.2 948.3,142.9 949.1,141.6 949.8,140.2 950.6,138.9 951.4,137.6 952.2,136.4 953,135.1 953.8,133.9 954.7,132.7 955.6,131.5 956.5,130.4 957.5,129.2 958.5,128.1 959.5,126.9 960.6,125.8 961.7,124.7 962.8,123.6 964,122.6"/>
<polyline class="band" stroke-width="9.2" points="964,122.6 965.2,121.7 966.4,120.9 967.6,120.2 968.9,119.6 970.2,119 971.6,118.4 973.1,117.8 974.6,117.3 976.1,116.9 977.6,116.6 979.1,116.4 980.5,116.4 982,116.5 983.4,116.8 984.9,117.1 986.4,117.6 987.8,118 989.3,118.5 990.7,119 992.2,119.4 993.6,119.9 995,120.4 996.4,120.9 997.8,121.5 999.2,122 1000.6,122.6 1002,123.2 1003.3,123.8 1004.7,124.4 1006.1,125 1007.5,125.6 1008.9,126.2 1010.3,126.7 1011.7,127.3 1013.1,127.8 1014.5,128.4 1015.9,128.9 1017.3,129.5 1018.7,130 1020.1,130.6 1021.5,131.1 1022.9,131.7 1024.3,132.2 1025.8,132.7 1027.2,133.1 1028.6,133.6 1030.1,133.9 1031.5,134.3 1032.9,134.6 1034.4,134.9 1035.9,135.2 1037.4,135.5 1038.8,135.8 1040.3,136.1 1041.8,136.4 1043.3,136.6 1044.8,136.9 1046.3,137.1 1047.8,137.2 1049.3,137.3 1050.8,137.4 1052.3,137.4 1053.8,137.4 1055.3,137.4 1056.8,137.4 1058.3,137.4 1059.8,137.4 1061.3,137.4 1062.8,137.4 1064.3,137.4 1065.8,137.4 1067.3,137.4 1068.8,137.4 1070.3,137.4 1071.8,137.4 1073.3,137.4 1074.8,137.4 1076.3,137.4 1077.8,137.4 1079.3,137.4 1080.8,137.4 1082.3,137.4 1083.8,137.4 1085.3,137.4 1086.8,137.4 1088.3,137.4 1089.8,137.4 1091.3,137.4 1092.8,137.4 1094.3,137.4 1095.8,137.4 1097.3,137.3 1098.8,137.3 1100.3,137.2 1101.8,137.1 1103.3,137 1104.8,136.9 1106.3,136.8 1107.8,136.7 1109.3,136.6 1110.8,136.5 1112.3,136.3 1113.8,136.2 1115.3,136 1116.8,135.9 1118.3,135.7 1119.8,135.6 1121.3,135.4 1122.8,135.3 1124.3,135.1 1125.8,135 1127.3,134.8 1128.8,134.7 1130.2,134.6 1131.7,134.4 1133.2,134.3 1134.7,134.1 1136.2,134 1137.7,133.8 1139.2,133.7 1140.7,133.5 1142.2,133.4 1143.7,133.2 1145.2,133 1146.7,132.8 1148.2,132.7 1149.7,132.5 1151.1,132.3 1152.6,132.1 1154.1,132 1155.6,131.8 1157.1,131.6 1158.6,131.5 1160.1,131.3 1161.6,131.1 1163.1,131 1164.6,130.8 1166.1,130.7 1167.6,130.5 1169.1,130.4 1170.6,130.3 1172.1,130.1 1173.5,130 1175,129.8 1176.5,129.7 1178,129.6 1179.5,129.4 1181,129.3 1182.5,129.1 1184,129 1185.5,128.8 1187,128.7 1188.5,128.5 1190,128.4 1191.5,128.2 1193,128.1 1194.5,127.9 1196,127.8 1197.5,127.7 1199,127.5 1200.5,127.4 1202,127.3 1203.5,127.1 1205,127 1206.5,126.9 1208,126.8 1209.5,126.6 1211,126.5 1212.5,126.4 1214,126.3 1215.5,126.2 1217,126.1 1218.5,126 1220,125.9 1221.5,125.9 1223,125.8 1224.5,125.7 1226,125.6 1227.5,125.6 1229,125.5 1230.5,125.5 1232,125.5 1233.5,125.4 1235,125.4 1236.5,125.4 1238,125.4 1239.4,125.4 1240.9,125.4 1242.4,125.4 1243.9,125.5 1245.4,125.5 1246.9,125.5 1248.4,125.6 1249.9,125.6 1251.4,125.7 1252.9,125.8 1254.4,125.8 1255.9,125.9 1257.4,126 1258.9,126.1 1260.4,126.2 1261.9,126.3 1263.4,126.4 1264.9,126.5 1266.4,126.6 1267.9,126.7 1269.4,126.8 1270.9,126.9 1272.4,127 1273.9,127.1 1275.4,127.2 1276.9,127.3 1278.4,127.4 1279.9,127.6 1281.4,127.7 1282.9,127.8 1284.4,127.9 1285.9,128 1287.4,128.1 1288.9,128.2 1290.4,128.4 1291.9,128.5 1293.4,128.6 1294.9,128.7 1296.4,128.8 1297.9,128.9 1299.4,129 1300.9,129 1302.4,129.1 1303.9,129.2 1305.4,129.3 1306.9,129.4 1308.4,129.4 1309.9,129.5 1311.4,129.5 1312.9,129.6 1314.4,129.7 1315.9,129.7 1317.4,129.8 1318.9,129.9 1320.4,129.9 1321.9,130 1323.4,130.1 1324.9,130.2 1326.4,130.2 1327.9,130.3 1329.4,130.4 1330.9,130.4 1332.4,130.5 1333.9,130.5 1335.4,130.6 1336.9,130.7 1338.4,130.7 1339.9,130.8 1341.4,130.8 1342.9,130.9 1344.4,131 1345.9,131 1347.4,131 1348.9,131.1 1350.4,131.1 1351.9,131.2 1353.4,131.2 1354.9,131.2 1356.4,131.3 1357.9,131.3 1359.4,131.3 1360.9,131.4 1362.4,131.4 1363.9,131.4 1365.4,131.4 1366.9,131.4 1368.4,131.4 1369.9,131.4 1371.4,131.4 1372.9,131.4 1374.4,131.4 1375.9,131.4 1377.4,131.4 1378.9,131.4 1380.4,131.4 1381.9,131.4 1383.4,131.4 1384.9,131.4 1386.4,131.4 1388,131.4 1389.5,131.4 1391,131.4 1392.5,131.4 1394,131.4 1395.5,131.4 1397,131.4 1398.5,131.4 1400,131.4 1401.5,131.4 1403,131.4 1404.5,131.4 1406,131.4 1407.5,131.4 1409,131.4 1410.5,131.4 1412,131.4 1413.5,131.4 1415,131.4 1416.5,131.4 1418,131.4 1419.5,131.4 1421,131.4 1422.5,131.4 1424,131.4 1425.5,131.4 1427,131.4 1428.5,131.4 1430,131.4 1431.5,131.4 1433,131.4 1434.5,131.3 1436,131.3 1437.5,131.3 1439,131.2 1440.5,131.2 1442,131.1 1443.5,131 1445,131 1446.5,130.9 1448,130.8 1449.5,130.8 1451,130.7 1452.5,130.6 1454,130.5 1455.5,130.4 1457,130.3 1458.5,130.2 1460,130.1 1461.5,130 1463,130 1464.5,129.9 1466,129.8 1467.5,129.7 1469,129.6 1470.5,129.5 1472,129.4 1473.5,129.3 1475,129.2 1476.5,129 1478,128.9 1479.5,128.8 1481,128.7 1482.5,128.6 1484,128.4 1485.5,128.3 1487,128.1 1488.5,128 1490,127.8 1491.5,127.7 1493,127.5 1494.5,127.3 1495.9,127.1 1497.4,126.9 1498.9,126.7 1500.4,126.5 1501.9,126.3 1503.4,126.1 1504.8,125.9 1506.3,125.6 1507.8,125.3 1509.2,124.9 1510.7,124.6 1512.1,124.2 1513.6,123.8 1515,123.4 1516.5,123"/>
</g>
</g>
<g fill="#000" shape-rendering="crispEdges">
<rect x="144.5" y="10.5" width="3.5" height="922.5"/>
<rect x="144.5" y="929.5" width="1375.5" height="3.5"/>
<rect x="139.5" y="10.7" width="6" height="3"/>
<rect x="139.5" y="47.4" width="6" height="3"/>
<rect x="139.5" y="84.2" width="6" height="3"/>
<rect x="139.5" y="121" width="6" height="3"/>
<rect x="139.5" y="157.8" width="6" height="3"/>
<rect x="139.5" y="194.7" width="6" height="3"/>
<rect x="139.5" y="231.4" width="6" height="3"/>
<rect x="139.5" y="268.2" width="6" height="3"/>
<rect x="139.5" y="305" width="6" height="3"/>
<rect x="139.5" y="341.8" width="6" height="3"/>
<rect x="139.5" y="378.6" width="6" height="3"/>
<rect x="139.5" y="415.4" width="6" height="3"/>
<rect x="139.5" y="452.2" width="6" height="3"/>
<rect x="139.5" y="489" width="6" height="3"/>
<rect x="139.5" y="525.8" width="6" height="3"/>
<rect x="139.5" y="562.6" width="6" height="3"/>
<rect x="139.5" y="599.4" width="6" height="3"/>
<rect x="139.5" y="636.2" width="6" height="3"/>
<rect x="139.5" y="673" width="6" height="3"/>
<rect x="139.5" y="709.8" width="6" height="3"/>
<rect x="139.5" y="746.6" width="6" height="3"/>
<rect x="139.5" y="783.4" width="6" height="3"/>
<rect x="139.5" y="820.2" width="6" height="3"/>
<rect x="139.5" y="857" width="6" height="3"/>
<rect x="139.5" y="893.8" width="6" height="3"/>
<rect x="231.3" y="932" width="3.5" height="8"/>
<rect x="316.9" y="932" width="3.5" height="8"/>
<rect x="402.5" y="932" width="3.5" height="8"/>
<rect x="488.1" y="932" width="3.5" height="8"/>
<rect x="573.6" y="932" width="3.5" height="8"/>
<rect x="659.2" y="932" width="3.5" height="8"/>
<rect x="744.8" y="932" width="3.5" height="8"/>
<rect x="830.3" y="932" width="3.5" height="8"/>
<rect x="915.9" y="932" width="3.5" height="8"/>
<rect x="1001.5" y="932" width="3.5" height="8"/>
<rect x="1087" y="932" width="3.5" height="8"/>
<rect x="1172.6" y="932" width="3.5" height="8"/>
<rect x="1258.2" y="932" width="3.5" height="8"/>
<rect x="1343.8" y="932" width="3.5" height="8"/>
<rect x="1429.3" y="932" width="3.5" height="8"/>
<rect x="1514.9" y="932" width="3.5" height="8"/>
</g>
<text class="ax" x="39.6" y="18.6" textLength="92.6" lengthAdjust="spacingAndGlyphs">100.0 uA</text>
<text class="ax" x="50.8" y="202.3" textLength="80.8" lengthAdjust="spacingAndGlyphs">0.000 A</text>
<text class="ax" x="30.2" y="389.2" textLength="102.4" lengthAdjust="spacingAndGlyphs">-100.0 uA</text>
<text class="ax" x="30.8" y="567.4" textLength="102.6" lengthAdjust="spacingAndGlyphs">-200.0 uA</text>
<text class="ax" x="29.8" y="753.5" textLength="102.4" lengthAdjust="spacingAndGlyphs">-300.0 uA</text>
<text class="ax" x="32.6" y="933.4" textLength="102.2" lengthAdjust="spacingAndGlyphs">-400.0 uA</text>
<text class="ax" x="103.3" y="954.2" textLength="109.7" lengthAdjust="spacingAndGlyphs">-600.0 mV</text>
<text class="ax" x="532.7" y="961.7" textLength="109.1" lengthAdjust="spacingAndGlyphs">-100.0 mV</text>
<text class="ax" x="969" y="961.7" textLength="101.4" lengthAdjust="spacingAndGlyphs">400.0 mV</text>
<text class="ax" x="1397.1" y="962.2" textLength="101.5" lengthAdjust="spacingAndGlyphs">900.0 mV</text>
<text class="ax" x="706" y="1007.8" textLength="351.8" lengthAdjust="spacingAndGlyphs">Applied potential (Vf (V vs.Ref.))</text>
<text transform="translate(19.8,564.2) rotate(-90)" textLength="192.6" lengthAdjust="spacingAndGlyphs" style="font-family:'Liberation Serif','DejaVu Serif',serif;font-weight:bold;font-size:24.4px">Measured current</text>
<rect x="263" y="510.5" width="1413.6" height="387.6" fill="#ffffff" stroke="#000" stroke-width="3.5" shape-rendering="crispEdges"/>
<g fill="#0000C0" stroke="#0000C0" shape-rendering="crispEdges"><line x1="271.2" y1="563.9" x2="297.6" y2="563.9" stroke-width="2"/><circle cx="284.4" cy="563.9" r="5.5" stroke="none"/></g>
<text class="lg" x="306.3" y="570.3">CURVE1 (10_6_21 E26 10mM 2.DTA)</text>
<g fill="#408040" stroke="#408040" shape-rendering="crispEdges"><line x1="740.1" y1="563.9" x2="766.5" y2="563.9" stroke-width="2"/><circle cx="753.3" cy="563.9" r="5.5" stroke="none"/></g>
<text class="lg" x="775.2" y="570.3">CURVE1 (10_6_21 E26 5mM 1.DTA)</text>
<g fill="#FF00FF" stroke="#FF00FF" shape-rendering="crispEdges"><line x1="1209" y1="563.9" x2="1235.4" y2="563.9" stroke-width="2"/><circle cx="1222.2" cy="563.9" r="5.5" stroke="none"/></g>
<text class="lg" x="1244.1" y="570.3">CURVE1 (10_6_21 E26 2mM 1.DTA)</text>
<g fill="#40FFFF" stroke="#40FFFF" shape-rendering="crispEdges"><line x1="271.2" y1="657.6" x2="297.6" y2="657.6" stroke-width="2"/><circle cx="284.4" cy="657.6" r="5.5" stroke="none"/></g>
<text class="lg" x="306.3" y="664">CURVE1 (10_6_21 E26 1mM 2.DTA)</text>
<g fill="#000000" stroke="#000000" shape-rendering="crispEdges"><line x1="740.1" y1="657.6" x2="766.5" y2="657.6" stroke-width="2"/><circle cx="753.3" cy="657.6" r="5.5" stroke="none"/></g>
<text class="lg" x="775.2" y="664">CURVE1 (10_6_21 E26 10uM 1.DTA)</text>
<g fill="#FF4040" stroke="#FF4040" shape-rendering="crispEdges"><line x1="1209" y1="657.6" x2="1235.4" y2="657.6" stroke-width="2"/><circle cx="1222.2" cy="657.6" r="5.5" stroke="none"/></g>
<text class="lg" x="1244.1" y="664">CURVE1 (10_6_21 E26 100uM 1.DTA)</text>
<g fill="#804080" stroke="#804080" shape-rendering="crispEdges"><line x1="271.2" y1="751.3" x2="297.6" y2="751.3" stroke-width="2"/><circle cx="284.4" cy="751.3" r="5.5" stroke="none"/></g>
<text class="lg" x="306.3" y="757.7">CURVE1 (13_6_21 E26 1uM 1.DTA)</text>
<g fill="#00C000" stroke="#00C000" shape-rendering="crispEdges"><line x1="740.1" y1="751.3" x2="766.5" y2="751.3" stroke-width="2"/><circle cx="753.3" cy="751.3" r="5.5" stroke="none"/></g>
<text class="lg" x="775.2" y="757.7">CURVE1 (13_6_21 E26 5uM 1.DTA)</text>
<g fill="#FFC0C0" stroke="#FFC0C0" shape-rendering="crispEdges"><line x1="1209" y1="751.3" x2="1235.4" y2="751.3" stroke-width="2"/><circle cx="1222.2" cy="751.3" r="5.5" stroke="none"/></g>
<text class="lg" x="1244.1" y="757.7">CURVE1 (13_6_21 E26 0.1uM 2.DTA)</text>
<g fill="#FFFF40" stroke="#FFFF40" shape-rendering="crispEdges"><line x1="271.2" y1="845.2" x2="297.6" y2="845.2" stroke-width="2"/><circle cx="284.4" cy="845.2" r="5.5" stroke="none"/></g>
<text class="lg" x="306.3" y="851.6">CURVE1 (13_6_21 E26 0.1uM Baseline1.DTA)</text>
<g fill="#808000" stroke="#808000" shape-rendering="crispEdges"><line x1="740.1" y1="845.2" x2="766.5" y2="845.2" stroke-width="2"/><circle cx="753.3" cy="845.2" r="5.5" stroke="none"/></g>
<text class="lg" x="775.2" y="851.6">CURVE2 (13_6_21 E26 0.1uM Baseline1.DTA)</text>
</svg>
</body>
</html>
